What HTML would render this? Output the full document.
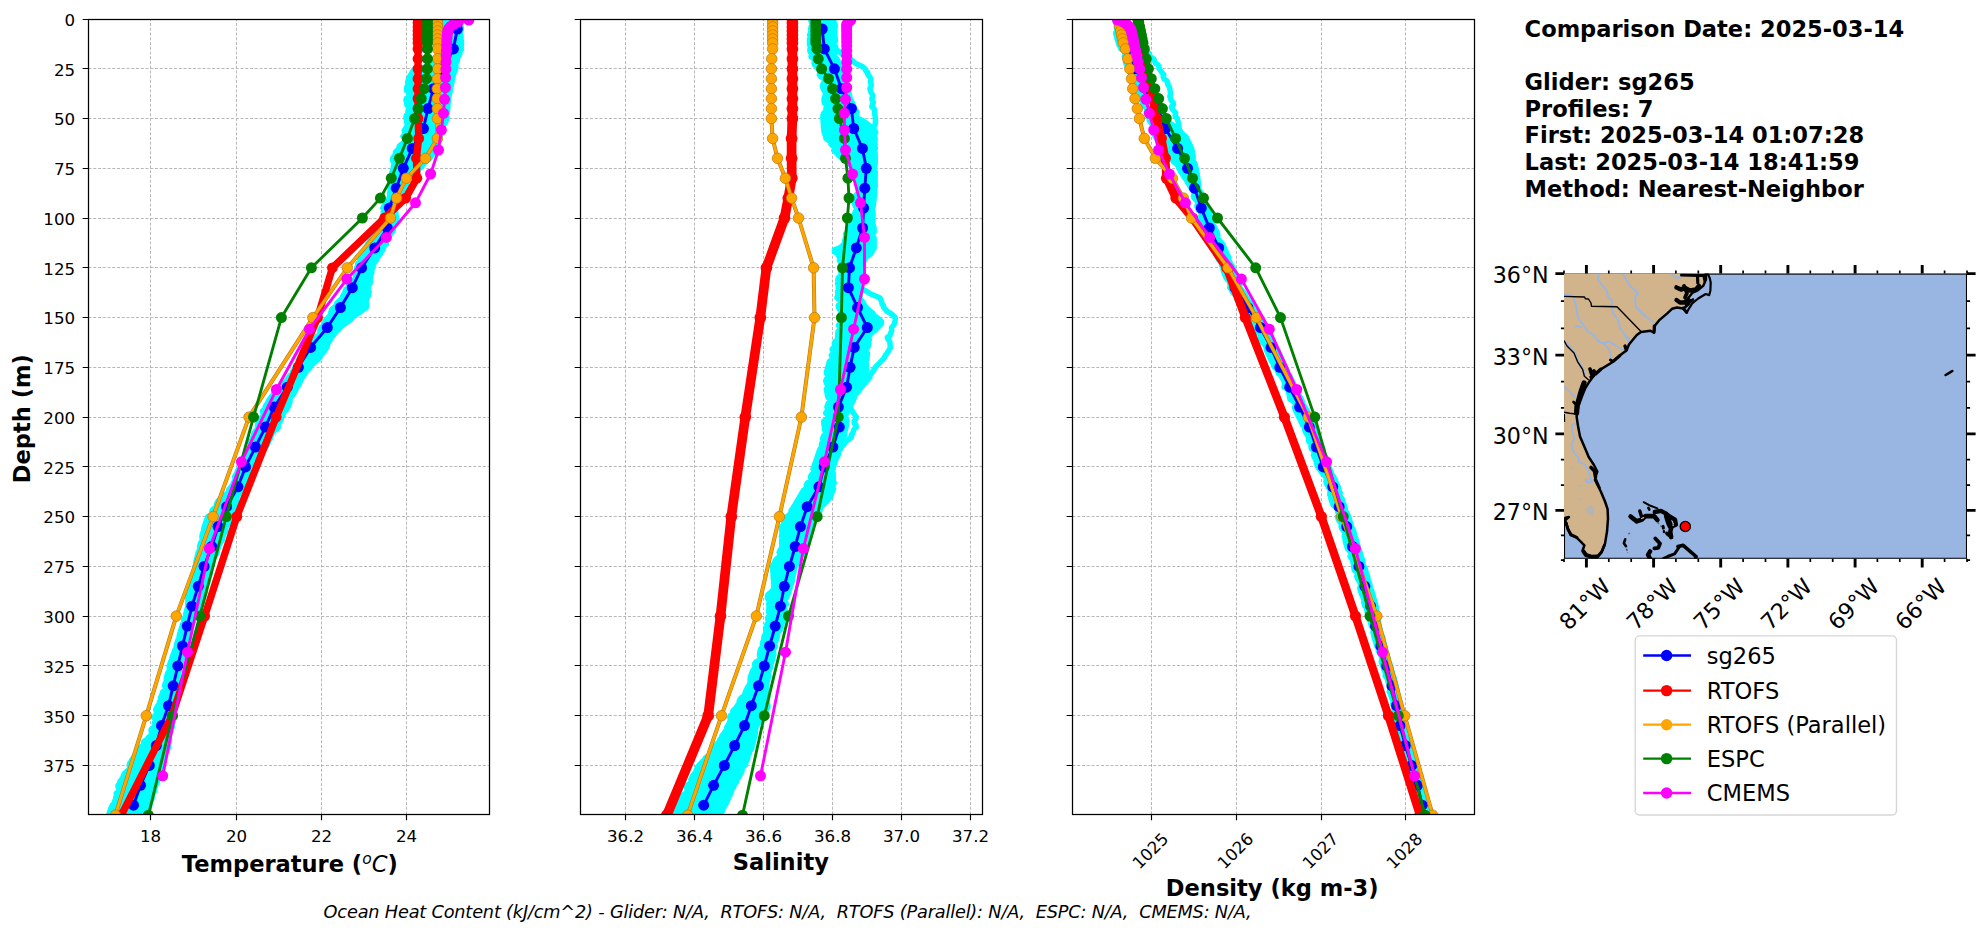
<!DOCTYPE html>
<html lang="en"><head><meta charset="utf-8"><title>Glider / model profile comparison sg265 2025-03-14</title>
<style>html,body{margin:0;padding:0;background:#fff}body{width:1978px;height:934px;overflow:hidden}svg{display:block}text{font-family:"DejaVu Sans","Liberation Sans",sans-serif;fill:#000}</style></head><body>
<svg width="1978" height="934" viewBox="0 0 1978 934">
<rect width="1978" height="934" fill="#fff"/>
<defs>
<clipPath id="c0"><rect x="88.8" y="19.8" width="400.4" height="794.4"/></clipPath>
<clipPath id="c1"><rect x="580.8" y="19.8" width="401.4" height="794.4"/></clipPath>
<clipPath id="c2"><rect x="1072.8" y="19.8" width="401.4" height="794.4"/></clipPath>
</defs>
<path d="M88.5 68.5H489.5M88.5 118.5H489.5M88.5 168.5H489.5M88.5 218.5H489.5M88.5 267.5H489.5M88.5 317.5H489.5M88.5 367.5H489.5M88.5 417.5H489.5M88.5 466.5H489.5M88.5 516.5H489.5M88.5 566.5H489.5M88.5 616.5H489.5M88.5 665.5H489.5M88.5 715.5H489.5M88.5 765.5H489.5M150.5 814.5V19.5M236.5 814.5V19.5M321.5 814.5V19.5M406.5 814.5V19.5" stroke="#b0b0b0" stroke-width="0.9" stroke-dasharray="3.0 1.75" fill="none"/>
<g clip-path="url(#c0)">
<g fill="none" stroke="#00ffff" stroke-width="5.5" stroke-linejoin="round" stroke-linecap="round">
<polygon points="443.8,19 445,21 444.9,23 445,25 444.8,27 444.2,29 443.7,30.9 442.7,32.9 444,34.9 444.5,36.9 442.1,38.9 441.9,40.9 442.4,42.9 444.3,44.9 443,46.9 442.5,48.9 441.1,50.8 440.3,52.8 439.5,54.8 438.7,56.8 437.9,58.8 435.9,60.8 433.9,62.8 432.5,64.8 429.9,66.8 414.4,68.8 413.2,70.8 412,72.7 410.8,74.7 409.6,76.7 408.8,78.7 408,80.7 407.7,82.7 408.4,84.7 406.9,86.7 406.5,88.7 406.6,90.7 409,92.6 408.9,94.6 408.6,96.6 406.3,98.6 406,100.6 406.7,102.6 406.8,104.6 408.2,106.6 408.7,108.6 408,110.6 408.2,112.6 407,114.5 406,116.5 406,118.5 406.8,120.5 407.5,122.5 407.5,124.5 408.1,126.5 405.9,128.5 404.3,130.5 405.5,132.5 404.5,134.4 402.9,136.4 404.4,138.4 404.5,140.4 403.9,142.4 401.4,144.4 399.2,146.4 398.9,148.4 397.1,150.4 395.4,152.4 396.2,154.4 394.3,156.3 392.6,158.3 392.5,160.3 393.5,162.3 394,164.3 393.3,166.3 393.6,168.3 392.5,170.3 391.8,172.3 392.1,174.3 391.5,176.2 391.4,178.2 391.2,180.2 390.9,182.2 390.7,184.2 390.5,186.2 390.2,188.2 390.3,190.2 389.8,192.2 389.6,194.2 389.8,196.2 389.1,198.1 387.9,200.1 386.6,202.1 385.4,204.1 384.1,206.1 382.9,208.1 384.7,210.1 383.3,212.1 383.5,214.1 386.5,216.1 385.1,218 384.4,220 383.5,222 382.6,224 382.2,226 382,228 379.3,230 376.9,232 374.6,234 374.8,236 372,238 369.8,239.9 369.1,241.9 367.8,243.9 367.1,245.9 367.2,247.9 365,249.9 363.6,251.9 362.9,253.9 360.8,255.9 359.4,257.9 362.6,259.9 359.6,261.8 357.7,263.8 358.5,265.8 356.5,267.8 357,269.8 357.1,271.8 355.2,273.8 355.5,275.8 355.6,277.8 354.7,279.8 352.1,281.7 348.9,283.7 348.8,285.7 347.9,287.7 345.7,289.7 345,291.7 344.3,293.7 342.8,295.7 342.5,297.7 340.5,299.7 338.3,301.7 336.6,303.6 336.2,305.6 333.6,307.6 331.7,309.6 331.1,311.6 330.6,313.6 330.1,315.6 328,317.6 326,319.6 325.1,321.6 324.1,323.5 323.3,325.5 321.3,327.5 320.1,329.5 319.8,331.5 320.4,333.5 318.4,335.5 315.7,337.5 315.9,339.5 311.7,341.5 309.8,343.5 308,345.4 306.1,347.4 307.5,349.4 307,351.4 305.3,353.4 304.2,355.4 300.3,357.4 298.9,359.4 299,361.4 299.4,363.4 295.8,365.3 295.1,367.3 294.1,369.3 292.6,371.3 293.9,373.3 290.7,375.3 288.6,377.3 287.6,379.3 285.7,381.3 283.6,383.3 281,385.3 278.2,387.2 278.3,389.2 275.9,391.2 273.7,393.2 272.9,395.2 271.1,397.2 269.6,399.2 268.2,401.2 267.8,403.2 265.9,405.2 265.1,407.1 265.3,409.1 262.4,411.1 263,413.1 264.6,415.1 262.7,417.1 259.6,419.1 259,421.1 258.3,423.1 257.6,425.1 258.3,427.1 258.1,429 255.5,431 254.6,433 253.7,435 252.9,437 252.6,439 251,441 250,443 251.8,445 251.6,447 248.8,448.9 248.9,450.9 248.3,452.9 244.9,454.9 244.8,456.9 244.3,458.9 242.1,460.9 241.9,462.9 241.2,464.9 239.7,466.9 238.8,468.9 237.4,470.8 237,472.8 235.9,474.8 234.6,476.8 235.7,478.8 235.6,480.8 234.6,482.8 235.3,484.8 233.2,486.8 229.6,488.8 228.5,490.7 228.5,492.7 226.6,494.7 224.2,496.7 222.6,498.7 222,500.7 218.5,502.7 217,504.7 217.3,506.7 213.9,508.7 212,510.7 212.3,512.6 211.7,514.6 207.8,516.6 207.1,518.6 206.4,520.6 205.7,522.6 205,524.6 204.3,526.6 203.8,528.6 203.7,530.6 202.9,532.5 202.4,534.5 201.9,536.5 202.1,538.5 202.4,540.5 200.8,542.5 200.1,544.5 199.6,546.5 199.7,548.5 199.4,550.5 198.2,552.5 197.7,554.4 197.2,556.4 196.9,558.4 196.3,560.4 195.8,562.4 196.4,564.4 194.9,566.4 196.2,568.4 197.2,570.4 195.9,572.4 195.3,574.3 193.5,576.3 194.4,578.3 195.7,580.3 194.1,582.3 192.4,584.3 191.5,586.3 189.8,588.3 190.1,590.3 190,592.3 189.2,594.3 187.9,596.2 187.9,598.2 187.9,600.2 187.9,602.2 187.9,604.2 187.9,606.2 187.3,608.2 186.7,610.2 186.2,612.2 185.6,614.2 185.6,616.1 184.4,618.1 183.8,620.1 185,622.1 182.7,624.1 182.1,626.1 181.5,628.1 180.9,630.1 180.3,632.1 179.7,634.1 179.1,636.1 179.1,638 178,640 177.4,642 176.8,644 176.2,646 178.4,648 177.5,650 175,652 174.2,654 172.7,656 172,658 171.8,659.9 170.6,661.9 169.9,663.9 169.2,665.9 169.3,667.9 169.7,669.9 168.4,671.9 167.4,673.9 166.9,675.9 166.4,677.9 166.3,679.8 166.1,681.8 165.1,683.8 164.6,685.8 166.5,687.8 167.1,689.8 164.4,691.8 164.1,693.8 164.4,695.8 163.3,697.8 161.3,699.8 159.4,701.7 159.3,703.7 158.1,705.7 156.7,707.7 155.7,709.7 156.5,711.7 156.5,713.7 154.9,715.7 153.8,717.7 155.6,719.7 155.5,721.6 154.2,723.6 155.2,725.6 153.3,727.6 151.1,729.6 151.2,731.6 151.6,733.6 150.7,735.6 148.2,737.6 146.8,739.6 143.8,741.6 143.6,743.5 143.5,745.5 139.9,747.5 138.6,749.5 137.4,751.5 136.1,753.5 134.8,755.5 133.5,757.5 132.2,759.5 131,761.5 129.7,763.4 129.3,765.4 129.9,767.4 129.3,769.4 126.9,771.4 124.7,773.4 123.5,775.4 122.9,777.4 121.8,779.4 120,781.4 119.5,783.4 118.1,785.3 118.1,787.3 119.1,789.3 118.6,791.3 116.2,793.3 116.6,795.3 115.7,797.3 115.6,799.3 114.5,801.3 114.5,803.3 112.2,805.2 111.4,807.2 110.7,809.2 110,811.2 109.3,813.2 108.6,815.2 145.6,815.2 146.5,813.2 148.2,811.2 148.9,809.2 147.5,807.2 148.7,805.2 149.2,803.3 150.2,801.3 150.4,799.3 151.2,797.3 151.3,795.3 153.1,793.3 154.4,791.3 153.1,789.3 152.9,787.3 155.5,785.3 156.8,783.4 157.5,781.4 158.2,779.4 158.5,777.4 157.8,775.4 158.8,773.4 161,771.4 160.1,769.4 159.5,767.4 161.6,765.4 161.3,763.4 161,761.5 163.9,759.5 164.1,757.5 164.1,755.5 164.1,753.5 165.3,751.5 167.7,749.5 168.3,747.5 168.5,745.5 169.1,743.5 169,741.6 169.5,739.6 169.1,737.6 169,735.6 170,733.6 168.3,731.6 168.6,729.6 172.1,727.6 172.4,725.6 170,723.6 171,721.6 171.9,719.7 172.5,717.7 171.9,715.7 170.3,713.7 171.2,711.7 171.6,709.7 170.7,707.7 170.6,705.7 171.4,703.7 171,701.7 171.4,699.8 171.4,697.8 170.5,695.8 169.6,693.8 169.5,691.8 171.8,689.8 174.2,687.8 174.9,685.8 176.4,683.8 176.7,681.8 177.3,679.8 177.8,677.9 178.3,675.9 177.5,673.9 177.8,671.9 177.3,669.9 177.3,667.9 179.1,665.9 178.3,663.9 178.5,661.9 179.5,659.9 181.7,658 181.9,656 181.8,654 183.2,652 183,650 184.1,648 185.3,646 185.9,644 186.5,642 187,640 186.2,638 188.2,636.1 188.8,634.1 188.7,632.1 189.9,630.1 189.1,628.1 190.5,626.1 191.9,624.1 192.8,622.1 192.3,620.1 192.4,618.1 193.9,616.1 193.7,614.2 195.5,612.2 197.8,610.2 198.7,608.2 196.9,606.2 199.6,604.2 201.3,602.2 202.3,600.2 203,598.2 202,596.2 203.5,594.3 204.9,592.3 203.6,590.3 202.9,588.3 203.5,586.3 206.5,584.3 207.5,582.3 206,580.3 207,578.3 207.7,576.3 209.8,574.3 209.4,572.4 208.7,570.4 209.9,568.4 210.3,566.4 210.8,564.4 209.6,562.4 210.6,560.4 212.3,558.4 213.1,556.4 213.9,554.4 217.1,552.5 217.1,550.5 218,548.5 218.4,546.5 217.7,544.5 219.7,542.5 221.8,540.5 220.2,538.5 220.7,536.5 223.1,534.5 223.5,532.5 223.5,530.6 224.8,528.6 224.1,526.6 224.6,524.6 227.5,522.6 228.1,520.6 228.9,518.6 230.5,516.6 231.9,514.6 232.5,512.6 231.8,510.7 232.8,508.7 236.4,506.7 238.2,504.7 237.8,502.7 236.1,500.7 235.9,498.7 235.8,496.7 237.7,494.7 238.6,492.7 238.5,490.7 238.9,488.8 240.1,486.8 242.8,484.8 244.1,482.8 243.7,480.8 245.3,478.8 246.6,476.8 247.4,474.8 248.2,472.8 249,470.8 248.9,468.9 248.8,466.9 250.3,464.9 252.8,462.9 254.9,460.9 254.7,458.9 255.1,456.9 257.9,454.9 261.2,452.9 262.8,450.9 264.3,448.9 265.8,447 267,445 268.1,443 268.1,441 267.6,439 268.8,437 270.9,435 271.5,433 273.4,431 276.7,429 276.6,427.1 275.7,425.1 277.2,423.1 280.2,421.1 281.4,419.1 281.5,417.1 283.1,415.1 283.2,413.1 284.8,411.1 286.8,409.1 288,407.1 288.8,405.2 289.3,403.2 289.7,401.2 288.7,399.2 288.5,397.2 292.5,395.2 294.1,393.2 294.9,391.2 294,389.2 295.1,387.2 298.1,385.3 299.5,383.3 300.4,381.3 301.4,379.3 302.2,377.3 303.9,375.3 303.1,373.3 304.9,371.3 308.1,369.3 310,367.3 310.7,365.3 311.9,363.4 314.4,361.4 317.9,359.4 319.8,357.4 319,355.4 320.9,353.4 324,351.4 325.4,349.4 326.8,347.4 325.8,345.4 326,343.5 326.9,341.5 328.5,339.5 329.8,337.5 333,335.5 332.5,333.5 333.3,331.5 338,329.5 339.7,327.5 340.9,325.5 345.2,323.5 347.3,321.6 350.2,319.6 352.1,317.6 353.4,315.6 355.4,313.6 357.8,311.6 361,309.6 365.7,307.6 366.6,305.6 366.5,303.6 365.4,301.7 365.2,299.7 367.2,297.7 365.9,295.7 366.3,293.7 369.2,291.7 367.9,289.7 365.9,287.7 368.1,285.7 369.9,283.7 370.3,281.7 369.5,279.8 370.7,277.8 370.5,275.8 368.1,273.8 368.9,271.8 370.9,269.8 372.1,267.8 372.5,265.8 373.6,263.8 373.1,261.8 374,259.9 374.3,257.9 375.9,255.9 378.8,253.9 380.4,251.9 382.5,249.9 382.8,247.9 383.5,245.9 384.7,243.9 384.3,241.9 386,239.9 389,238 389.6,236 389.5,234 392.3,232 393.2,230 393.3,228 392.2,226 394.5,224 395.5,222 396,220 396.5,218 396.2,216.1 395.9,214.1 395.7,212.1 395.4,210.1 394,208.1 393.7,206.1 398.2,204.1 399.7,202.1 400.8,200.1 402.7,198.1 403.4,196.2 404,194.2 404,192.2 404.1,190.2 404.3,188.2 405.1,186.2 405.3,184.2 405.1,182.2 406.1,180.2 407.4,178.2 410.4,176.2 412.4,174.3 415.3,172.3 417.5,170.3 419.7,168.3 421.9,166.3 422.9,164.3 423.4,162.3 426.5,160.3 428.5,158.3 429.6,156.3 432.7,154.4 433.6,152.4 434.5,150.4 434.6,148.4 436.1,146.4 436.7,144.4 438.2,142.4 439.2,140.4 438.6,138.4 438.5,136.4 438.7,134.4 438.9,132.5 441,130.5 441.7,128.5 441.5,126.5 441.8,124.5 444.6,122.5 445,120.5 444.8,118.5 445.3,116.5 446.5,114.5 447.4,112.6 447.5,110.6 447.6,108.6 447.8,106.6 448,104.6 448.1,102.6 448.3,100.6 448.5,98.6 448.9,96.6 449.3,94.6 449.7,92.6 450.1,90.7 450.5,88.7 450.9,86.7 451.3,84.7 451.7,82.7 452.1,80.7 452.5,78.7 453.1,76.7 453.4,74.7 454,72.7 454.8,70.8 455.4,68.8 456.1,66.8 455.3,64.8 456.1,62.8 456.8,60.8 457.4,58.8 458.2,56.8 458,54.8 457.9,52.8 460.5,50.8 461.4,48.9 460.5,46.9 461.4,44.9 461.4,42.9 461.4,40.9 460.8,38.9 459.4,36.9 459.9,34.9 458.8,32.9 459.9,30.9 461.3,29 460.6,27 460,25 460,23 461.2,21 461.1,19" fill="#00ffff" stroke="none"/>
<polyline points="443.8,19 445,21 444.9,23 445,25 444.8,27 444.2,29 443.7,30.9 442.7,32.9 444,34.9 444.5,36.9 442.1,38.9 441.9,40.9 442.4,42.9 444.3,44.9 443,46.9 442.5,48.9 441.1,50.8 440.3,52.8 439.5,54.8 438.7,56.8 437.9,58.8 435.9,60.8 433.9,62.8 432.5,64.8 429.9,66.8 414.4,68.8 413.2,70.8 412,72.7 410.8,74.7 409.6,76.7 408.8,78.7 408,80.7 407.7,82.7 408.4,84.7 406.9,86.7 406.5,88.7 406.6,90.7 409,92.6 408.9,94.6 408.6,96.6 406.3,98.6 406,100.6 406.7,102.6 406.8,104.6 408.2,106.6 408.7,108.6 408,110.6 408.2,112.6 407,114.5 406,116.5 406,118.5 406.8,120.5 407.5,122.5 407.5,124.5 408.1,126.5 405.9,128.5 404.3,130.5 405.5,132.5 404.5,134.4 402.9,136.4 404.4,138.4 404.5,140.4 403.9,142.4 401.4,144.4 399.2,146.4 398.9,148.4 397.1,150.4 395.4,152.4 396.2,154.4 394.3,156.3 392.6,158.3 392.5,160.3 393.5,162.3 394,164.3 393.3,166.3 393.6,168.3 392.5,170.3 391.8,172.3 392.1,174.3 391.5,176.2 391.4,178.2 391.2,180.2 390.9,182.2 390.7,184.2 390.5,186.2 390.2,188.2 390.3,190.2 389.8,192.2 389.6,194.2 389.8,196.2 389.1,198.1 387.9,200.1 386.6,202.1 385.4,204.1 384.1,206.1 382.9,208.1 384.7,210.1 383.3,212.1 383.5,214.1 386.5,216.1 385.1,218 384.4,220 383.5,222 382.6,224 382.2,226 382,228 379.3,230 376.9,232 374.6,234 374.8,236 372,238 369.8,239.9 369.1,241.9 367.8,243.9 367.1,245.9 367.2,247.9 365,249.9 363.6,251.9 362.9,253.9 360.8,255.9 359.4,257.9 362.6,259.9 359.6,261.8 357.7,263.8 358.5,265.8 356.5,267.8 357,269.8 357.1,271.8 355.2,273.8 355.5,275.8 355.6,277.8 354.7,279.8 352.1,281.7 348.9,283.7 348.8,285.7 347.9,287.7 345.7,289.7 345,291.7 344.3,293.7 342.8,295.7 342.5,297.7 340.5,299.7 338.3,301.7 336.6,303.6 336.2,305.6 333.6,307.6 331.7,309.6 331.1,311.6 330.6,313.6 330.1,315.6 328,317.6 326,319.6 325.1,321.6 324.1,323.5 323.3,325.5 321.3,327.5 320.1,329.5 319.8,331.5 320.4,333.5 318.4,335.5 315.7,337.5 315.9,339.5 311.7,341.5 309.8,343.5 308,345.4 306.1,347.4 307.5,349.4 307,351.4 305.3,353.4 304.2,355.4 300.3,357.4 298.9,359.4 299,361.4 299.4,363.4 295.8,365.3 295.1,367.3 294.1,369.3 292.6,371.3 293.9,373.3 290.7,375.3 288.6,377.3 287.6,379.3 285.7,381.3 283.6,383.3 281,385.3 278.2,387.2 278.3,389.2 275.9,391.2 273.7,393.2 272.9,395.2 271.1,397.2 269.6,399.2 268.2,401.2 267.8,403.2 265.9,405.2 265.1,407.1 265.3,409.1 262.4,411.1 263,413.1 264.6,415.1 262.7,417.1 259.6,419.1 259,421.1 258.3,423.1 257.6,425.1 258.3,427.1 258.1,429 255.5,431 254.6,433 253.7,435 252.9,437 252.6,439 251,441 250,443 251.8,445 251.6,447 248.8,448.9 248.9,450.9 248.3,452.9 244.9,454.9 244.8,456.9 244.3,458.9 242.1,460.9 241.9,462.9 241.2,464.9 239.7,466.9 238.8,468.9 237.4,470.8 237,472.8 235.9,474.8 234.6,476.8 235.7,478.8 235.6,480.8 234.6,482.8 235.3,484.8 233.2,486.8 229.6,488.8 228.5,490.7 228.5,492.7 226.6,494.7 224.2,496.7 222.6,498.7 222,500.7 218.5,502.7 217,504.7 217.3,506.7 213.9,508.7 212,510.7 212.3,512.6 211.7,514.6 207.8,516.6 207.1,518.6 206.4,520.6 205.7,522.6 205,524.6 204.3,526.6 203.8,528.6 203.7,530.6 202.9,532.5 202.4,534.5 201.9,536.5 202.1,538.5 202.4,540.5 200.8,542.5 200.1,544.5 199.6,546.5 199.7,548.5 199.4,550.5 198.2,552.5 197.7,554.4 197.2,556.4 196.9,558.4 196.3,560.4 195.8,562.4 196.4,564.4 194.9,566.4 196.2,568.4 197.2,570.4 195.9,572.4 195.3,574.3 193.5,576.3 194.4,578.3 195.7,580.3 194.1,582.3 192.4,584.3 191.5,586.3 189.8,588.3 190.1,590.3 190,592.3 189.2,594.3 187.9,596.2 187.9,598.2 187.9,600.2 187.9,602.2 187.9,604.2 187.9,606.2 187.3,608.2 186.7,610.2 186.2,612.2 185.6,614.2 185.6,616.1 184.4,618.1 183.8,620.1 185,622.1 182.7,624.1 182.1,626.1 181.5,628.1 180.9,630.1 180.3,632.1 179.7,634.1 179.1,636.1 179.1,638 178,640 177.4,642 176.8,644 176.2,646 178.4,648 177.5,650 175,652 174.2,654 172.7,656 172,658 171.8,659.9 170.6,661.9 169.9,663.9 169.2,665.9 169.3,667.9 169.7,669.9 168.4,671.9 167.4,673.9 166.9,675.9 166.4,677.9 166.3,679.8 166.1,681.8 165.1,683.8 164.6,685.8 166.5,687.8 167.1,689.8 164.4,691.8 164.1,693.8 164.4,695.8 163.3,697.8 161.3,699.8 159.4,701.7 159.3,703.7 158.1,705.7 156.7,707.7 155.7,709.7 156.5,711.7 156.5,713.7 154.9,715.7 153.8,717.7 155.6,719.7 155.5,721.6 154.2,723.6 155.2,725.6 153.3,727.6 151.1,729.6 151.2,731.6 151.6,733.6 150.7,735.6 148.2,737.6 146.8,739.6 143.8,741.6 143.6,743.5 143.5,745.5 139.9,747.5 138.6,749.5 137.4,751.5 136.1,753.5 134.8,755.5 133.5,757.5 132.2,759.5 131,761.5 129.7,763.4 129.3,765.4 129.9,767.4 129.3,769.4 126.9,771.4 124.7,773.4 123.5,775.4 122.9,777.4 121.8,779.4 120,781.4 119.5,783.4 118.1,785.3 118.1,787.3 119.1,789.3 118.6,791.3 116.2,793.3 116.6,795.3 115.7,797.3 115.6,799.3 114.5,801.3 114.5,803.3 112.2,805.2 111.4,807.2 110.7,809.2 110,811.2 109.3,813.2 108.6,815.2"/>
<polyline points="444.3,19 445.5,21 446.6,23 444.2,25 443.5,27 445,29 445.1,30.9 444.3,32.9 446.9,34.9 448.5,36.9 448.1,38.9 446,40.9 445.4,42.9 446.8,44.9 447.6,46.9 446,48.9 445.4,50.8 444.7,52.8 441.4,54.8 438.9,56.8 438.2,58.8 437.5,60.8 436.8,62.8 437,64.8 437.5,66.8 424.1,68.8 421.4,70.8 423.3,72.7 423.7,74.7 421.1,76.7 418.1,78.7 416.9,80.7 416.4,82.7 417,84.7 418.1,86.7 416.5,88.7 416.5,90.7 417.4,92.6 415,94.6 412.3,96.6 413.6,98.6 411.9,100.6 411.6,102.6 412.3,104.6 412.9,106.6 413.9,108.6 412,110.6 411.9,112.6 413.8,114.5 411,116.5 407.2,118.5 407.7,120.5 406.8,122.5 407.5,124.5 406.8,126.5 405.7,128.5 405.6,130.5 407.8,132.5 407,134.4 408.2,136.4 410.2,138.4 411.2,140.4 411.2,142.4 412.6,144.4 411.7,146.4 410.9,148.4 410.2,150.4 405.8,152.4 405.9,154.4 406.4,156.3 404,158.3 402.8,160.3 401,162.3 402.2,164.3 401,166.3 401.3,168.3 401.8,170.3 400.7,172.3 397.8,174.3 397.6,176.2 397.3,178.2 396,180.2 395.1,182.2 395.2,184.2 394.9,186.2 394.7,188.2 394.1,190.2 393.2,192.2 391.4,194.2 393.7,196.2 395.2,198.1 393.6,200.1 393.8,202.1 394.6,204.1 391.7,206.1 390.2,208.1 391.7,210.1 392.4,212.1 389,214.1 388.7,216.1 391.1,218 392.1,220 388.7,222 386,224 386.9,226 385.5,228 383.2,230 381,232 380.7,234 378.1,236 376,238 375.7,239.9 374,241.9 373.9,243.9 372.6,245.9 371.8,247.9 372.7,249.9 370.5,251.9 366.7,253.9 366,255.9 367.6,257.9 366.7,259.9 364.4,261.8 363.7,263.8 361.3,265.8 358.9,267.8 357.1,269.8 355.8,271.8 358.7,273.8 357.6,275.8 355.6,277.8 354.7,279.8 354.7,281.7 355.8,283.7 356.3,285.7 356.4,287.7 351.7,289.7 346.7,291.7 346.8,293.7 348.1,295.7 347,297.7 344.2,299.7 344.1,301.7 343.4,303.6 342,305.6 340.3,307.6 340.9,309.6 338.9,311.6 337.4,313.6 336.4,315.6 334.1,317.6 330.4,319.6 330.2,321.6 331.7,323.5 330.1,325.5 328.3,327.5 326,329.5 324.2,331.5 323,333.5 321.3,335.5 320.4,337.5 318.6,339.5 317.8,341.5 317.7,343.5 314,345.4 313,347.4 311.1,349.4 310.4,351.4 312.8,353.4 311.1,355.4 307.7,357.4 305.3,359.4 303.7,361.4 301.7,363.4 299.5,365.3 298,367.3 295.3,369.3 294.3,371.3 293.4,373.3 290.4,375.3 291.8,377.3 291.5,379.3 286.1,381.3 284.9,383.3 285.2,385.3 282.6,387.2 283.2,389.2 280.7,391.2 276.8,393.2 275.6,395.2 276.8,397.2 275.5,399.2 274.1,401.2 270.7,403.2 270,405.2 268.7,407.1 266.5,409.1 265.9,411.1 263.8,413.1 263.4,415.1 262.2,417.1 259.7,419.1 259.1,421.1 258.3,423.1 257.6,425.1 257.6,427.1 257.5,429 256.5,431 254.2,433 253.9,435 253.4,437 253.2,439 254.3,441 254.5,443 252.5,445 249.7,447 251,448.9 249.4,450.9 246.6,452.9 244.9,454.9 244.1,456.9 245.9,458.9 244.6,460.9 244.2,462.9 243.8,464.9 242.1,466.9 242.8,468.9 240.8,470.8 239.1,472.8 237.7,474.8 235.3,476.8 235.9,478.8 234.6,480.8 233.4,482.8 232.6,484.8 231.3,486.8 229.7,488.8 228.6,490.7 228.4,492.7 225.4,494.7 224.3,496.7 220.4,498.7 218.3,500.7 217.1,502.7 216.4,504.7 218.1,506.7 217.8,508.7 216.8,510.7 214.8,512.6 215.5,514.6 216.7,516.6 213.7,518.6 211.5,520.6 212.2,522.6 211.5,524.6 209.9,526.6 210.2,528.6 209.9,530.6 208.6,532.5 207.8,534.5 208.1,536.5 205.2,538.5 205.4,540.5 207.5,542.5 207.1,544.5 206.2,546.5 206.2,548.5 205.8,550.5 203.5,552.5 204.7,554.4 204.6,556.4 203.2,558.4 202.6,560.4 202.6,562.4 203.1,564.4 201.3,566.4 197.9,568.4 199.1,570.4 200,572.4 198,574.3 194.3,576.3 194.9,578.3 194.2,580.3 192.7,582.3 193.8,584.3 192.9,586.3 192.3,588.3 192.9,590.3 192.7,592.3 192.4,594.3 191.6,596.2 191.5,598.2 191,600.2 189.7,602.2 191.1,604.2 192.6,606.2 191,608.2 189.3,610.2 187.9,612.2 188.7,614.2 186.7,616.1 185.7,618.1 185.6,620.1 184.8,622.1 183.1,624.1 183.9,626.1 185.1,628.1 184,630.1 181.6,632.1 179.9,634.1 181.7,636.1 181,638 179.1,640 178.6,642 177.2,644 177.8,646 176.5,648 175,650 175.2,652 173.4,654 173.3,656 174.6,658 174.4,659.9 171.7,661.9 171.4,663.9 171.9,665.9 171.4,667.9 171.3,669.9 172.1,671.9 171.3,673.9 171.2,675.9 169,677.9 167,679.8 167.2,681.8 167.5,683.8 167.9,685.8 167,687.8 165.2,689.8 162.7,691.8 162.3,693.8 161.4,695.8 160.5,697.8 162.6,699.8 162.4,701.7 160.9,703.7 161.4,705.7 160.4,707.7 159.8,709.7 157.6,711.7 157.5,713.7 158,715.7 156.8,717.7 157.3,719.7 155.1,721.6 156.3,723.6 157.8,725.6 155.5,727.6 152.4,729.6 152.4,731.6 153.7,733.6 152.2,735.6 150.6,737.6 151.4,739.6 150.8,741.6 149.2,743.5 149.4,745.5 149.7,747.5 147.4,749.5 147.3,751.5 146.8,753.5 144,755.5 141.7,757.5 142.5,759.5 141,761.5 139.9,763.4 136.9,765.4 133.3,767.4 133.3,769.4 132.8,771.4 132.1,773.4 129.6,775.4 125.3,777.4 124.1,779.4 123.2,781.4 121.7,783.4 123.1,785.3 120.4,787.3 119.8,789.3 123.6,791.3 122.4,793.3 119.5,795.3 118,797.3 116.4,799.3 119.1,801.3 119.5,803.3 116.5,805.2 113,807.2 110.7,809.2 110.9,811.2 111.3,813.2 110.6,815.2"/>
<polyline points="452.6,19 450.2,21 450.6,23 449.9,25 450.1,27 449.5,29 451.4,30.9 451.4,32.9 451.4,34.9 451.2,36.9 450.6,38.9 451.2,40.9 449.1,42.9 447.5,44.9 449.3,46.9 449.9,48.9 447.8,50.8 446.6,52.8 447,54.8 447.2,56.8 449.6,58.8 448.7,60.8 447.3,62.8 446.9,64.8 444.2,66.8 438.5,68.8 439.9,70.8 438.1,72.7 438.4,74.7 436.9,76.7 435.2,78.7 433.3,80.7 431.2,82.7 432.2,84.7 433,86.7 432.5,88.7 432.4,90.7 434.1,92.6 435.7,94.6 434.4,96.6 432.6,98.6 432.6,100.6 432.5,102.6 432.3,104.6 430.7,106.6 430.6,108.6 430.2,110.6 427.4,112.6 427.5,114.5 429.2,116.5 428.1,118.5 427.4,120.5 425.4,122.5 426,124.5 423.7,126.5 423,128.5 424.1,130.5 422.9,132.5 421.9,134.4 421.2,136.4 420.5,138.4 418.8,140.4 420.3,142.4 420.5,144.4 417.4,146.4 417.3,148.4 416.6,150.4 412.9,152.4 411.4,154.4 411.1,156.3 410.5,158.3 407.8,160.3 405.9,162.3 406.2,164.3 406.7,166.3 404.4,168.3 402.7,170.3 402.3,172.3 401.4,174.3 401.4,176.2 400.2,178.2 400.6,180.2 401,182.2 399.9,184.2 398.7,186.2 398.7,188.2 398.9,190.2 398.6,192.2 398.3,194.2 398.6,196.2 398.1,198.1 396.3,200.1 393.9,202.1 392.8,204.1 390.3,206.1 387,208.1 389.3,210.1 390.8,212.1 393,214.1 393.1,216.1 393,218 391.5,220 390.2,222 390.7,224 390.5,226 388.6,228 387,230 383.9,232 381.5,234 379.2,236 378.6,238 379.2,239.9 377,241.9 377.1,243.9 376.5,245.9 375.1,247.9 376.2,249.9 373.5,251.9 370.1,253.9 366.8,255.9 367.2,257.9 367.6,259.9 363.2,261.8 362.2,263.8 360.5,265.8 358,267.8 359.5,269.8 359,271.8 357.2,273.8 359,275.8 358.6,277.8 355.9,279.8 356.1,281.7 353.8,283.7 351.4,285.7 351.7,287.7 351.8,289.7 350.7,291.7 350.4,293.7 349.7,295.7 349.4,297.7 346.1,299.7 344.7,301.7 345.4,303.6 343.4,305.6 339.4,307.6 337.2,309.6 337.2,311.6 338.6,313.6 336,315.6 332.1,317.6 331.9,319.6 331.8,321.6 329.9,323.5 327.7,325.5 325.5,327.5 325.5,329.5 324.9,331.5 324.2,333.5 323.4,335.5 321.2,337.5 319.3,339.5 318.4,341.5 316.4,343.5 316.1,345.4 315.9,347.4 314.1,349.4 312.2,351.4 310.6,353.4 311.2,355.4 308.4,357.4 305.7,359.4 304.2,361.4 304.5,363.4 305.1,365.3 302.5,367.3 300.9,369.3 298.7,371.3 295.1,373.3 293.5,375.3 292.9,377.3 292.4,379.3 290.5,381.3 289.7,383.3 289.4,385.3 286,387.2 282.9,389.2 281.3,391.2 281.1,393.2 279.7,395.2 277.4,397.2 278.9,399.2 280.6,401.2 277.1,403.2 278.3,405.2 278.3,407.1 276.7,409.1 275,411.1 274.2,413.1 274,415.1 272.1,417.1 270.4,419.1 269.1,421.1 265.6,423.1 264.9,425.1 265.9,427.1 263.9,429 262.5,431 261.7,433 260.3,435 258.2,437 258,439 257.8,441 255.9,443 255.3,445 254.1,447 253.5,448.9 254.1,450.9 252,452.9 250.8,454.9 251.2,456.9 250.7,458.9 248.5,460.9 244.7,462.9 244.2,464.9 245.6,466.9 245,468.9 246.2,470.8 244.3,472.8 242.2,474.8 240.1,476.8 239.2,478.8 239.3,480.8 239.4,482.8 238.5,484.8 236.3,486.8 234.3,488.8 235.3,490.7 233.5,492.7 231.5,494.7 232,496.7 231.3,498.7 229.4,500.7 229.9,502.7 229.9,504.7 228.8,506.7 226.3,508.7 225.4,510.7 225.2,512.6 224.6,514.6 221.9,516.6 219.5,518.6 218.2,520.6 216.9,522.6 216,524.6 216.7,526.6 217.1,528.6 214.1,530.6 210.9,532.5 209.6,534.5 211.6,536.5 212.5,538.5 210.8,540.5 209.9,542.5 208.9,544.5 207.2,546.5 204.9,548.5 204.4,550.5 205.5,552.5 206.9,554.4 207,556.4 206.4,558.4 204.3,560.4 204.3,562.4 203.8,564.4 203.1,566.4 202.6,568.4 201.6,570.4 200.7,572.4 200.5,574.3 199.7,576.3 200.1,578.3 200.7,580.3 200.6,582.3 197.9,584.3 197.8,586.3 199.2,588.3 198.1,590.3 196.1,592.3 195.2,594.3 193.3,596.2 193.5,598.2 194.3,600.2 193.7,602.2 193.8,604.2 191.4,606.2 189.2,608.2 189,610.2 188.6,612.2 188.5,614.2 187.8,616.1 187.3,618.1 186.8,620.1 187.2,622.1 185.9,624.1 184.6,626.1 186.2,628.1 184.5,630.1 183.5,632.1 183.8,634.1 183.5,636.1 181,638 179.7,640 179.5,642 178.9,644 180,646 179.2,648 175.3,650 174.1,652 174.1,654 175.5,656 175.3,658 172.8,659.9 174.2,661.9 175.3,663.9 174.4,665.9 173.9,667.9 174.2,669.9 174.1,671.9 171,673.9 170.4,675.9 171.5,677.9 171.5,679.8 172.6,681.8 171.3,683.8 169.5,685.8 171.5,687.8 171.8,689.8 169.3,691.8 168.4,693.8 167.2,695.8 167.2,697.8 168.5,699.8 166.6,701.7 166.3,703.7 165.9,705.7 164.3,707.7 163.5,709.7 162.2,711.7 161.9,713.7 162.2,715.7 162.6,717.7 162.5,719.7 160.9,721.6 159.3,723.6 159.1,725.6 159.3,727.6 159.7,729.6 157.7,731.6 156.9,733.6 157.3,735.6 155.2,737.6 154.8,739.6 153.4,741.6 151.5,743.5 151,745.5 150.4,747.5 148.7,749.5 147.3,751.5 146.7,753.5 144.9,755.5 141.9,757.5 143.3,759.5 144.5,761.5 143.5,763.4 142.9,765.4 138.1,767.4 136.1,769.4 137.2,771.4 135.9,773.4 134.4,775.4 132.3,777.4 130.1,779.4 131.2,781.4 132.5,783.4 130.1,785.3 129.2,787.3 130.1,789.3 129.6,791.3 127.5,793.3 124.6,795.3 123.3,797.3 123.1,799.3 121.2,801.3 121.6,803.3 122.8,805.2 121.6,807.2 121.3,809.2 122.6,811.2 124.6,813.2 125.2,815.2"/>
<polyline points="451.5,19 451.9,21 451.8,23 453.1,25 453.1,27 453.5,29 454.7,30.9 453.3,32.9 451.5,34.9 451.8,36.9 451.6,38.9 451,40.9 453.1,42.9 453.2,44.9 450.5,46.9 449,48.9 450.8,50.8 451.6,52.8 451.3,54.8 449.9,56.8 448.6,58.8 445.9,60.8 443.8,62.8 444,64.8 443.3,66.8 435.8,68.8 435.7,70.8 432.7,72.7 429.9,74.7 430.2,76.7 426.8,78.7 428.1,80.7 428.3,82.7 427.6,84.7 425.4,86.7 426.3,88.7 425.4,90.7 425.4,92.6 427.1,94.6 426.3,96.6 426.5,98.6 426.8,100.6 427,102.6 427.9,104.6 425.1,106.6 424.1,108.6 426.1,110.6 424.6,112.6 424.6,114.5 423.3,116.5 423.1,118.5 424.2,120.5 422.5,122.5 423.6,124.5 424.3,126.5 421.6,128.5 421.5,130.5 422.5,132.5 421.6,134.4 422.3,136.4 421.5,138.4 420.2,140.4 419.4,142.4 419.7,144.4 419.1,146.4 416.4,148.4 417.7,150.4 415,152.4 413.5,154.4 413.4,156.3 409,158.3 405.6,160.3 404,162.3 402.5,164.3 402.2,166.3 404.2,168.3 404.3,170.3 403.2,172.3 401.5,174.3 400.1,176.2 398.5,178.2 397.3,180.2 399.1,182.2 399.4,184.2 395.9,186.2 396.1,188.2 397.8,190.2 396.5,192.2 395,194.2 394.9,196.2 393.7,198.1 395.4,200.1 398.6,202.1 395.7,204.1 389.3,206.1 389.8,208.1 392.1,210.1 391.7,212.1 391.3,214.1 390.7,216.1 389.3,218 389.6,220 388.5,222 388.7,224 388.8,226 387.7,228 386.8,230 383.3,232 382.3,234 381.1,236 377.8,238 376,239.9 377.2,241.9 376.1,243.9 374,245.9 375,247.9 375,249.9 371.5,251.9 367.2,253.9 366.2,255.9 367.8,257.9 365.7,259.9 366.7,261.8 366.2,263.8 364.8,265.8 364.5,267.8 365.5,269.8 363.7,271.8 363.7,273.8 365.2,275.8 364.8,277.8 362.9,279.8 360.8,281.7 360.6,283.7 359.8,285.7 359.2,287.7 357.9,289.7 356.5,291.7 354.5,293.7 352.3,295.7 352.4,297.7 352.4,299.7 349.8,301.7 350.9,303.6 351.6,305.6 350.7,307.6 345.3,309.6 341.8,311.6 342.2,313.6 341.1,315.6 338.1,317.6 337.5,319.6 335.6,321.6 333,323.5 331.8,325.5 330.8,327.5 328.5,329.5 328.6,331.5 328.4,333.5 326,335.5 322.8,337.5 320.5,339.5 319,341.5 318.6,343.5 319.2,345.4 317.1,347.4 316,349.4 315.5,351.4 314.4,353.4 313.2,355.4 312.8,357.4 312.4,359.4 309.9,361.4 307.3,363.4 304.5,365.3 303.4,367.3 304.3,369.3 302.6,371.3 301,373.3 299.5,375.3 297.4,377.3 295.9,379.3 295.9,381.3 294.6,383.3 293.5,385.3 289.8,387.2 288.7,389.2 289.2,391.2 289,393.2 289.5,395.2 288.3,397.2 286.8,399.2 287.2,401.2 285.8,403.2 281.2,405.2 280.9,407.1 278.9,409.1 277.9,411.1 278.4,413.1 276.8,415.1 275.6,417.1 274,419.1 270.4,421.1 269.4,423.1 271.6,425.1 273.1,427.1 271.3,429 270.4,431 268.5,433 267.4,435 268.3,437 266.8,439 264.4,441 261.3,443 262.6,445 261.8,447 257.4,448.9 256.6,450.9 255.8,452.9 254,454.9 252.5,456.9 251.8,458.9 249.6,460.9 248.5,462.9 247,464.9 245.8,466.9 246.8,468.9 246.2,470.8 243.7,472.8 242,474.8 241.7,476.8 241.5,478.8 237.9,480.8 234.5,482.8 236.3,484.8 236.8,486.8 235.7,488.8 235.5,490.7 234.4,492.7 232.2,494.7 230.9,496.7 231.4,498.7 231.3,500.7 230,502.7 228.2,504.7 227.2,506.7 224.1,508.7 222.1,510.7 220.8,512.6 219.6,514.6 219.5,516.6 219.9,518.6 220.2,520.6 217.7,522.6 217.2,524.6 216.6,526.6 216.5,528.6 217,530.6 214.1,532.5 211.6,534.5 212.5,536.5 211.1,538.5 210.1,540.5 211.1,542.5 211.8,544.5 210.7,546.5 210.3,548.5 211.1,550.5 210.7,552.5 211.4,554.4 210.2,556.4 208.9,558.4 208.5,560.4 206.8,562.4 205.2,564.4 205.1,566.4 202.7,568.4 201.2,570.4 200.1,572.4 202.9,574.3 204.1,576.3 203.6,578.3 203,580.3 202.4,582.3 200.6,584.3 198.2,586.3 198.3,588.3 199.2,590.3 198.2,592.3 197,594.3 194.7,596.2 194.5,598.2 195.4,600.2 196.3,602.2 196.5,604.2 196,606.2 194.7,608.2 193.7,610.2 193.5,612.2 192.8,614.2 191.5,616.1 191.6,618.1 189.2,620.1 187.3,622.1 186.2,624.1 186.5,626.1 185.5,628.1 185.2,630.1 187,632.1 186.7,634.1 183.8,636.1 180.7,638 182,640 184.5,642 182.6,644 181.7,646 181.7,648 180.1,650 180.7,652 179.7,654 179.3,656 180.1,658 178.9,659.9 179,661.9 177.8,663.9 176.3,665.9 176.8,667.9 177.9,669.9 177.8,671.9 174.4,673.9 175.3,675.9 174.5,677.9 172.9,679.8 172.7,681.8 173.3,683.8 172.3,685.8 171.5,687.8 170.9,689.8 169.2,691.8 166.7,693.8 168,695.8 169.3,697.8 166.8,699.8 165.1,701.7 167.2,703.7 165,705.7 166,707.7 167.3,709.7 165.4,711.7 167.3,713.7 167.8,715.7 164.9,717.7 166.2,719.7 166.1,721.6 165.1,723.6 162.7,725.6 159.5,727.6 159.7,729.6 159.5,731.6 155.3,733.6 153.5,735.6 155.4,737.6 154.4,739.6 152.7,741.6 151.9,743.5 149.3,745.5 146.8,747.5 145.4,749.5 144.2,751.5 145.7,753.5 143.4,755.5 143.4,757.5 142.4,759.5 141.4,761.5 141.5,763.4 140.7,765.4 141.9,767.4 140.7,769.4 140.8,771.4 139.9,773.4 139,775.4 138.3,777.4 138.5,779.4 138.4,781.4 136.9,783.4 134,785.3 131.7,787.3 131.3,789.3 131.5,791.3 129.8,793.3 130.6,795.3 132.2,797.3 131.6,799.3 132.4,801.3 129.9,803.3 130.3,805.2 129.3,807.2 129.5,809.2 130.2,811.2 128.7,813.2 126.9,815.2"/>
<polyline points="457.7,19 457.6,21 458.4,23 456.5,25 455.3,27 457.1,29 458.4,30.9 458.5,32.9 457.3,34.9 458.3,36.9 459,38.9 459.9,40.9 461.4,42.9 460.3,44.9 460.5,46.9 461.4,48.9 459.1,50.8 459.6,52.8 459.6,54.8 456.4,56.8 456.6,58.8 456.5,60.8 454,62.8 453.6,64.8 451.5,66.8 449.3,68.8 447.2,70.8 447.2,72.7 446.7,74.7 444.1,76.7 443.3,78.7 445.1,80.7 445.1,82.7 442.6,84.7 442.7,86.7 443.1,88.7 443.4,90.7 443.8,92.6 442.5,94.6 439.3,96.6 438.6,98.6 440,100.6 439.9,102.6 439.9,104.6 438.2,106.6 438.2,108.6 438.7,110.6 438.1,112.6 437.2,114.5 438.3,116.5 438.5,118.5 437.7,120.5 438.5,122.5 439.3,124.5 439.4,126.5 438.1,128.5 436.1,130.5 432.2,132.5 432.1,134.4 431.4,136.4 432.3,138.4 429,140.4 425.1,142.4 423.9,144.4 423.1,146.4 423.1,148.4 422.3,150.4 421.5,152.4 421.8,154.4 422.6,156.3 420,158.3 415.4,160.3 415.1,162.3 413.2,164.3 411.6,166.3 408.7,168.3 409.9,170.3 410.4,172.3 405.5,174.3 401.8,176.2 399.8,178.2 401.2,180.2 400.7,182.2 399.6,184.2 398.7,186.2 400,188.2 400.7,190.2 401,192.2 400.4,194.2 399.3,196.2 398.5,198.1 396.9,200.1 394.9,202.1 393.2,204.1 391.5,206.1 390.7,208.1 391.5,210.1 392.5,212.1 392,214.1 393.6,216.1 395.9,218 394.2,220 391.8,222 393.1,224 391.6,226 391.2,228 388,230 385.2,232 385.4,234 385.9,236 383.8,238 379.2,239.9 376.3,241.9 376.7,243.9 378.3,245.9 379.6,247.9 378.4,249.9 376.6,251.9 373.2,253.9 373.2,255.9 371.9,257.9 372.6,259.9 370.8,261.8 369.1,263.8 368.2,265.8 369.3,267.8 367.5,269.8 366.2,271.8 365.6,273.8 366.3,275.8 366.8,277.8 365.9,279.8 365.7,281.7 365.7,283.7 364.6,285.7 364.7,287.7 366.6,289.7 366.3,291.7 364.4,293.7 365.7,295.7 363.8,297.7 358.7,299.7 359.9,301.7 360.1,303.6 357.6,305.6 359.5,307.6 358.8,309.6 356.8,311.6 355,313.6 353.2,315.6 351.7,317.6 350.2,319.6 347.6,321.6 343.8,323.5 341.8,325.5 339.6,327.5 338.4,329.5 335.5,331.5 334.9,333.5 332.3,335.5 328.1,337.5 327.2,339.5 324.6,341.5 323.4,343.5 321.4,345.4 320.6,347.4 319.3,349.4 317.2,351.4 317.3,353.4 315.2,355.4 311.9,357.4 312.1,359.4 313.2,361.4 311.8,363.4 307.6,365.3 304.6,367.3 303.3,369.3 303.3,371.3 303.6,373.3 302.3,375.3 301.7,377.3 299.4,379.3 296.7,381.3 293.6,383.3 290.9,385.3 289.7,387.2 288.3,389.2 286.9,391.2 284.6,393.2 283.7,395.2 285.4,397.2 284.7,399.2 280.3,401.2 279,403.2 278.8,405.2 280.6,407.1 279.5,409.1 277.3,411.1 275.5,413.1 273.8,415.1 274.5,417.1 273.4,419.1 273,421.1 273.9,423.1 272.5,425.1 270,427.1 268.7,429 266.2,431 263.6,433 265.4,435 265.7,437 262.8,439 259.2,441 259.8,443 261.6,445 261.6,447 259.8,448.9 258.1,450.9 257.4,452.9 254.7,454.9 251.8,456.9 252.7,458.9 251.8,460.9 249.9,462.9 248.5,464.9 246.4,466.9 247.8,468.9 247.6,470.8 245.4,472.8 244.7,474.8 244.9,476.8 244.2,478.8 244.1,480.8 243,482.8 242.2,484.8 242.5,486.8 241.6,488.8 240.6,490.7 239.3,492.7 235,494.7 236,496.7 236.2,498.7 234.3,500.7 234.7,502.7 235,504.7 235.3,506.7 233.6,508.7 232,510.7 233.6,512.6 233.5,514.6 232.1,516.6 230,518.6 227.9,520.6 226,522.6 226.7,524.6 224.6,526.6 224.5,528.6 225.7,530.6 224.3,532.5 220.7,534.5 218.7,536.5 220.8,538.5 220.4,540.5 218,542.5 216.3,544.5 217.5,546.5 217,548.5 216.2,550.5 214.4,552.5 213.6,554.4 209.8,556.4 206.6,558.4 209.2,560.4 210.9,562.4 210.1,564.4 209.2,566.4 206.3,568.4 205.9,570.4 205.9,572.4 205.1,574.3 204.8,576.3 206.7,578.3 203.9,580.3 203.1,582.3 202,584.3 200.6,586.3 200,588.3 202.7,590.3 201.7,592.3 198.3,594.3 199.4,596.2 200,598.2 196.7,600.2 194.9,602.2 195.6,604.2 194.7,606.2 192.9,608.2 192.8,610.2 193.1,612.2 193.7,614.2 192,616.1 191,618.1 191.8,620.1 190.2,622.1 189.9,624.1 190.6,626.1 188.5,628.1 187.2,630.1 187.9,632.1 186.2,634.1 187.6,636.1 186.9,638 186,640 186.5,642 185.5,644 185.2,646 184.8,648 183.5,650 181.1,652 179.4,654 178.6,656 180.3,658 180.4,659.9 179.2,661.9 176.5,663.9 175.3,665.9 174.9,667.9 175.7,669.9 176.6,671.9 175.5,673.9 173.6,675.9 172.1,677.9 172.8,679.8 173.4,681.8 171.6,683.8 172.4,685.8 174.4,687.8 173.2,689.8 171.9,691.8 171.8,693.8 170.8,695.8 170,697.8 171.2,699.8 170.4,701.7 168.3,703.7 166,705.7 166.9,707.7 168.7,709.7 167.7,711.7 167.8,713.7 168.6,715.7 167.9,717.7 168.5,719.7 170.4,721.6 170,723.6 169.6,725.6 170.9,727.6 170.9,729.6 170.9,731.6 168.3,733.6 168.6,735.6 167.7,737.6 166.4,739.6 164.7,741.6 164.1,743.5 165.7,745.5 162.8,747.5 161,749.5 161.8,751.5 163.8,753.5 164.9,755.5 162.7,757.5 161.1,759.5 160.4,761.5 159.5,763.4 158.9,765.4 157.7,767.4 158.3,769.4 156.2,771.4 154.3,773.4 152.9,775.4 153.1,777.4 153.9,779.4 154.4,781.4 151.8,783.4 148.8,785.3 150,787.3 150.3,789.3 150.4,791.3 150.3,793.3 149.4,795.3 148.7,797.3 151.6,799.3 150.4,801.3 148.8,803.3 146.4,805.2 146.8,807.2 144.2,809.2 142,811.2 139,813.2 139.7,815.2"/>
<polyline points="461.1,19 461.2,21 460,23 460,25 460.6,27 461.3,29 459.9,30.9 458.8,32.9 459.9,34.9 459.4,36.9 460.8,38.9 461.4,40.9 461.4,42.9 461.4,44.9 460.5,46.9 461.4,48.9 460.5,50.8 457.9,52.8 458,54.8 458.2,56.8 457.4,58.8 456.8,60.8 456.1,62.8 455.3,64.8 456.1,66.8 455.4,68.8 454.8,70.8 454,72.7 453.4,74.7 453.1,76.7 452.5,78.7 452.1,80.7 451.7,82.7 451.3,84.7 450.9,86.7 450.5,88.7 450.1,90.7 449.7,92.6 449.3,94.6 448.9,96.6 448.5,98.6 448.3,100.6 448.1,102.6 448,104.6 447.8,106.6 447.6,108.6 447.5,110.6 447.4,112.6 446.5,114.5 445.3,116.5 444.8,118.5 445,120.5 444.6,122.5 441.8,124.5 441.5,126.5 441.7,128.5 441,130.5 438.9,132.5 438.7,134.4 438.5,136.4 438.6,138.4 439.2,140.4 438.2,142.4 436.7,144.4 436.1,146.4 434.6,148.4 434.5,150.4 433.6,152.4 432.7,154.4 429.6,156.3 428.5,158.3 426.5,160.3 423.4,162.3 422.9,164.3 421.9,166.3 419.7,168.3 417.5,170.3 415.3,172.3 412.4,174.3 410.4,176.2 407.4,178.2 406.1,180.2 405.1,182.2 405.3,184.2 405.1,186.2 404.3,188.2 404.1,190.2 404,192.2 404,194.2 403.4,196.2 402.7,198.1 400.8,200.1 399.7,202.1 398.2,204.1 393.7,206.1 394,208.1 395.4,210.1 395.7,212.1 395.9,214.1 396.2,216.1 396.5,218 396,220 395.5,222 394.5,224 392.2,226 393.3,228 393.2,230 392.3,232 389.5,234 389.6,236 389,238 386,239.9 384.3,241.9 384.7,243.9 383.5,245.9 382.8,247.9 382.5,249.9 380.4,251.9 378.8,253.9 375.9,255.9 374.3,257.9 374,259.9 373.1,261.8 373.6,263.8 372.5,265.8 372.1,267.8 370.9,269.8 368.9,271.8 368.1,273.8 370.5,275.8 370.7,277.8 369.5,279.8 370.3,281.7 369.9,283.7 368.1,285.7 365.9,287.7 367.9,289.7 369.2,291.7 366.3,293.7 365.9,295.7 367.2,297.7 365.2,299.7 365.4,301.7 366.5,303.6 366.6,305.6 365.7,307.6 361,309.6 357.8,311.6 355.4,313.6 353.4,315.6 352.1,317.6 350.2,319.6 347.3,321.6 345.2,323.5 340.9,325.5 339.7,327.5 338,329.5 333.3,331.5 332.5,333.5 333,335.5 329.8,337.5 328.5,339.5 326.9,341.5 326,343.5 325.8,345.4 326.8,347.4 325.4,349.4 324,351.4 320.9,353.4 319,355.4 319.8,357.4 317.9,359.4 314.4,361.4 311.9,363.4 310.7,365.3 310,367.3 308.1,369.3 304.9,371.3 303.1,373.3 303.9,375.3 302.2,377.3 301.4,379.3 300.4,381.3 299.5,383.3 298.1,385.3 295.1,387.2 294,389.2 294.9,391.2 294.1,393.2 292.5,395.2 288.5,397.2 288.7,399.2 289.7,401.2 289.3,403.2 288.8,405.2 288,407.1 286.8,409.1 284.8,411.1 283.2,413.1 283.1,415.1 281.5,417.1 281.4,419.1 280.2,421.1 277.2,423.1 275.7,425.1 276.6,427.1 276.7,429 273.4,431 271.5,433 270.9,435 268.8,437 267.6,439 268.1,441 268.1,443 267,445 265.8,447 264.3,448.9 262.8,450.9 261.2,452.9 257.9,454.9 255.1,456.9 254.7,458.9 254.9,460.9 252.8,462.9 250.3,464.9 248.8,466.9 248.9,468.9 249,470.8 248.2,472.8 247.4,474.8 246.6,476.8 245.3,478.8 243.7,480.8 244.1,482.8 242.8,484.8 240.1,486.8 238.9,488.8 238.5,490.7 238.6,492.7 237.7,494.7 235.8,496.7 235.9,498.7 236.1,500.7 237.8,502.7 238.2,504.7 236.4,506.7 232.8,508.7 231.8,510.7 232.5,512.6 231.9,514.6 230.5,516.6 228.9,518.6 228.1,520.6 227.5,522.6 224.6,524.6 224.1,526.6 224.8,528.6 223.5,530.6 223.5,532.5 223.1,534.5 220.7,536.5 220.2,538.5 221.8,540.5 219.7,542.5 217.7,544.5 218.4,546.5 218,548.5 217.1,550.5 217.1,552.5 213.9,554.4 213.1,556.4 212.3,558.4 210.6,560.4 209.6,562.4 210.8,564.4 210.3,566.4 209.9,568.4 208.7,570.4 209.4,572.4 209.8,574.3 207.7,576.3 207,578.3 206,580.3 207.5,582.3 206.5,584.3 203.5,586.3 202.9,588.3 203.6,590.3 204.9,592.3 203.5,594.3 202,596.2 203,598.2 202.3,600.2 201.3,602.2 199.6,604.2 196.9,606.2 198.7,608.2 197.8,610.2 195.5,612.2 193.7,614.2 193.9,616.1 192.4,618.1 192.3,620.1 192.8,622.1 191.9,624.1 190.5,626.1 189.1,628.1 189.9,630.1 188.7,632.1 188.8,634.1 188.2,636.1 186.2,638 187,640 186.5,642 185.9,644 185.3,646 184.1,648 183,650 183.2,652 181.8,654 181.9,656 181.7,658 179.5,659.9 178.5,661.9 178.3,663.9 179.1,665.9 177.3,667.9 177.3,669.9 177.8,671.9 177.5,673.9 178.3,675.9 177.8,677.9 177.3,679.8 176.7,681.8 176.4,683.8 174.9,685.8 174.2,687.8 171.8,689.8 169.5,691.8 169.6,693.8 170.5,695.8 171.4,697.8 171.4,699.8 171,701.7 171.4,703.7 170.6,705.7 170.7,707.7 171.6,709.7 171.2,711.7 170.3,713.7 171.9,715.7 172.5,717.7 171.9,719.7 171,721.6 170,723.6 172.4,725.6 172.1,727.6 168.6,729.6 168.3,731.6 170,733.6 169,735.6 169.1,737.6 169.5,739.6 169,741.6 169.1,743.5 168.5,745.5 168.3,747.5 167.7,749.5 165.3,751.5 164.1,753.5 164.1,755.5 164.1,757.5 163.9,759.5 161,761.5 161.3,763.4 161.6,765.4 159.5,767.4 160.1,769.4 161,771.4 158.8,773.4 157.8,775.4 158.5,777.4 158.2,779.4 157.5,781.4 156.8,783.4 155.5,785.3 152.9,787.3 153.1,789.3 154.4,791.3 153.1,793.3 151.3,795.3 151.2,797.3 150.4,799.3 150.2,801.3 149.2,803.3 148.7,805.2 147.5,807.2 148.9,809.2 148.2,811.2 146.5,813.2 145.6,815.2"/>
<polyline points="460.8,19 460.9,21 460.1,23 460.1,25 461,27 461.1,29 460.7,30.9 459.9,32.9 460.4,34.9 461.1,36.9 460.3,38.9 460.2,40.9 460.3,42.9 461.1,44.9 461.1,46.9 461.1,48.9 459.9,50.8 457.8,52.8 456.2,54.8 456.2,56.8 457.3,58.8 457.3,60.8 455.6,62.8 455.3,64.8 455.4,66.8 455,68.8 454.5,70.8 453.3,72.7 452.4,74.7 451.3,76.7 451.3,78.7 451.8,80.7 451.4,82.7 450.5,84.7 448.7,86.7 449.1,88.7 449.8,90.7 449.4,92.6 447.9,94.6 447.5,96.6 447.7,98.6 448,100.6 447.4,102.6 446.8,104.6 447.5,106.6 447.3,108.6 446.6,110.6 445,112.6 445.5,114.5 446.9,116.5 446.8,118.5 446.1,120.5 445.4,122.5 444,124.5 443,126.5 442.7,128.5 442.4,130.5 440.8,132.5 439.9,134.4 440.2,136.4 439.8,138.4 438.9,140.4 437.9,142.4 437,144.4 435.5,146.4 434.9,148.4 434,150.4 431.5,152.4 431.7,154.4 431.1,156.3 429.7,158.3 427.5,160.3 425.2,162.3 422.1,164.3 420.6,166.3 419.4,168.3 417.2,170.3 415,172.3 412.7,174.3 410.5,176.2 408.3,178.2 407.5,180.2 406.5,182.2 406.6,184.2 406,186.2 405.4,188.2 404.8,190.2 404.2,192.2 403.7,194.2 403,196.2 402.5,198.1 401,200.1 399.4,202.1 397.5,204.1 394.3,206.1 394.2,208.1 395.1,210.1 394.9,212.1 394.5,214.1 394,216.1 394.6,218 393.9,220 393.7,222 394.7,224 393.6,226 393.7,228 392.9,230 392,232 390.3,234 388.7,236 387.6,238 385.8,239.9 385.5,241.9 386.4,243.9 384.4,245.9 383.2,247.9 382.7,249.9 381.2,251.9 380.3,253.9 378.9,255.9 377.2,257.9 376.2,259.9 375.4,261.8 372.1,263.8 372.9,265.8 372.8,267.8 371.7,269.8 371.9,271.8 371.4,273.8 370.4,275.8 369.8,277.8 370.2,279.8 369.6,281.7 367.4,283.7 367.4,285.7 368.2,287.7 367.2,289.7 367.6,291.7 368.6,293.7 368.4,295.7 367.1,297.7 366.5,299.7 364.7,301.7 365.1,303.6 366.5,305.6 366.2,307.6 363.3,309.6 360.6,311.6 357.8,313.6 354.4,315.6 350.6,317.6 348.4,319.6 347.1,321.6 344.7,323.5 341.9,325.5 339.4,327.5 337.1,329.5 334.8,331.5 333,333.5 333.1,335.5 331.2,337.5 330.3,339.5 329.3,341.5 327.9,343.5 327.4,345.4 326.3,347.4 325.1,349.4 323.7,351.4 322.3,353.4 320.4,355.4 319.5,357.4 317.6,359.4 315.8,361.4 313.4,363.4 310.5,365.3 309.7,367.3 307.4,369.3 306.1,371.3 305.3,373.3 303.4,375.3 301.7,377.3 300.1,379.3 299.7,381.3 299.2,383.3 297.8,385.3 296.6,387.2 296.1,389.2 295,391.2 293.3,393.2 291.6,395.2 290.5,397.2 289.4,399.2 290,401.2 289.2,403.2 288.2,405.2 286.4,407.1 285.9,409.1 284.1,411.1 282.7,413.1 281.4,415.1 280.9,417.1 280.3,419.1 280.2,421.1 278.8,423.1 277.5,425.1 278.3,427.1 276.4,429 273.3,431 272.5,433 271.4,435 270.7,437 270.1,439 268.5,441 267.4,443 266.7,445 265.5,447 263.9,448.9 262.5,450.9 260.3,452.9 259.3,454.9 257.9,456.9 256.4,458.9 254.9,460.9 253.3,462.9 251,464.9 248.4,466.9 247.7,468.9 247.1,470.8 247.5,472.8 246.5,474.8 244.7,476.8 243.4,478.8 242.5,480.8 241.6,482.8 241.9,484.8 242.2,486.8 241.3,488.8 240.3,490.7 239.4,492.7 238.4,494.7 237.3,496.7 237,498.7 235.6,500.7 236.3,502.7 237.6,504.7 237,506.7 235.7,508.7 235,510.7 234.6,512.6 232.5,514.6 229.6,516.6 230.2,518.6 230,520.6 229,522.6 228,524.6 225.5,526.6 225.8,528.6 225.6,530.6 224.7,532.5 223.3,534.5 223.1,536.5 222.3,538.5 221.5,540.5 220.6,542.5 219.5,544.5 218,546.5 217.4,548.5 216.6,550.5 216.4,552.5 216.2,554.4 214.9,556.4 213.4,558.4 213,560.4 212.7,562.4 212.2,564.4 211.1,566.4 210.7,568.4 210.8,570.4 210.3,572.4 209.7,574.3 209.1,576.3 208.5,578.3 207.9,580.3 207.4,582.3 206.8,584.3 205.7,586.3 204,588.3 205.1,590.3 204.8,592.3 204.3,594.3 203.8,596.2 202.9,598.2 202,600.2 199.7,602.2 198.5,604.2 198.3,606.2 197.3,608.2 196.5,610.2 196.1,612.2 195.1,614.2 194.4,616.1 193.5,618.1 193.3,620.1 192.5,622.1 191.6,624.1 189.9,626.1 188.8,628.1 188.9,630.1 186.9,632.1 188.1,634.1 187.9,636.1 186.6,638 186.7,640 186.2,642 185.6,644 182.4,646 182.7,648 184,650 183.6,652 183.1,654 182.7,656 182.2,658 181.4,659.9 181.2,661.9 180.8,663.9 177.9,665.9 178,667.9 179.4,669.9 178.9,671.9 178.1,673.9 177.2,675.9 176.5,677.9 175.7,679.8 176.3,681.8 175.8,683.8 175.4,685.8 175.1,687.8 174.2,689.8 173.7,691.8 173.8,693.8 173.3,695.8 172,697.8 171.5,699.8 171.9,701.7 171.5,703.7 170,705.7 170,707.7 170.7,709.7 172.9,711.7 173.8,713.7 174.5,715.7 174,717.7 173.5,719.7 173.1,721.6 172.6,723.6 171.8,725.6 170.1,727.6 169.5,729.6 170.3,731.6 169.4,733.6 169.5,735.6 168.8,737.6 168.1,739.6 166.8,741.6 166.5,743.5 167.5,745.5 168,747.5 167.4,749.5 166.9,751.5 164.1,753.5 162.8,755.5 163.5,757.5 164.1,759.5 164,761.5 163.4,763.4 162.5,765.4 161.8,767.4 160.9,769.4 160.6,771.4 160,773.4 159.1,775.4 157.4,777.4 157.9,779.4 157.2,781.4 155.2,783.4 155.8,785.3 155.2,787.3 154.1,789.3 152.5,791.3 151.3,793.3 152.7,795.3 152.3,797.3 151.7,799.3 150.7,801.3 149.9,803.3 150,805.2 148.7,807.2 146.6,809.2 147.2,811.2 147.2,813.2 146.2,815.2"/>
</g>
<polyline points="457.3,29 453.4,48.9 443.4,68.8 433.4,88.7 428,108.6 423.4,128.5 412.3,148.4 403.3,168.3 396.3,188.2 389.3,208.1 387.3,228 374.7,247.9 361.6,267.8 352.3,287.7 340.4,307.6 327.3,327.5 310.6,347.4 298.4,367.3 287.3,387.2 274.1,407.1 265.4,427.1 255.4,447 245.5,466.9 237.9,486.8 226.6,506.7 218.1,526.6 211.7,546.5 204.1,566.4 198.3,586.3 191.9,606.2 187.2,626.1 182.5,646 177.8,665.9 173.2,685.8 168.5,705.7 161.5,725.6 156.3,745.5 149.3,765.4 140.5,785.3 133.5,805.2" fill="none" stroke="#0000ff" stroke-width="2.9" stroke-linejoin="round" stroke-linecap="butt"/>
<g fill="#0000ff"><circle cx="457.3" cy="29" r="5.5"/><circle cx="453.4" cy="48.9" r="5.5"/><circle cx="443.4" cy="68.8" r="5.5"/><circle cx="433.4" cy="88.7" r="5.5"/><circle cx="428" cy="108.6" r="5.5"/><circle cx="423.4" cy="128.5" r="5.5"/><circle cx="412.3" cy="148.4" r="5.5"/><circle cx="403.3" cy="168.3" r="5.5"/><circle cx="396.3" cy="188.2" r="5.5"/><circle cx="389.3" cy="208.1" r="5.5"/><circle cx="387.3" cy="228" r="5.5"/><circle cx="374.7" cy="247.9" r="5.5"/><circle cx="361.6" cy="267.8" r="5.5"/><circle cx="352.3" cy="287.7" r="5.5"/><circle cx="340.4" cy="307.6" r="5.5"/><circle cx="327.3" cy="327.5" r="5.5"/><circle cx="310.6" cy="347.4" r="5.5"/><circle cx="298.4" cy="367.3" r="5.5"/><circle cx="287.3" cy="387.2" r="5.5"/><circle cx="274.1" cy="407.1" r="5.5"/><circle cx="265.4" cy="427.1" r="5.5"/><circle cx="255.4" cy="447" r="5.5"/><circle cx="245.5" cy="466.9" r="5.5"/><circle cx="237.9" cy="486.8" r="5.5"/><circle cx="226.6" cy="506.7" r="5.5"/><circle cx="218.1" cy="526.6" r="5.5"/><circle cx="211.7" cy="546.5" r="5.5"/><circle cx="204.1" cy="566.4" r="5.5"/><circle cx="198.3" cy="586.3" r="5.5"/><circle cx="191.9" cy="606.2" r="5.5"/><circle cx="187.2" cy="626.1" r="5.5"/><circle cx="182.5" cy="646" r="5.5"/><circle cx="177.8" cy="665.9" r="5.5"/><circle cx="173.2" cy="685.8" r="5.5"/><circle cx="168.5" cy="705.7" r="5.5"/><circle cx="161.5" cy="725.6" r="5.5"/><circle cx="156.3" cy="745.5" r="5.5"/><circle cx="149.3" cy="765.4" r="5.5"/><circle cx="140.5" cy="785.3" r="5.5"/><circle cx="133.5" cy="805.2" r="5.5"/></g>
<polyline points="418,19 418,23 418,27 418,30.9 418,34.9 418,38.9 418,42.9 418,48.9 418,58.8 418,68.8 418,78.7 418,88.7 418,98.6 418,108.6 418.1,118.5 418.7,138.4 416.4,158.3 416.9,178.2 405.7,198.1 384.6,218 332.4,267.8 317.6,317.6 276.2,417.1 236.8,516.6 204.7,616.1 172,715.7 121.3,815.2" fill="none" stroke="#ff0000" stroke-width="7.3" stroke-linejoin="round" stroke-linecap="butt"/>
<g fill="#ff0000"><circle cx="418" cy="19" r="5.4"/><circle cx="418" cy="23" r="5.4"/><circle cx="418" cy="27" r="5.4"/><circle cx="418" cy="30.9" r="5.4"/><circle cx="418" cy="34.9" r="5.4"/><circle cx="418" cy="38.9" r="5.4"/><circle cx="418" cy="42.9" r="5.4"/><circle cx="418" cy="48.9" r="5.4"/><circle cx="418" cy="58.8" r="5.4"/><circle cx="418" cy="68.8" r="5.4"/><circle cx="418" cy="78.7" r="5.4"/><circle cx="418" cy="88.7" r="5.4"/><circle cx="418" cy="98.6" r="5.4"/><circle cx="418" cy="108.6" r="5.4"/><circle cx="418.1" cy="118.5" r="5.4"/><circle cx="418.7" cy="138.4" r="5.4"/><circle cx="416.4" cy="158.3" r="5.4"/><circle cx="416.9" cy="178.2" r="5.4"/><circle cx="405.7" cy="198.1" r="5.4"/><circle cx="384.6" cy="218" r="5.4"/><circle cx="332.4" cy="267.8" r="5.4"/><circle cx="317.6" cy="317.6" r="5.4"/><circle cx="276.2" cy="417.1" r="5.4"/><circle cx="236.8" cy="516.6" r="5.4"/><circle cx="204.7" cy="616.1" r="5.4"/><circle cx="172" cy="715.7" r="5.4"/><circle cx="121.3" cy="815.2" r="5.4"/></g>
<polyline points="437.6,19 437.6,23 437.6,27 437.6,30.9 437.6,34.9 437.6,38.9 437.6,42.9 437.6,48.9 437.6,58.8 437.6,68.8 437.3,78.7 437.2,88.7 437.2,98.6 437.3,108.6 437.4,118.5 437.4,138.4 425.5,158.3 406.4,178.2 396.5,198.1 390.4,218 347.3,267.8 312.9,317.6 249,417.1 213.1,516.6 176.3,616.1 146.3,715.7 115.4,815.2" fill="none" stroke="#b07818" stroke-width="4.0" stroke-linejoin="round" stroke-linecap="butt"/>
<polyline points="437.6,19 437.6,23 437.6,27 437.6,30.9 437.6,34.9 437.6,38.9 437.6,42.9 437.6,48.9 437.6,58.8 437.6,68.8 437.3,78.7 437.2,88.7 437.2,98.6 437.3,108.6 437.4,118.5 437.4,138.4 425.5,158.3 406.4,178.2 396.5,198.1 390.4,218 347.3,267.8 312.9,317.6 249,417.1 213.1,516.6 176.3,616.1 146.3,715.7 115.4,815.2" fill="none" stroke="#ffa500" stroke-width="2.9" stroke-linejoin="round" stroke-linecap="butt"/>
<g fill="#ffa500" stroke="#b07818" stroke-width="0.7"><circle cx="437.6" cy="19" r="5.3"/><circle cx="437.6" cy="23" r="5.3"/><circle cx="437.6" cy="27" r="5.3"/><circle cx="437.6" cy="30.9" r="5.3"/><circle cx="437.6" cy="34.9" r="5.3"/><circle cx="437.6" cy="38.9" r="5.3"/><circle cx="437.6" cy="42.9" r="5.3"/><circle cx="437.6" cy="48.9" r="5.3"/><circle cx="437.6" cy="58.8" r="5.3"/><circle cx="437.6" cy="68.8" r="5.3"/><circle cx="437.3" cy="78.7" r="5.3"/><circle cx="437.2" cy="88.7" r="5.3"/><circle cx="437.2" cy="98.6" r="5.3"/><circle cx="437.3" cy="108.6" r="5.3"/><circle cx="437.4" cy="118.5" r="5.3"/><circle cx="437.4" cy="138.4" r="5.3"/><circle cx="425.5" cy="158.3" r="5.3"/><circle cx="406.4" cy="178.2" r="5.3"/><circle cx="396.5" cy="198.1" r="5.3"/><circle cx="390.4" cy="218" r="5.3"/><circle cx="347.3" cy="267.8" r="5.3"/><circle cx="312.9" cy="317.6" r="5.3"/><circle cx="249" cy="417.1" r="5.3"/><circle cx="213.1" cy="516.6" r="5.3"/><circle cx="176.3" cy="616.1" r="5.3"/><circle cx="146.3" cy="715.7" r="5.3"/><circle cx="115.4" cy="815.2" r="5.3"/></g>
<polyline points="427.5,19 427.5,23 427.5,27 427.5,30.9 427.5,34.9 427.5,38.9 427.5,42.9 427.5,48.9 427.5,58.8 427.3,68.8 426.5,78.7 424.3,88.7 421.3,98.6 418.3,108.6 414.6,118.5 407.4,138.4 399.4,158.3 391.3,178.2 380.4,198.1 362.4,218 311.4,267.8 281.4,317.6 253.5,417.1 226.3,516.6 199.8,616.1 172.6,715.7 148.4,815.2" fill="none" stroke="#008000" stroke-width="2.9" stroke-linejoin="round" stroke-linecap="butt"/>
<g fill="#008000"><circle cx="427.5" cy="19" r="5.5"/><circle cx="427.5" cy="23" r="5.5"/><circle cx="427.5" cy="27" r="5.5"/><circle cx="427.5" cy="30.9" r="5.5"/><circle cx="427.5" cy="34.9" r="5.5"/><circle cx="427.5" cy="38.9" r="5.5"/><circle cx="427.5" cy="42.9" r="5.5"/><circle cx="427.5" cy="48.9" r="5.5"/><circle cx="427.5" cy="58.8" r="5.5"/><circle cx="427.3" cy="68.8" r="5.5"/><circle cx="426.5" cy="78.7" r="5.5"/><circle cx="424.3" cy="88.7" r="5.5"/><circle cx="421.3" cy="98.6" r="5.5"/><circle cx="418.3" cy="108.6" r="5.5"/><circle cx="414.6" cy="118.5" r="5.5"/><circle cx="407.4" cy="138.4" r="5.5"/><circle cx="399.4" cy="158.3" r="5.5"/><circle cx="391.3" cy="178.2" r="5.5"/><circle cx="380.4" cy="198.1" r="5.5"/><circle cx="362.4" cy="218" r="5.5"/><circle cx="311.4" cy="267.8" r="5.5"/><circle cx="281.4" cy="317.6" r="5.5"/><circle cx="253.5" cy="417.1" r="5.5"/><circle cx="226.3" cy="516.6" r="5.5"/><circle cx="199.8" cy="616.1" r="5.5"/><circle cx="172.6" cy="715.7" r="5.5"/><circle cx="148.4" cy="815.2" r="5.5"/></g>
<polyline points="468.8,20 458.3,22.1 453.4,24.3 450.4,26.6 448.5,29.1 447.6,31.8 447.2,34.8 447,38 446.8,41.7 446.6,45.8 446.4,50.5 446.2,55.8 446,62 445.9,69.2 445.6,77.6 445.4,87.5 444.6,99.3 443.5,113.3 441.4,130 438.5,150 430.6,174 415.5,202.8 386.3,237.4 346.8,279.1 309.4,329.2 276.4,389.5 241.4,461.8 209.4,548.6 187.5,652.2 162.7,775.8" fill="none" stroke="#ff00ff" stroke-width="2.9" stroke-linejoin="round" stroke-linecap="butt"/>
<g fill="#ff00ff"><circle cx="468.8" cy="20" r="5.5"/><circle cx="458.3" cy="22.1" r="5.5"/><circle cx="453.4" cy="24.3" r="5.5"/><circle cx="450.4" cy="26.6" r="5.5"/><circle cx="448.5" cy="29.1" r="5.5"/><circle cx="447.6" cy="31.8" r="5.5"/><circle cx="447.2" cy="34.8" r="5.5"/><circle cx="447" cy="38" r="5.5"/><circle cx="446.8" cy="41.7" r="5.5"/><circle cx="446.6" cy="45.8" r="5.5"/><circle cx="446.4" cy="50.5" r="5.5"/><circle cx="446.2" cy="55.8" r="5.5"/><circle cx="446" cy="62" r="5.5"/><circle cx="445.9" cy="69.2" r="5.5"/><circle cx="445.6" cy="77.6" r="5.5"/><circle cx="445.4" cy="87.5" r="5.5"/><circle cx="444.6" cy="99.3" r="5.5"/><circle cx="443.5" cy="113.3" r="5.5"/><circle cx="441.4" cy="130" r="5.5"/><circle cx="438.5" cy="150" r="5.5"/><circle cx="430.6" cy="174" r="5.5"/><circle cx="415.5" cy="202.8" r="5.5"/><circle cx="386.3" cy="237.4" r="5.5"/><circle cx="346.8" cy="279.1" r="5.5"/><circle cx="309.4" cy="329.2" r="5.5"/><circle cx="276.4" cy="389.5" r="5.5"/><circle cx="241.4" cy="461.8" r="5.5"/><circle cx="209.4" cy="548.6" r="5.5"/><circle cx="187.5" cy="652.2" r="5.5"/><circle cx="162.7" cy="775.8" r="5.5"/></g>
</g>
<rect x="88.5" y="19.5" width="401" height="795" fill="none" stroke="#000" stroke-width="1.25"/>
<path d="M88.5 19.5h-5.8M88.5 68.5h-5.8M88.5 118.5h-5.8M88.5 168.5h-5.8M88.5 218.5h-5.8M88.5 267.5h-5.8M88.5 317.5h-5.8M88.5 367.5h-5.8M88.5 417.5h-5.8M88.5 466.5h-5.8M88.5 516.5h-5.8M88.5 566.5h-5.8M88.5 616.5h-5.8M88.5 665.5h-5.8M88.5 715.5h-5.8M88.5 765.5h-5.8M150.5 814.5v5.8M236.5 814.5v5.8M321.5 814.5v5.8M406.5 814.5v5.8" stroke="#000" stroke-width="1.15" fill="none"/>
<g font-size="16.67" text-anchor="end">
<text x="75.1" y="25.8">0</text>
<text x="75.1" y="75.6">25</text>
<text x="75.1" y="125.3">50</text>
<text x="75.1" y="175.1">75</text>
<text x="75.1" y="224.8">100</text>
<text x="75.1" y="274.6">125</text>
<text x="75.1" y="324.4">150</text>
<text x="75.1" y="374.1">175</text>
<text x="75.1" y="423.9">200</text>
<text x="75.1" y="473.7">225</text>
<text x="75.1" y="523.4">250</text>
<text x="75.1" y="573.2">275</text>
<text x="75.1" y="622.9">300</text>
<text x="75.1" y="672.7">325</text>
<text x="75.1" y="722.5">350</text>
<text x="75.1" y="772.2">375</text>
</g>
<g font-size="16.67" text-anchor="middle">
<text x="150.5" y="842.2">18</text>
<text x="236.5" y="842.2">20</text>
<text x="321.5" y="842.2">22</text>
<text x="406.5" y="842.2">24</text>
</g>
<path d="M580.5 68.5H982.5M580.5 118.5H982.5M580.5 168.5H982.5M580.5 218.5H982.5M580.5 267.5H982.5M580.5 317.5H982.5M580.5 367.5H982.5M580.5 417.5H982.5M580.5 466.5H982.5M580.5 516.5H982.5M580.5 566.5H982.5M580.5 616.5H982.5M580.5 665.5H982.5M580.5 715.5H982.5M580.5 765.5H982.5M625.5 814.5V19.5M694.5 814.5V19.5M763.5 814.5V19.5M832.5 814.5V19.5M901.5 814.5V19.5M970.5 814.5V19.5" stroke="#b0b0b0" stroke-width="0.9" stroke-dasharray="3.0 1.75" fill="none"/>
<g clip-path="url(#c1)">
<g fill="none" stroke="#00ffff" stroke-width="5.5" stroke-linejoin="round" stroke-linecap="round">
<polygon points="812.6,19 811,21 812.5,23 812,25 811.1,27 810.7,29 810.6,30.9 810.4,32.9 809.6,34.9 810.8,36.9 809.5,38.9 809.5,40.9 809.5,42.9 809.6,44.9 810.5,46.9 810.1,48.9 809.8,50.8 810.9,52.8 811.9,54.8 811.1,56.8 813.9,58.8 815.7,60.8 814,62.8 814.6,64.8 816.7,66.8 817.9,68.8 819.5,70.8 820.1,72.7 819.3,74.7 820.7,76.7 823.9,78.7 824.6,80.7 823.7,82.7 822.7,84.7 822.6,86.7 823.2,88.7 824.1,90.7 825.8,92.6 826.1,94.6 824.9,96.6 824.1,98.6 824.1,100.6 824.2,102.6 826.4,104.6 826.5,106.6 825.9,108.6 826.1,110.6 824.3,112.6 823,114.5 822.9,116.5 822.9,118.5 823.1,120.5 823.2,122.5 823.4,124.5 823.6,126.5 823.7,128.5 823.9,130.5 824.4,132.5 824.9,134.4 825.8,136.4 825.9,138.4 828.5,140.4 831.7,142.4 831,144.4 833.5,146.4 836.2,148.4 833.9,150.4 835.9,152.4 837.9,154.4 839.9,156.3 841.9,158.3 844.5,160.3 847.1,162.3 849.7,164.3 852.3,166.3 857.3,168.3 857.7,170.3 857.5,172.3 858.9,174.3 858.7,176.2 858.1,178.2 858.8,180.2 858,182.2 859.8,184.2 859.7,186.2 858.7,188.2 859.2,190.2 859.6,192.2 856.7,194.2 855.7,196.2 855.4,198.1 856.2,200.1 855,202.1 854.5,204.1 855.3,206.1 856.8,208.1 856.3,210.1 855.2,212.1 854.5,214.1 853.2,216.1 852.9,218 852.7,220 852.2,222 852,224 850.5,226 849.9,228 848.5,230 847.7,232 845.6,234 846.4,236 845.5,238 844.9,239.9 844.6,241.9 844.4,243.9 842.2,245.9 839.9,247.9 834.4,249.9 834.6,251.9 838.1,253.9 838.7,255.9 840.2,257.9 839.4,259.9 840.1,261.8 841.5,263.8 841.3,265.8 841.6,267.8 840.5,269.8 840.8,271.8 842,273.8 840.7,275.8 838.2,277.8 837.9,279.8 837.8,281.7 837.6,283.7 838.3,285.7 838.2,287.7 838.3,289.7 837.5,291.7 838.3,293.7 837.5,295.7 836.9,297.7 839.5,299.7 840.6,301.7 840.1,303.6 838.3,305.6 838.6,307.6 839.6,309.6 840.8,311.6 842.1,313.6 841.5,315.6 840.2,317.6 839.5,319.6 840.9,321.6 840,323.5 838.5,325.5 840.6,327.5 839.7,329.5 838,331.5 837.8,333.5 837.6,335.5 837.6,337.5 837.2,339.5 835.2,341.5 834.3,343.5 835.2,345.4 833.8,347.4 832.1,349.4 833.7,351.4 833.1,353.4 831.3,355.4 832.8,357.4 832.3,359.4 829.4,361.4 828.9,363.4 828.4,365.3 827.9,367.3 827.3,369.3 826.7,371.3 826.4,373.3 828.3,375.3 827.7,377.3 826.2,379.3 825.8,381.3 826.6,383.3 827.4,385.3 828.1,387.2 826.3,389.2 826.7,391.2 827.1,393.2 827.5,395.2 827.9,397.2 830,399.2 830.2,401.2 828.3,403.2 827.5,405.2 826.9,407.1 828,409.1 827.1,411.1 825.8,413.1 827.6,415.1 829.7,417.1 827.1,419.1 823.8,421.1 823.8,423.1 824,425.1 824.7,427.1 824.4,429 825.1,431 825.9,433 824.3,435 823.1,437 822.6,439 824.5,441 821.8,443 821.4,445 823.1,447 822.1,448.9 819.4,450.9 818.7,452.9 818,454.9 817.3,456.9 816.6,458.9 815.9,460.9 815.2,462.9 814.5,464.9 813.8,466.9 813,468.9 813.9,470.8 813.6,472.8 811.5,474.8 810.4,476.8 811,478.8 810.8,480.8 807.5,482.8 806.4,484.8 808.4,486.8 805.5,488.8 803.3,490.7 802.1,492.7 801,494.7 799.8,496.7 798.6,498.7 797.4,500.7 796.3,502.7 795.1,504.7 793.9,506.7 792.5,508.7 791.1,510.7 790.9,512.6 789.6,514.6 786.9,516.6 785.7,518.6 784.5,520.6 784,522.6 783.3,524.6 781.7,526.6 781.7,528.6 781.6,530.6 782.3,532.5 781.8,534.5 781.4,536.5 782.6,538.5 781.6,540.5 781.7,542.5 781.8,544.5 781.9,546.5 781.3,548.5 780,550.5 779.1,552.5 780.6,554.4 779.7,556.4 777.1,558.4 775.4,560.4 774.5,562.4 773.5,564.4 772.6,566.4 772.7,568.4 772.8,570.4 773,572.4 773.1,574.3 773.2,576.3 773.3,578.3 773.6,580.3 773.6,582.3 773.7,584.3 773.8,586.3 774.2,588.3 772.6,590.3 770.7,592.3 768.2,594.3 767.4,596.2 767.5,598.2 768.7,600.2 769.5,602.2 768.6,604.2 769.1,606.2 769,608.2 768.6,610.2 768.6,612.2 770,614.2 768.9,616.1 767.6,618.1 767.9,620.1 769.3,622.1 766.9,624.1 766.6,626.1 766.1,628.1 765.7,630.1 766.6,632.1 765.2,634.1 764.3,636.1 763.8,638 763.7,640 762.8,642 762.4,644 762.7,646 761.3,648 760.3,650 759.9,652 759.5,654 759.7,656 760.9,658 759.8,659.9 756,661.9 754.6,663.9 754.9,665.9 755.1,667.9 753.1,669.9 752.2,671.9 751.4,673.9 750.9,675.9 750.3,677.9 750.1,679.8 750.3,681.8 749.7,683.8 748.7,685.8 747.3,687.8 746.5,689.8 745.4,691.8 744.9,693.8 744.2,695.8 741.2,697.8 739.8,699.8 739.1,701.7 739.1,703.7 737.3,705.7 736.1,707.7 733.9,709.7 732.8,711.7 732.7,713.7 730.4,715.7 729.9,717.7 730.3,719.7 729.9,721.6 729,723.6 727.8,725.6 726.6,727.6 726.9,729.6 725.2,731.6 723.8,733.6 722,735.6 721.5,737.6 719.8,739.6 719.3,741.6 717.3,743.5 716.1,745.5 714.4,747.5 712.8,749.5 712.9,751.5 713.4,753.5 708.9,755.5 705.8,757.5 704.5,759.5 702.6,761.5 700.8,763.4 698.9,765.4 697.4,767.4 696.4,769.4 696,771.4 694.6,773.4 692.8,775.4 692.3,777.4 690.9,779.4 691.2,781.4 690,783.4 686.9,785.3 686.3,787.3 687.8,789.3 687.2,791.3 685.6,793.3 682.8,795.3 681.3,797.3 681,799.3 679.5,801.3 678.9,803.3 678.2,805.2 678,807.2 676.4,809.2 675.5,811.2 674.8,813.2 676.5,815.2 720.1,815.2 721.4,813.2 722.3,811.2 722.6,809.2 723.9,807.2 725.1,805.2 726,803.3 727,801.3 727.9,799.3 728.5,797.3 729.8,795.3 730.7,793.3 731.1,791.3 731.7,789.3 733.3,787.3 732.6,785.3 735.5,783.4 736.6,781.4 736.4,779.4 737.5,777.4 739.6,775.4 740.8,773.4 741.8,771.4 742.1,769.4 741.7,767.4 743.4,765.4 743.3,763.4 745.2,761.5 747.1,759.5 745.3,757.5 747.5,755.5 749.4,753.5 746.6,751.5 746.2,749.5 749.5,747.5 751.6,745.5 752.8,743.5 752.7,741.6 751.3,739.6 751.7,737.6 754.7,735.6 755.2,733.6 755.5,731.6 753.5,729.6 753.4,727.6 756.2,725.6 758.1,723.6 759.6,721.6 761,719.7 762.5,717.7 764,715.7 764.9,713.7 765.8,711.7 766.4,709.7 767.7,707.7 767.9,705.7 766.4,703.7 766.2,701.7 767.1,699.8 767.7,697.8 767.4,695.8 767.2,693.8 767,691.8 766.6,689.8 766.5,687.8 766.3,685.8 766.8,683.8 767.2,681.8 767.7,679.8 768.2,677.9 768.6,675.9 768.3,673.9 767.1,671.9 769.3,669.9 770.5,667.9 770.2,665.9 769.7,663.9 771.4,661.9 772.4,659.9 772.8,658 773.3,656 773.8,654 773.5,652 773.4,650 774.5,648 775.4,646 774.4,644 775.4,642 776.3,640 776.2,638 776.4,636.1 776.2,634.1 777.8,632.1 779.5,630.1 780.9,628.1 780.9,626.1 782,624.1 782.5,622.1 783,620.1 783.5,618.1 784,616.1 781.8,614.2 782.5,612.2 783.9,610.2 784.2,608.2 784.3,606.2 784.8,604.2 784.3,602.2 783,600.2 783.9,598.2 786.6,596.2 786.6,594.3 786.5,592.3 789,590.3 790,588.3 789.5,586.3 789.9,584.3 791.9,582.3 792.4,580.3 791.4,578.3 792.1,576.3 793.3,574.3 792.9,572.4 792.1,570.4 791.7,568.4 794.4,566.4 796.6,564.4 796.6,562.4 797.4,560.4 799.8,558.4 800.4,556.4 801.9,554.4 802.9,552.5 804,550.5 805,548.5 806.1,546.5 806.4,544.5 807,542.5 807.5,540.5 808,538.5 808.4,536.5 807.5,534.5 809.4,532.5 809.9,530.6 810.3,528.6 810.8,526.6 811.1,524.6 812.1,522.6 815,520.6 814.8,518.6 815.8,516.6 816.6,514.6 817.4,512.6 819,510.7 818.6,508.7 819.3,506.7 821.9,504.7 824.5,502.7 827.2,500.7 827.8,498.7 830.2,496.7 829.9,494.7 829.7,492.7 829.4,490.7 830.1,488.8 830.6,486.8 833,484.8 834.3,482.8 832.8,480.8 833.3,478.8 833.3,476.8 833.1,474.8 833.1,472.8 831.3,470.8 832.5,468.9 832.8,466.9 834.1,464.9 834.9,462.9 835.4,460.9 835.4,458.9 837,456.9 838,454.9 836.6,452.9 837.5,450.9 840.7,448.9 841.5,447 840.9,445 839.5,443 840.3,441 843.5,439 843.8,437 844.5,435 844.4,433 844.8,431 845.7,429 846.1,427.1 846.3,425.1 846.5,423.1 847,421.1 846.4,419.1 845.7,417.1 845.8,415.1 846.7,413.1 847.2,411.1 849.5,409.1 850,407.1 850.9,405.2 851.8,403.2 852.8,401.2 853.7,399.2 853.7,397.2 854.2,395.2 855.8,393.2 856.3,391.2 858.8,389.2 860.2,387.2 862.7,385.3 864.9,383.3 865.6,381.3 867.8,379.3 869.8,377.3 867.9,375.3 865.7,373.3 865.9,371.3 866.8,369.3 866.1,367.3 866.3,365.3 866.3,363.4 865.3,361.4 866.6,359.4 867.1,357.4 867.2,355.4 867.5,353.4 866.1,351.4 865.5,349.4 867.7,347.4 868.5,345.4 868.9,343.5 868.2,341.5 869.4,339.5 868.2,337.5 869.8,335.5 870.9,333.5 873.4,331.5 876,329.5 877.7,327.5 879.8,325.5 881.5,323.5 881.4,321.6 879.3,319.6 877.1,317.6 873.8,315.6 873.2,313.6 870.9,311.6 868.5,309.6 866.1,307.6 864.9,305.6 863.7,303.6 862.5,301.7 860.7,299.7 859.1,297.7 860.1,295.7 860.1,293.7 860.1,291.7 860,289.7 859.1,287.7 860.1,285.7 860.1,283.7 860.1,281.7 860.1,279.8 860.1,277.8 860.1,275.8 860.1,273.8 860.1,271.8 860.1,269.8 860.1,267.8 860.4,265.8 859.9,263.8 863.4,261.8 863.9,259.9 864.7,257.9 867.1,255.9 869.1,253.9 871.2,251.9 873,249.9 874.1,247.9 874.1,245.9 874.1,243.9 874.1,241.9 874.1,239.9 874.1,238 873,236 872.2,234 874.1,232 874.1,230 874.1,228 873,226 870.8,224 872.6,222 873.1,220 872.8,218 872.9,216.1 872.9,214.1 873,212.1 872,210.1 872.3,208.1 873.3,206.1 873.5,204.1 873.6,202.1 873.9,200.1 874.1,198.1 874.3,196.2 874.5,194.2 874.7,192.2 873.8,190.2 873.9,188.2 875.1,186.2 875.1,184.2 875.1,182.2 875.1,180.2 875.1,178.2 875.1,176.2 875.1,174.3 875.1,172.3 874.5,170.3 873.3,168.3 875,166.3 875.1,164.3 875.1,162.3 875.1,160.3 875.1,158.3 875.2,156.3 873,154.4 872,152.4 873.3,150.4 874.4,148.4 874,146.4 875.1,144.4 873.8,142.4 871,140.4 871.2,138.4 873.4,136.4 874.2,134.4 875.7,132.5 874.9,130.5 872.9,128.5 870.5,126.5 867.9,124.5 865.3,122.5 862.7,120.5 857.8,118.5 855.5,116.5 856.1,114.5 857.1,112.6 856.1,110.6 854.7,108.6 854,106.6 853.1,104.6 852.1,102.6 851.1,100.6 850.1,98.6 849.7,96.6 849.3,94.6 848.9,92.6 848,90.7 847.1,88.7 846.8,86.7 846,84.7 845.8,82.7 845.2,80.7 845.5,78.7 844.5,76.7 842.2,74.7 840.8,72.7 841.1,70.8 842.7,68.8 842.1,66.8 840,64.8 836.9,62.8 838.1,60.8 836.9,58.8 833.8,56.8 833.8,54.8 835.3,52.8 835.9,50.8 836.1,48.9 834.6,46.9 832.2,44.9 831.2,42.9 832.1,40.9 835,38.9 835,36.9 831.6,34.9 831.3,32.9 832.9,30.9 834.3,29 835.1,27 835.1,25 833.1,23 832.9,21 833.6,19" fill="#00ffff" stroke="none"/>
<polyline points="812.6,19 811,21 812.5,23 812,25 811.1,27 810.7,29 810.6,30.9 810.4,32.9 809.6,34.9 810.8,36.9 809.5,38.9 809.5,40.9 809.5,42.9 809.6,44.9 810.5,46.9 810.1,48.9 809.8,50.8 810.9,52.8 811.9,54.8 811.1,56.8 813.9,58.8 815.7,60.8 814,62.8 814.6,64.8 816.7,66.8 817.9,68.8 819.5,70.8 820.1,72.7 819.3,74.7 820.7,76.7 823.9,78.7 824.6,80.7 823.7,82.7 822.7,84.7 822.6,86.7 823.2,88.7 824.1,90.7 825.8,92.6 826.1,94.6 824.9,96.6 824.1,98.6 824.1,100.6 824.2,102.6 826.4,104.6 826.5,106.6 825.9,108.6 826.1,110.6 824.3,112.6 823,114.5 822.9,116.5 822.9,118.5 823.1,120.5 823.2,122.5 823.4,124.5 823.6,126.5 823.7,128.5 823.9,130.5 824.4,132.5 824.9,134.4 825.8,136.4 825.9,138.4 828.5,140.4 831.7,142.4 831,144.4 833.5,146.4 836.2,148.4 833.9,150.4 835.9,152.4 837.9,154.4 839.9,156.3 841.9,158.3 844.5,160.3 847.1,162.3 849.7,164.3 852.3,166.3 857.3,168.3 857.7,170.3 857.5,172.3 858.9,174.3 858.7,176.2 858.1,178.2 858.8,180.2 858,182.2 859.8,184.2 859.7,186.2 858.7,188.2 859.2,190.2 859.6,192.2 856.7,194.2 855.7,196.2 855.4,198.1 856.2,200.1 855,202.1 854.5,204.1 855.3,206.1 856.8,208.1 856.3,210.1 855.2,212.1 854.5,214.1 853.2,216.1 852.9,218 852.7,220 852.2,222 852,224 850.5,226 849.9,228 848.5,230 847.7,232 845.6,234 846.4,236 845.5,238 844.9,239.9 844.6,241.9 844.4,243.9 842.2,245.9 839.9,247.9 834.4,249.9 834.6,251.9 838.1,253.9 838.7,255.9 840.2,257.9 839.4,259.9 840.1,261.8 841.5,263.8 841.3,265.8 841.6,267.8 840.5,269.8 840.8,271.8 842,273.8 840.7,275.8 838.2,277.8 837.9,279.8 837.8,281.7 837.6,283.7 838.3,285.7 838.2,287.7 838.3,289.7 837.5,291.7 838.3,293.7 837.5,295.7 836.9,297.7 839.5,299.7 840.6,301.7 840.1,303.6 838.3,305.6 838.6,307.6 839.6,309.6 840.8,311.6 842.1,313.6 841.5,315.6 840.2,317.6 839.5,319.6 840.9,321.6 840,323.5 838.5,325.5 840.6,327.5 839.7,329.5 838,331.5 837.8,333.5 837.6,335.5 837.6,337.5 837.2,339.5 835.2,341.5 834.3,343.5 835.2,345.4 833.8,347.4 832.1,349.4 833.7,351.4 833.1,353.4 831.3,355.4 832.8,357.4 832.3,359.4 829.4,361.4 828.9,363.4 828.4,365.3 827.9,367.3 827.3,369.3 826.7,371.3 826.4,373.3 828.3,375.3 827.7,377.3 826.2,379.3 825.8,381.3 826.6,383.3 827.4,385.3 828.1,387.2 826.3,389.2 826.7,391.2 827.1,393.2 827.5,395.2 827.9,397.2 830,399.2 830.2,401.2 828.3,403.2 827.5,405.2 826.9,407.1 828,409.1 827.1,411.1 825.8,413.1 827.6,415.1 829.7,417.1 827.1,419.1 823.8,421.1 823.8,423.1 824,425.1 824.7,427.1 824.4,429 825.1,431 825.9,433 824.3,435 823.1,437 822.6,439 824.5,441 821.8,443 821.4,445 823.1,447 822.1,448.9 819.4,450.9 818.7,452.9 818,454.9 817.3,456.9 816.6,458.9 815.9,460.9 815.2,462.9 814.5,464.9 813.8,466.9 813,468.9 813.9,470.8 813.6,472.8 811.5,474.8 810.4,476.8 811,478.8 810.8,480.8 807.5,482.8 806.4,484.8 808.4,486.8 805.5,488.8 803.3,490.7 802.1,492.7 801,494.7 799.8,496.7 798.6,498.7 797.4,500.7 796.3,502.7 795.1,504.7 793.9,506.7 792.5,508.7 791.1,510.7 790.9,512.6 789.6,514.6 786.9,516.6 785.7,518.6 784.5,520.6 784,522.6 783.3,524.6 781.7,526.6 781.7,528.6 781.6,530.6 782.3,532.5 781.8,534.5 781.4,536.5 782.6,538.5 781.6,540.5 781.7,542.5 781.8,544.5 781.9,546.5 781.3,548.5 780,550.5 779.1,552.5 780.6,554.4 779.7,556.4 777.1,558.4 775.4,560.4 774.5,562.4 773.5,564.4 772.6,566.4 772.7,568.4 772.8,570.4 773,572.4 773.1,574.3 773.2,576.3 773.3,578.3 773.6,580.3 773.6,582.3 773.7,584.3 773.8,586.3 774.2,588.3 772.6,590.3 770.7,592.3 768.2,594.3 767.4,596.2 767.5,598.2 768.7,600.2 769.5,602.2 768.6,604.2 769.1,606.2 769,608.2 768.6,610.2 768.6,612.2 770,614.2 768.9,616.1 767.6,618.1 767.9,620.1 769.3,622.1 766.9,624.1 766.6,626.1 766.1,628.1 765.7,630.1 766.6,632.1 765.2,634.1 764.3,636.1 763.8,638 763.7,640 762.8,642 762.4,644 762.7,646 761.3,648 760.3,650 759.9,652 759.5,654 759.7,656 760.9,658 759.8,659.9 756,661.9 754.6,663.9 754.9,665.9 755.1,667.9 753.1,669.9 752.2,671.9 751.4,673.9 750.9,675.9 750.3,677.9 750.1,679.8 750.3,681.8 749.7,683.8 748.7,685.8 747.3,687.8 746.5,689.8 745.4,691.8 744.9,693.8 744.2,695.8 741.2,697.8 739.8,699.8 739.1,701.7 739.1,703.7 737.3,705.7 736.1,707.7 733.9,709.7 732.8,711.7 732.7,713.7 730.4,715.7 729.9,717.7 730.3,719.7 729.9,721.6 729,723.6 727.8,725.6 726.6,727.6 726.9,729.6 725.2,731.6 723.8,733.6 722,735.6 721.5,737.6 719.8,739.6 719.3,741.6 717.3,743.5 716.1,745.5 714.4,747.5 712.8,749.5 712.9,751.5 713.4,753.5 708.9,755.5 705.8,757.5 704.5,759.5 702.6,761.5 700.8,763.4 698.9,765.4 697.4,767.4 696.4,769.4 696,771.4 694.6,773.4 692.8,775.4 692.3,777.4 690.9,779.4 691.2,781.4 690,783.4 686.9,785.3 686.3,787.3 687.8,789.3 687.2,791.3 685.6,793.3 682.8,795.3 681.3,797.3 681,799.3 679.5,801.3 678.9,803.3 678.2,805.2 678,807.2 676.4,809.2 675.5,811.2 674.8,813.2 676.5,815.2"/>
<polyline points="811.3,19 812.4,21 812.1,23 813.3,25 814.8,27 815.1,29 816,30.9 814.5,32.9 813.3,34.9 814.1,36.9 813.7,38.9 815.5,40.9 814.5,42.9 813.4,44.9 812.5,46.9 813.9,48.9 815.7,50.8 816.9,52.8 814.5,54.8 813.5,56.8 815.2,58.8 816.3,60.8 816.9,62.8 819.2,64.8 821.1,66.8 821.5,68.8 822.1,70.8 823.2,72.7 826.5,74.7 828.7,76.7 829,78.7 829.2,80.7 828,82.7 827.7,84.7 829.3,86.7 830.4,88.7 829.3,90.7 828.4,92.6 825.4,94.6 825.2,96.6 827.2,98.6 827.2,100.6 826.4,102.6 826.9,104.6 829.7,106.6 829.7,108.6 829.4,110.6 831.2,112.6 832.6,114.5 834.2,116.5 834.1,118.5 834.7,120.5 836.5,122.5 837.7,124.5 837.8,126.5 839.1,128.5 839.3,130.5 841.5,132.5 839.4,134.4 842.1,136.4 844.4,138.4 844.6,140.4 845.8,142.4 847.1,144.4 850.1,146.4 848.9,148.4 848.7,150.4 847.7,152.4 851.2,154.4 852,156.3 851.6,158.3 856.2,160.3 860.5,162.3 861.2,164.3 861.7,166.3 865.2,168.3 866.4,170.3 868.5,172.3 868.6,174.3 868.9,176.2 868.2,178.2 868.9,180.2 870.1,182.2 868.7,184.2 863.6,186.2 862.2,188.2 862,190.2 861.4,192.2 858.5,194.2 858.9,196.2 859.8,198.1 861.3,200.1 862.8,202.1 860.8,204.1 859.5,206.1 860.8,208.1 861.2,210.1 858.9,212.1 859,214.1 859.7,216.1 859.5,218 862.1,220 859.8,222 857.1,224 857,226 855.7,228 855.9,230 852.7,232 849.7,234 849.2,236 849.9,238 849.9,239.9 848.7,241.9 848.7,243.9 846.3,245.9 842.4,247.9 838.1,249.9 838.2,251.9 841.3,253.9 843.6,255.9 844.4,257.9 843.5,259.9 843.2,261.8 845.1,263.8 845.3,265.8 844.4,267.8 842.1,269.8 844.3,271.8 846.3,273.8 843.5,275.8 842.4,277.8 844.4,279.8 845.1,281.7 846.3,283.7 846,285.7 844.7,287.7 843.5,289.7 842.4,291.7 843,293.7 842.1,295.7 842.5,297.7 845.3,299.7 846.8,301.7 846.7,303.6 846.9,305.6 849.8,307.6 850.5,309.6 851.3,311.6 852.2,313.6 852.2,315.6 849.6,317.6 849.8,319.6 850.8,321.6 851.4,323.5 853.7,325.5 852.5,327.5 853.8,329.5 854.4,331.5 852,333.5 850.3,335.5 847.6,337.5 847.2,339.5 846.9,341.5 843.8,343.5 844,345.4 844.9,347.4 841.6,349.4 841.6,351.4 844,353.4 843.5,355.4 841.4,357.4 842.3,359.4 843.2,361.4 841.6,363.4 839.7,365.3 841.2,367.3 841.1,369.3 840.9,371.3 840.3,373.3 841.1,375.3 842.6,377.3 838.4,379.3 839.7,381.3 841.4,383.3 839.5,385.3 840,387.2 840.2,389.2 839.1,391.2 836.3,393.2 836.6,395.2 838.7,397.2 837.2,399.2 836.3,401.2 837.8,403.2 836.5,405.2 836.3,407.1 834.8,409.1 835.8,411.1 832.8,413.1 831.1,415.1 831.5,417.1 829.8,419.1 830.5,421.1 830.5,423.1 829.1,425.1 829.9,427.1 826.9,429 826.7,431 826.3,433 826,435 827.2,437 827.6,439 826,441 825.5,443 823.6,445 822.2,447 820.1,448.9 819.4,450.9 820,452.9 818.2,454.9 819.3,456.9 820.6,458.9 821.2,460.9 819.5,462.9 819,464.9 819.2,466.9 818.6,468.9 816.7,470.8 815.1,472.8 817.1,474.8 816.7,476.8 814.5,478.8 813.2,480.8 811,482.8 813.1,484.8 810.7,486.8 806.4,488.8 806.6,490.7 806.7,492.7 805.4,494.7 803.1,496.7 799.7,498.7 802.3,500.7 801.1,502.7 801.2,504.7 798.9,506.7 794.9,508.7 793.9,510.7 794.6,512.6 795.2,514.6 793.5,516.6 792.4,518.6 791.4,520.6 789.7,522.6 786.5,524.6 784.2,526.6 784.1,528.6 787.2,530.6 787.1,532.5 786.6,534.5 787,536.5 787.1,538.5 785.6,540.5 787.7,542.5 790.1,544.5 787.5,546.5 784.7,548.5 781.6,550.5 781.9,552.5 782.8,554.4 781.6,556.4 778.3,558.4 777.9,560.4 779.5,562.4 777.8,564.4 775.9,566.4 778.8,568.4 779.3,570.4 778.8,572.4 778.7,574.3 779.6,576.3 778.9,578.3 775.2,580.3 773.9,582.3 775.3,584.3 774,586.3 775.2,588.3 774.3,590.3 773.5,592.3 774.2,594.3 772.1,596.2 770,598.2 770.6,600.2 771.8,602.2 772.2,604.2 772.5,606.2 773.5,608.2 772.1,610.2 772.8,612.2 772.6,614.2 772.4,616.1 771.7,618.1 770.4,620.1 770.7,622.1 770.8,624.1 770.4,626.1 770.9,628.1 770.1,630.1 770.5,632.1 767.7,634.1 766.2,636.1 766.2,638 766.3,640 767.4,642 766.1,644 765.3,646 764.2,648 765,650 766.3,652 765.4,654 765.6,656 765.2,658 761.9,659.9 759.1,661.9 761,663.9 763.9,665.9 761.3,667.9 757.8,669.9 759,671.9 759.6,673.9 756,675.9 753.2,677.9 755.3,679.8 754.7,681.8 753.2,683.8 752.9,685.8 751.6,687.8 749.9,689.8 752.5,691.8 751.2,693.8 749.5,695.8 748.2,697.8 748.9,699.8 748.6,701.7 747.3,703.7 747.3,705.7 744.9,707.7 741.7,709.7 738.3,711.7 738.7,713.7 740.2,715.7 740.7,717.7 738.2,719.7 735.5,721.6 738.2,723.6 738.7,725.6 735.8,727.6 735.6,729.6 735.7,731.6 735.6,733.6 734.4,735.6 734.6,737.6 735.1,739.6 733.5,741.6 732.4,743.5 731.9,745.5 729.1,747.5 723.7,749.5 724.3,751.5 725,753.5 723.4,755.5 724,757.5 723.1,759.5 719.8,761.5 718.7,763.4 718.6,765.4 719.3,767.4 717.2,769.4 715.7,771.4 713.2,773.4 713.4,775.4 712.2,777.4 711,779.4 708.1,781.4 706.7,783.4 703.4,785.3 703.8,787.3 702,789.3 702.4,791.3 702.1,793.3 699.8,795.3 700.3,797.3 699,799.3 698.8,801.3 697.4,803.3 694.7,805.2 695.7,807.2 693.2,809.2 694.8,811.2 695.3,813.2 693.1,815.2"/>
<polyline points="821.7,19 821.7,21 819,23 821.3,25 823,27 822.6,29 821.3,30.9 820,32.9 820.8,34.9 820.6,36.9 822.2,38.9 821.2,40.9 821.2,42.9 820.9,44.9 820.2,46.9 819.4,48.9 821.6,50.8 819.1,52.8 820.7,54.8 822.6,56.8 825.9,58.8 827.7,60.8 827.9,62.8 826.2,64.8 830.7,66.8 832.8,68.8 830.3,70.8 829.9,72.7 828.1,74.7 830.4,76.7 833.3,78.7 832.4,80.7 831.4,82.7 830.5,84.7 831.8,86.7 832,88.7 831.2,90.7 832.1,92.6 829.4,94.6 833.5,96.6 835.5,98.6 831.4,100.6 830,102.6 830.5,104.6 831.5,106.6 831.1,108.6 830,110.6 829.2,112.6 831.5,114.5 833.8,116.5 831.1,118.5 832.1,120.5 838,122.5 837.8,124.5 837,126.5 837,128.5 833.3,130.5 832.9,132.5 839.3,134.4 835.6,136.4 830.9,138.4 831.3,140.4 836.1,142.4 838.4,144.4 838.4,146.4 838.6,148.4 839.7,150.4 841.5,152.4 839.8,154.4 843.5,156.3 846.5,158.3 851.8,160.3 852.2,162.3 857.3,164.3 858.5,166.3 859.3,168.3 859.2,170.3 860.5,172.3 862.4,174.3 864.1,176.2 861.3,178.2 861.5,180.2 861.4,182.2 861.9,184.2 860.2,186.2 860.2,188.2 862.9,190.2 861.6,192.2 861.6,194.2 859.5,196.2 858.9,198.1 857.9,200.1 858.2,202.1 859.2,204.1 858.9,206.1 859.3,208.1 858.9,210.1 860.5,212.1 859.4,214.1 857.2,216.1 862.2,218 859.2,220 857.7,222 857.2,224 857.8,226 859.1,228 857,230 855.4,232 854.2,234 854.6,236 852.4,238 853.1,239.9 851.7,241.9 852.2,243.9 848.6,245.9 849.2,247.9 842.4,249.9 843.1,251.9 847.1,253.9 846.6,255.9 845,257.9 844.4,259.9 845.1,261.8 846.3,263.8 847.1,265.8 844.8,267.8 844,269.8 845.4,271.8 846.3,273.8 846.2,275.8 845.6,277.8 844.4,279.8 844.3,281.7 847,283.7 846.3,285.7 846.4,287.7 843.7,289.7 844,291.7 846.6,293.7 847,295.7 846.9,297.7 845.9,299.7 850.4,301.7 851.9,303.6 851.3,305.6 853.6,307.6 856,309.6 855,311.6 856.2,313.6 856.6,315.6 855.8,317.6 858.9,319.6 857.2,321.6 857.2,323.5 855.9,325.5 853.3,327.5 854.3,329.5 854.8,331.5 852.3,333.5 851.2,335.5 852.3,337.5 851.1,339.5 848.9,341.5 847.8,343.5 849.2,345.4 848.6,347.4 848.8,349.4 845.4,351.4 844.3,353.4 844,355.4 844.7,357.4 844.8,359.4 846,361.4 843,363.4 839.4,365.3 841.7,367.3 840.9,369.3 841.3,371.3 842.9,373.3 840.1,375.3 841.2,377.3 842.6,379.3 841,381.3 841.1,383.3 839.9,385.3 837.7,387.2 837.6,389.2 838.1,391.2 838.6,393.2 838.1,395.2 838.7,397.2 839.6,399.2 839.7,401.2 838.8,403.2 836.4,405.2 837.6,407.1 839.4,409.1 839.5,411.1 837.3,413.1 838.4,415.1 837.8,417.1 837.2,419.1 838.1,421.1 835.5,423.1 832.3,425.1 832.2,427.1 834.4,429 832.8,431 831.6,433 831.8,435 832,437 833.3,439 833.1,441 830.3,443 829.7,445 830.8,447 831.2,448.9 829,450.9 827.8,452.9 827.4,454.9 826,456.9 824.8,458.9 825.4,460.9 824.4,462.9 824.7,464.9 826.1,466.9 826.4,468.9 825.3,470.8 822.8,472.8 823.4,474.8 824.1,476.8 824.3,478.8 824.8,480.8 823.9,482.8 823.1,484.8 822,486.8 820.7,488.8 821.2,490.7 817.2,492.7 814,494.7 812.8,496.7 809.6,498.7 810.7,500.7 810.5,502.7 809.2,504.7 807.3,506.7 807.3,508.7 806.1,510.7 802.7,512.6 802.7,514.6 800,516.6 797.6,518.6 794.3,520.6 791.3,522.6 791.5,524.6 792.3,526.6 791,528.6 791.1,530.6 792.7,532.5 791.2,534.5 790.7,536.5 789.7,538.5 788.4,540.5 789,542.5 787.4,544.5 787.7,546.5 787.6,548.5 786.9,550.5 786.4,552.5 784.5,554.4 783.9,556.4 784.8,558.4 782.3,560.4 779.9,562.4 781.7,564.4 782.7,566.4 783.1,568.4 780.9,570.4 776.7,572.4 777.4,574.3 777.7,576.3 775.9,578.3 775.2,580.3 776.9,582.3 777.7,584.3 779.2,586.3 778.6,588.3 776.8,590.3 776.3,592.3 777,594.3 774.6,596.2 774.2,598.2 776.6,600.2 776.8,602.2 774.7,604.2 774.1,606.2 774.1,608.2 774.4,610.2 774,612.2 774.8,614.2 774.3,616.1 775.7,618.1 774.1,620.1 771.9,622.1 773,624.1 772.5,626.1 770,628.1 771,630.1 769.8,632.1 770,634.1 769.4,636.1 769.8,638 768.8,640 769,642 769,644 768.8,646 767.5,648 766.2,650 767.1,652 766.3,654 763.3,656 762.9,658 763.2,659.9 762.2,661.9 761.8,663.9 761.5,665.9 759.9,667.9 756.3,669.9 755.9,671.9 760.1,673.9 758.8,675.9 758,677.9 759.3,679.8 757.3,681.8 756.4,683.8 755.5,685.8 753.5,687.8 752.9,689.8 753.2,691.8 753.9,693.8 751.7,695.8 752.7,697.8 751.5,699.8 751.4,701.7 750.8,703.7 751.4,705.7 751,707.7 750.5,709.7 749.1,711.7 747.7,713.7 746.2,715.7 746,717.7 743.3,719.7 742.3,721.6 741.8,723.6 738.5,725.6 734.4,727.6 735.9,729.6 732.3,731.6 732,733.6 730.3,735.6 729.4,737.6 730.4,739.6 729.9,741.6 729,743.5 730.8,745.5 731.7,747.5 729.5,749.5 727.1,751.5 727.8,753.5 724.2,755.5 723.9,757.5 721.1,759.5 721.5,761.5 721.1,763.4 720.2,765.4 718,767.4 716.8,769.4 714.7,771.4 711,773.4 705.8,775.4 705.5,777.4 704.3,779.4 704.7,781.4 703.9,783.4 706.9,785.3 705,787.3 703.1,789.3 704.4,791.3 702.8,793.3 701.8,795.3 703.1,797.3 705.1,799.3 703.6,801.3 702.6,803.3 699.7,805.2 698.5,807.2 700.6,809.2 699.1,811.2 701,813.2 702.4,815.2"/>
<polyline points="825.8,19 826.7,21 826.9,23 826.2,25 825.7,27 824.6,29 826.8,30.9 826.9,32.9 825.1,34.9 825.4,36.9 824.7,38.9 825.7,40.9 826,42.9 823,44.9 823.2,46.9 824.4,48.9 823,50.8 823.7,52.8 824.4,54.8 821.8,56.8 822.5,58.8 825.3,60.8 825.8,62.8 826.9,64.8 829.9,66.8 830.3,68.8 829.7,70.8 830.3,72.7 833.2,74.7 832.7,76.7 834.8,78.7 834.6,80.7 835.2,82.7 834.8,84.7 835.8,86.7 834.6,88.7 833.4,90.7 833.8,92.6 834.8,94.6 837.7,96.6 841,98.6 838.8,100.6 839,102.6 841.8,104.6 844.2,106.6 843.5,108.6 842.4,110.6 841.5,112.6 841.7,114.5 842.4,116.5 842.6,118.5 842.8,120.5 843.2,122.5 844.9,124.5 847.7,126.5 849.6,128.5 850,130.5 851.4,132.5 850.5,134.4 851.7,136.4 851.8,138.4 852.5,140.4 854.7,142.4 853.8,144.4 853.4,146.4 853.6,148.4 852.4,150.4 854.8,152.4 854.5,154.4 854.2,156.3 854.1,158.3 854.7,160.3 857,162.3 859,164.3 862.2,166.3 864.5,168.3 861.5,170.3 862.4,172.3 863.3,174.3 862.9,176.2 864,178.2 863.2,180.2 862.9,182.2 861.8,184.2 861.2,186.2 862.7,188.2 862.3,190.2 862.4,192.2 862.2,194.2 863.1,196.2 861.4,198.1 861.7,200.1 862.3,202.1 860.5,204.1 859.9,206.1 861.8,208.1 860,210.1 861.7,212.1 864.8,214.1 864,216.1 863.7,218 865.4,220 864.6,222 862.9,224 861.6,226 862.1,228 860.3,230 860.3,232 860.7,234 862,236 861.4,238 862.6,239.9 862.6,241.9 864.9,243.9 863,245.9 858.6,247.9 856,249.9 855.9,251.9 856.5,253.9 855,255.9 851.3,257.9 851.6,259.9 847.9,261.8 845.9,263.8 846.3,265.8 849,267.8 848,269.8 845.9,271.8 845.9,273.8 848.6,275.8 848.4,277.8 846.7,279.8 850.9,281.7 851.7,283.7 848.9,285.7 850.2,287.7 850.6,289.7 847.5,291.7 847.2,293.7 848.5,295.7 851.5,297.7 849.1,299.7 847,301.7 848.2,303.6 848.4,305.6 849.8,307.6 849,309.6 850.7,311.6 851.9,313.6 851.2,315.6 853.3,317.6 857.5,319.6 859.4,321.6 855.5,323.5 856.2,325.5 853.7,327.5 853.7,329.5 855.9,331.5 856.3,333.5 855.4,335.5 855.1,337.5 854,339.5 855.3,341.5 855.6,343.5 851.9,345.4 851.8,347.4 851.9,349.4 852,351.4 852.6,353.4 851.4,355.4 849.8,357.4 849.8,359.4 852.4,361.4 851.5,363.4 849.5,365.3 846.5,367.3 848.8,369.3 849.1,371.3 849.9,373.3 848.5,375.3 849.8,377.3 846.8,379.3 846.7,381.3 846.1,383.3 845.4,385.3 843,387.2 842.6,389.2 843.4,391.2 842.9,393.2 841.1,395.2 838.5,397.2 840.3,399.2 840.4,401.2 837.4,403.2 837.5,405.2 838.3,407.1 836.2,409.1 835,411.1 833.5,413.1 831.8,415.1 833.7,417.1 835.4,419.1 836.5,421.1 835.4,423.1 833.7,425.1 833.1,427.1 835.2,429 836.4,431 835,433 833.3,435 833.1,437 832.9,439 830.6,441 830.6,443 833.5,445 831.8,447 830.4,448.9 830,450.9 828.8,452.9 828.7,454.9 827.8,456.9 826.9,458.9 827.4,460.9 827.2,462.9 826.2,464.9 826.6,466.9 827.4,468.9 828.8,470.8 825.5,472.8 823.6,474.8 824.2,476.8 824.5,478.8 822.9,480.8 820.8,482.8 818.5,484.8 821.2,486.8 822.3,488.8 821.1,490.7 820.5,492.7 823.1,494.7 823.1,496.7 820.5,498.7 817.2,500.7 815.2,502.7 813,504.7 811.3,506.7 812.1,508.7 811.4,510.7 807.1,512.6 805.8,514.6 804.8,516.6 803.3,518.6 801.1,520.6 796,522.6 793.5,524.6 794.6,526.6 796,528.6 795.6,530.6 795.6,532.5 795.5,534.5 799.1,536.5 799.4,538.5 798.9,540.5 798.3,542.5 797,544.5 795.3,546.5 796.6,548.5 795.5,550.5 794.1,552.5 790.9,554.4 788.3,556.4 789.5,558.4 791.2,560.4 787.8,562.4 787.5,564.4 786.7,566.4 786.3,568.4 786.2,570.4 784.3,572.4 781.6,574.3 781,576.3 781.5,578.3 781.3,580.3 781,582.3 781,584.3 781.4,586.3 780.1,588.3 780.1,590.3 779.4,592.3 779.5,594.3 778.5,596.2 778,598.2 777.9,600.2 779.1,602.2 779.9,604.2 780,606.2 779,608.2 778.4,610.2 776.8,612.2 776.3,614.2 779.3,616.1 780.2,618.1 778.2,620.1 776.2,622.1 777.5,624.1 775.2,626.1 772.8,628.1 773.3,630.1 773.9,632.1 772.7,634.1 771.8,636.1 770.8,638 769.8,640 768.9,642 769.4,644 768.3,646 768.1,648 769.9,650 771.2,652 771.2,654 770.7,656 768.6,658 767.3,659.9 768.4,661.9 765.8,663.9 762.9,665.9 762.4,667.9 763.2,669.9 765.6,671.9 761.9,673.9 759.4,675.9 762.6,677.9 762.8,679.8 760.8,681.8 758.8,683.8 754.9,685.8 753.3,687.8 752.7,689.8 753.5,691.8 754.1,693.8 752.6,695.8 750,697.8 749.7,699.8 752.7,701.7 754,703.7 749.2,705.7 744.8,707.7 744.8,709.7 743,711.7 742.1,713.7 741.4,715.7 741.2,717.7 742,719.7 740,721.6 737.9,723.6 738.3,725.6 738.4,727.6 736.9,729.6 735.3,731.6 732.8,733.6 731.2,735.6 732.4,737.6 730.3,739.6 730.6,741.6 730.3,743.5 728.1,745.5 729.5,747.5 728.7,749.5 725.8,751.5 726,753.5 728.9,755.5 726.5,757.5 723.6,759.5 722.8,761.5 723.4,763.4 720.3,765.4 721.8,767.4 719.2,769.4 720.6,771.4 718.6,773.4 718.5,775.4 719.1,777.4 716.6,779.4 716.3,781.4 715.8,783.4 712.4,785.3 713.1,787.3 715,789.3 711.8,791.3 711.8,793.3 710.3,795.3 710.2,797.3 711.6,799.3 709.6,801.3 707,803.3 710.3,805.2 710.9,807.2 712.3,809.2 712.4,811.2 711.2,813.2 708,815.2"/>
<polyline points="824.9,19 824.1,21 826.8,23 826.9,25 826.2,27 824.8,29 823.5,30.9 824.5,32.9 825.1,34.9 825.1,36.9 824.8,38.9 824.2,40.9 825.3,42.9 825.3,44.9 823,46.9 824.9,48.9 825.3,50.8 825.3,52.8 824.3,54.8 824.8,56.8 823.8,58.8 825.1,60.8 828.5,62.8 827.5,64.8 827.8,66.8 829.7,68.8 830.5,70.8 833.1,72.7 833.4,74.7 833.5,76.7 833.3,78.7 832.7,80.7 835.3,82.7 836.2,84.7 837.9,86.7 836.1,88.7 835.7,90.7 836.2,92.6 839.7,94.6 839,96.6 835.8,98.6 835.2,100.6 836.2,102.6 835.9,104.6 837.6,106.6 837.8,108.6 838.8,110.6 840.1,112.6 841.3,114.5 840.8,116.5 844.2,118.5 846.6,120.5 845.7,122.5 847.9,124.5 851,126.5 853,128.5 856.1,130.5 860.2,132.5 860.5,134.4 860.1,136.4 860.9,138.4 861,140.4 861.8,142.4 863,144.4 863.8,146.4 864.7,148.4 862.7,150.4 865.7,152.4 868.2,154.4 869,156.3 868.5,158.3 871.9,160.3 870.6,162.3 867.8,164.3 869.4,166.3 870.7,168.3 868.7,170.3 868.2,172.3 869.5,174.3 872.9,176.2 872.1,178.2 872.7,180.2 872.7,182.2 872.3,184.2 874.6,186.2 872.8,188.2 869.9,190.2 871,192.2 872.3,194.2 872.2,196.2 870.7,198.1 869.7,200.1 868.1,202.1 868.6,204.1 869.9,206.1 870.2,208.1 867.5,210.1 865.6,212.1 866,214.1 866.7,216.1 865.5,218 865.8,220 865.4,222 864.2,224 864.8,226 866.8,228 864.9,230 864,232 863.9,234 862.5,236 860.4,238 861.8,239.9 862.5,241.9 864.3,243.9 862.2,245.9 860.6,247.9 860.6,249.9 860.8,251.9 860,253.9 858.7,255.9 854.8,257.9 854.2,259.9 855.5,261.8 858.6,263.8 855.8,265.8 852.7,267.8 852.9,269.8 852.3,271.8 852.6,273.8 855.9,275.8 856.1,277.8 855.5,279.8 855,281.7 853.2,283.7 853.6,285.7 855.4,287.7 855.4,289.7 853.7,291.7 852.6,293.7 854,295.7 853.5,297.7 853.8,299.7 855.3,301.7 856.2,303.6 856.9,305.6 856.6,307.6 858.7,309.6 862.2,311.6 863.6,313.6 867.9,315.6 872.7,317.6 871.6,319.6 873.4,321.6 873,323.5 871.4,325.5 869.1,327.5 867,329.5 865.9,331.5 866.4,333.5 861.9,335.5 859.4,337.5 862.2,339.5 860.2,341.5 858.1,343.5 857.2,345.4 857.7,347.4 859.3,349.4 859.3,351.4 858.2,353.4 858.3,355.4 857.3,357.4 856,359.4 855.6,361.4 855.5,363.4 856.2,365.3 855.9,367.3 857.4,369.3 857.5,371.3 858.3,373.3 856.2,375.3 857.9,377.3 860.7,379.3 858.8,381.3 855.8,383.3 853.3,385.3 852.7,387.2 852.8,389.2 849.2,391.2 848.8,393.2 848.9,395.2 846,397.2 842.9,399.2 842.2,401.2 844.6,403.2 845.3,405.2 843.8,407.1 841.3,409.1 841.1,411.1 840.2,413.1 842.6,415.1 844.6,417.1 844.2,419.1 844.5,421.1 844.4,423.1 842.7,425.1 841.2,427.1 840.4,429 841.4,431 839.3,433 838.4,435 839.2,437 838.3,439 836.7,441 833.4,443 833.1,445 835.2,447 836.2,448.9 835.3,450.9 832.1,452.9 832.2,454.9 831.5,456.9 829.9,458.9 830.4,460.9 832.8,462.9 832.2,464.9 829.4,466.9 829.9,468.9 831.2,470.8 828.2,472.8 828.4,474.8 828.7,476.8 826.4,478.8 827.5,480.8 830.3,482.8 831.1,484.8 830.4,486.8 829.3,488.8 826.7,490.7 824.6,492.7 824.2,494.7 823.6,496.7 820.5,498.7 818.9,500.7 816.2,502.7 815.9,504.7 815.4,506.7 815.8,508.7 814.3,510.7 812.5,512.6 813.2,514.6 814.9,516.6 814,518.6 810.1,520.6 807.9,522.6 807.8,524.6 809,526.6 807.3,528.6 804.2,530.6 802.7,532.5 802.9,534.5 802.1,536.5 801.3,538.5 801.1,540.5 799,542.5 797.7,544.5 800.6,546.5 800.8,548.5 799.1,550.5 796.2,552.5 794.3,554.4 794,556.4 794.3,558.4 791.9,560.4 792.5,562.4 790.7,564.4 786.6,566.4 786.6,568.4 787.5,570.4 787.7,572.4 788.7,574.3 785.8,576.3 784.8,578.3 784.8,580.3 783.4,582.3 784,584.3 785.3,586.3 784.9,588.3 784.9,590.3 784.4,592.3 781.7,594.3 781.8,596.2 782,598.2 780.9,600.2 778.4,602.2 778.4,604.2 779.1,606.2 776.8,608.2 777.2,610.2 778.6,612.2 777.6,614.2 776.9,616.1 778.5,618.1 777.9,620.1 776.1,622.1 776.6,624.1 775.8,626.1 775,628.1 775.1,630.1 773.6,632.1 773.7,634.1 774.2,636.1 772.8,638 772.3,640 769.8,642 767.2,644 767.6,646 767.2,648 766.8,650 766.2,652 767.2,654 767.3,656 767.2,658 767.5,659.9 766.4,661.9 766.2,663.9 766.7,665.9 765.1,667.9 765.8,669.9 766.6,671.9 765.1,673.9 762.6,675.9 761.7,677.9 763.8,679.8 763,681.8 761.2,683.8 759.8,685.8 761.3,687.8 761.9,689.8 761.9,691.8 762.6,693.8 762.4,695.8 762.1,697.8 760.9,699.8 760.4,701.7 758.2,703.7 757.7,705.7 756.8,707.7 757,709.7 758.3,711.7 756.5,713.7 755.6,715.7 756.1,717.7 756,719.7 752.5,721.6 751.8,723.6 749.8,725.6 749.5,727.6 749.1,729.6 749.4,731.6 746.9,733.6 745.5,735.6 743.2,737.6 743.5,739.6 743.2,741.6 741.2,743.5 739.5,745.5 738.2,747.5 739,749.5 737.5,751.5 735.4,753.5 733.8,755.5 734.7,757.5 734.2,759.5 733.5,761.5 730.1,763.4 728.8,765.4 728.4,767.4 728,769.4 724.5,771.4 719.4,773.4 717.8,775.4 716.4,777.4 717.3,779.4 716.9,781.4 717.5,783.4 716.5,785.3 714.5,787.3 713.1,789.3 710.9,791.3 709.3,793.3 711.1,795.3 710.1,797.3 707.7,799.3 707.6,801.3 706.9,803.3 706.5,805.2 705.8,807.2 704.7,809.2 703.2,811.2 701.6,813.2 700.8,815.2"/>
<polyline points="833.6,19 832.9,21 833.1,23 835.1,25 835.1,27 834.3,29 832.9,30.9 831.3,32.9 831.6,34.9 835,36.9 835,38.9 832.1,40.9 831.2,42.9 832.2,44.9 834.6,46.9 836.1,48.9 835.9,50.8 835.3,52.8 833.8,54.8 833.8,56.8 836.9,58.8 838.1,60.8 836.9,62.8 840,64.8 842.1,66.8 842.7,68.8 841.1,70.8 840.8,72.7 842.2,74.7 844.5,76.7 845.5,78.7 845.2,80.7 845.8,82.7 846,84.7 846.8,86.7 847.1,88.7 848,90.7 848.9,92.6 849.3,94.6 849.7,96.6 850.1,98.6 851.1,100.6 852.1,102.6 853.1,104.6 854,106.6 854.7,108.6 856.1,110.6 857.1,112.6 856.1,114.5 855.5,116.5 857.8,118.5 862.7,120.5 865.3,122.5 867.9,124.5 870.5,126.5 872.9,128.5 874.9,130.5 875.7,132.5 874.2,134.4 873.4,136.4 871.2,138.4 871,140.4 873.8,142.4 875.1,144.4 874,146.4 874.4,148.4 873.3,150.4 872,152.4 873,154.4 875.2,156.3 875.1,158.3 875.1,160.3 875.1,162.3 875.1,164.3 875,166.3 873.3,168.3 874.5,170.3 875.1,172.3 875.1,174.3 875.1,176.2 875.1,178.2 875.1,180.2 875.1,182.2 875.1,184.2 875.1,186.2 873.9,188.2 873.8,190.2 874.7,192.2 874.5,194.2 874.3,196.2 874.1,198.1 873.9,200.1 873.6,202.1 873.5,204.1 873.3,206.1 872.3,208.1 872,210.1 873,212.1 872.9,214.1 872.9,216.1 872.8,218 873.1,220 872.6,222 870.8,224 873,226 874.1,228 874.1,230 874.1,232 872.2,234 873,236 874.1,238 874.1,239.9 874.1,241.9 874.1,243.9 874.1,245.9 874.1,247.9 873,249.9 871.2,251.9 869.1,253.9 867.1,255.9 864.7,257.9 863.9,259.9 863.4,261.8 859.9,263.8 860.4,265.8 860.1,267.8 860.1,269.8 860.1,271.8 860.1,273.8 860.1,275.8 860.1,277.8 860.1,279.8 860.1,281.7 860.1,283.7 860.1,285.7 859.1,287.7 860,289.7 860.1,291.7 860.1,293.7 860.1,295.7 859.1,297.7 860.7,299.7 862.5,301.7 863.7,303.6 864.9,305.6 866.1,307.6 868.5,309.6 870.9,311.6 873.2,313.6 873.8,315.6 877.1,317.6 879.3,319.6 881.4,321.6 881.5,323.5 879.8,325.5 877.7,327.5 876,329.5 873.4,331.5 870.9,333.5 869.8,335.5 868.2,337.5 869.4,339.5 868.2,341.5 868.9,343.5 868.5,345.4 867.7,347.4 865.5,349.4 866.1,351.4 867.5,353.4 867.2,355.4 867.1,357.4 866.6,359.4 865.3,361.4 866.3,363.4 866.3,365.3 866.1,367.3 866.8,369.3 865.9,371.3 865.7,373.3 867.9,375.3 869.8,377.3 867.8,379.3 865.6,381.3 864.9,383.3 862.7,385.3 860.2,387.2 858.8,389.2 856.3,391.2 855.8,393.2 854.2,395.2 853.7,397.2 853.7,399.2 852.8,401.2 851.8,403.2 850.9,405.2 850,407.1 849.5,409.1 847.2,411.1 846.7,413.1 845.8,415.1 845.7,417.1 846.4,419.1 847,421.1 846.5,423.1 846.3,425.1 846.1,427.1 845.7,429 844.8,431 844.4,433 844.5,435 843.8,437 843.5,439 840.3,441 839.5,443 840.9,445 841.5,447 840.7,448.9 837.5,450.9 836.6,452.9 838,454.9 837,456.9 835.4,458.9 835.4,460.9 834.9,462.9 834.1,464.9 832.8,466.9 832.5,468.9 831.3,470.8 833.1,472.8 833.1,474.8 833.3,476.8 833.3,478.8 832.8,480.8 834.3,482.8 833,484.8 830.6,486.8 830.1,488.8 829.4,490.7 829.7,492.7 829.9,494.7 830.2,496.7 827.8,498.7 827.2,500.7 824.5,502.7 821.9,504.7 819.3,506.7 818.6,508.7 819,510.7 817.4,512.6 816.6,514.6 815.8,516.6 814.8,518.6 815,520.6 812.1,522.6 811.1,524.6 810.8,526.6 810.3,528.6 809.9,530.6 809.4,532.5 807.5,534.5 808.4,536.5 808,538.5 807.5,540.5 807,542.5 806.4,544.5 806.1,546.5 805,548.5 804,550.5 802.9,552.5 801.9,554.4 800.4,556.4 799.8,558.4 797.4,560.4 796.6,562.4 796.6,564.4 794.4,566.4 791.7,568.4 792.1,570.4 792.9,572.4 793.3,574.3 792.1,576.3 791.4,578.3 792.4,580.3 791.9,582.3 789.9,584.3 789.5,586.3 790,588.3 789,590.3 786.5,592.3 786.6,594.3 786.6,596.2 783.9,598.2 783,600.2 784.3,602.2 784.8,604.2 784.3,606.2 784.2,608.2 783.9,610.2 782.5,612.2 781.8,614.2 784,616.1 783.5,618.1 783,620.1 782.5,622.1 782,624.1 780.9,626.1 780.9,628.1 779.5,630.1 777.8,632.1 776.2,634.1 776.4,636.1 776.2,638 776.3,640 775.4,642 774.4,644 775.4,646 774.5,648 773.4,650 773.5,652 773.8,654 773.3,656 772.8,658 772.4,659.9 771.4,661.9 769.7,663.9 770.2,665.9 770.5,667.9 769.3,669.9 767.1,671.9 768.3,673.9 768.6,675.9 768.2,677.9 767.7,679.8 767.2,681.8 766.8,683.8 766.3,685.8 766.5,687.8 766.6,689.8 767,691.8 767.2,693.8 767.4,695.8 767.7,697.8 767.1,699.8 766.2,701.7 766.4,703.7 767.9,705.7 767.7,707.7 766.4,709.7 765.8,711.7 764.9,713.7 764,715.7 762.5,717.7 761,719.7 759.6,721.6 758.1,723.6 756.2,725.6 753.4,727.6 753.5,729.6 755.5,731.6 755.2,733.6 754.7,735.6 751.7,737.6 751.3,739.6 752.7,741.6 752.8,743.5 751.6,745.5 749.5,747.5 746.2,749.5 746.6,751.5 749.4,753.5 747.5,755.5 745.3,757.5 747.1,759.5 745.2,761.5 743.3,763.4 743.4,765.4 741.7,767.4 742.1,769.4 741.8,771.4 740.8,773.4 739.6,775.4 737.5,777.4 736.4,779.4 736.6,781.4 735.5,783.4 732.6,785.3 733.3,787.3 731.7,789.3 731.1,791.3 730.7,793.3 729.8,795.3 728.5,797.3 727.9,799.3 727,801.3 726,803.3 725.1,805.2 723.9,807.2 722.6,809.2 722.3,811.2 721.4,813.2 720.1,815.2"/>
<polyline points="834.5,19 833.1,21 834.1,23 834.8,25 834.1,27 834.8,29 834.9,30.9 835,32.9 834.9,34.9 834,36.9 835.3,38.9 835.4,40.9 833.6,42.9 833.7,44.9 835.7,46.9 835.1,48.9 837.8,50.8 840.7,52.8 842.7,54.8 846.4,56.8 850.4,58.8 852.7,60.8 854.8,62.8 858.4,64.8 862.8,66.8 865,68.8 865.9,70.8 867.8,72.7 867.9,74.7 869.6,76.7 870.8,78.7 870.6,80.7 870.6,82.7 871.3,84.7 870.7,86.7 869.9,88.7 870.4,90.7 871.2,92.6 872.4,94.6 872.6,96.6 871.9,98.6 872.3,100.6 873.3,102.6 872.5,104.6 871.8,106.6 874.1,108.6 874.4,110.6 874.6,112.6 874.8,114.5 875.1,116.5 875.4,118.5 875.4,120.5 875.4,122.5 875.2,124.5 873.3,126.5 871.8,128.5 872.3,130.5 873.8,132.5 873.9,134.4 874,136.4 875.1,138.4 874.9,140.4 874.7,142.4 874.2,144.4 874.6,146.4 875.3,148.4 874.1,150.4 875.1,152.4 875,154.4 874.9,156.3 874.8,158.3 874.8,160.3 874.8,162.3 874.5,164.3 874.1,166.3 873.9,168.3 874.1,170.3 874.8,172.3 874.8,174.3 874.1,176.2 874,178.2 873.7,180.2 872.6,182.2 874.2,184.2 874.7,186.2 874.7,188.2 874.3,190.2 873.9,192.2 873.2,194.2 871.9,196.2 872.1,198.1 872.1,200.1 871.3,202.1 871,204.1 871.7,206.1 871.7,208.1 871.6,210.1 872.1,212.1 872.6,214.1 872.3,216.1 872.5,218 872.8,220 872,222 872.5,224 873.5,226 873.4,228 872.7,230 871.8,232 870.1,234 871.1,236 872.5,238 873.1,239.9 872.5,241.9 872.1,243.9 873.7,245.9 873,247.9 872.4,249.9 871.8,251.9 870.7,253.9 867.5,255.9 864.1,257.9 864.6,259.9 863.4,261.8 862.2,263.8 861,265.8 859.4,267.8 859.8,269.8 859.3,271.8 859.7,273.8 858.7,275.8 858.4,277.8 859.8,279.8 859.8,281.7 859.7,283.7 859.8,285.7 859.4,287.7 863.5,289.7 867.3,291.7 870.1,293.7 875,295.7 879.7,297.7 880.8,299.7 881.8,301.7 881.9,303.6 883.3,305.6 883.8,307.6 885.7,309.6 887.4,311.6 891,313.6 893.1,315.6 895.2,317.6 895.2,319.6 894.9,321.6 894.5,323.5 893.4,325.5 891.6,327.5 891.6,329.5 891.5,331.5 890.5,333.5 889.9,335.5 887.3,337.5 888.1,339.5 889.8,341.5 890,343.5 890.1,345.4 890.5,347.4 889.4,349.4 888.2,351.4 887.1,353.4 885.3,355.4 884.4,357.4 882.9,359.4 881,361.4 879.1,363.4 877.2,365.3 875.3,367.3 874.1,369.3 873,371.3 871.4,373.3 869.6,375.3 868.9,377.3 867.9,379.3 866.2,381.3 863.9,383.3 862.9,385.3 861.3,387.2 859.9,389.2 858.5,391.2 856.8,393.2 854.3,395.2 854.3,397.2 853.4,399.2 852.5,401.2 849.8,403.2 849.6,405.2 849.7,407.1 851,409.1 852.3,411.1 853.4,413.1 854.9,415.1 856.3,417.1 855.6,419.1 854.2,421.1 854.2,423.1 855.9,425.1 856.3,427.1 854.1,429 853.4,431 852.8,433 851.3,435 851.5,437 849.5,439 846.2,441 844.7,443 843.5,445 841.2,447 839.3,448.9 838,450.9 838.7,452.9 837.9,454.9 836.8,456.9 836,458.9 834.9,460.9 834.3,462.9 833.4,464.9 833,466.9 833.1,468.9 831.9,470.8 831.1,472.8 831.8,474.8 833.2,476.8 833,478.8 833.3,480.8 833.5,482.8 832.9,484.8 832.8,486.8 833.5,488.8 832.8,490.7 831.8,492.7 831.3,494.7 830.7,496.7 828.8,498.7 826.9,500.7 825.1,502.7 823.2,504.7 820.9,506.7 820.3,508.7 819.9,510.7 819.2,512.6 818.5,514.6 817.8,516.6 816.3,518.6 814.9,520.6 813.4,522.6 811.7,524.6 810.5,526.6 809.6,528.6 808.1,530.6 807,532.5 808.6,534.5 808.1,536.5 806.1,538.5 807,540.5 806.2,542.5 803.9,544.5 804.2,546.5 804.7,548.5 803.7,550.5 802.6,552.5 801.1,554.4 799.4,556.4 797.7,558.4 796.5,560.4 796.4,562.4 796.3,564.4 795.3,566.4 794.8,568.4 794.2,570.4 793.9,572.4 793.5,574.3 793,576.3 792.5,578.3 791.1,580.3 790.5,582.3 791.2,584.3 789.7,586.3 788.3,588.3 788.4,590.3 788.8,592.3 787.7,594.3 787.1,596.2 786.2,598.2 784.5,600.2 785.5,602.2 786.4,604.2 784.3,606.2 784.5,608.2 785.1,610.2 783.5,612.2 782.8,614.2 783.1,616.1 782.7,618.1 781.7,620.1 780.6,622.1 779.8,624.1 780.1,626.1 780.6,628.1 779.7,630.1 778,632.1 777.4,634.1 777.5,636.1 776.8,638 774.6,640 773.7,642 773.7,644 774.2,646 774.1,648 772.5,650 772.7,652 773.4,654 772.8,656 772,658 771.7,659.9 771.5,661.9 771.1,663.9 770.7,665.9 770.2,667.9 769.1,669.9 768.9,671.9 767.7,673.9 767.3,675.9 767.9,677.9 767.3,679.8 765.9,681.8 764.9,683.8 764.7,685.8 764.8,687.8 765.4,689.8 765.2,691.8 765.5,693.8 767.1,695.8 767.1,697.8 766.5,699.8 766.8,701.7 767.3,703.7 767.5,705.7 765.6,707.7 765.4,709.7 765.4,711.7 764.5,713.7 762.9,715.7 761.6,717.7 760.7,719.7 758.5,721.6 756.5,723.6 756.3,725.6 755.9,727.6 755.6,729.6 755,731.6 754.9,733.6 754.5,735.6 754.2,737.6 753.8,739.6 753.5,741.6 752.3,743.5 751.2,745.5 752,747.5 751.2,749.5 748.7,751.5 747.8,753.5 748,755.5 747.9,757.5 747.1,759.5 746.2,761.5 745.5,763.4 744.6,765.4 742.1,767.4 740.9,769.4 740.6,771.4 740,773.4 739.4,775.4 738.4,777.4 737,779.4 735.9,781.4 734.4,783.4 734.2,785.3 733.3,787.3 731.7,789.3 731.4,791.3 730.3,793.3 728.1,795.3 727.9,797.3 727.6,799.3 726.7,801.3 725.7,803.3 723.8,805.2 722.7,807.2 721.1,809.2 719.5,811.2 719.5,813.2 718.7,815.2"/>
</g>
<polyline points="822.2,29 824.3,48.9 834.4,68.8 841.4,88.7 851.4,108.6 853.7,128.5 862.4,148.4 866.3,168.3 864.8,188.2 863.6,208.1 862.6,228 856.3,247.9 849.5,267.8 848.4,287.7 857.5,307.6 867.3,327.5 854.2,347.4 850.1,367.3 846.6,387.2 838.4,407.1 839.3,427.1 832.9,447 824.1,466.9 818.9,486.8 807.2,506.7 800.4,526.6 795.2,546.5 789.4,566.4 784.3,586.3 780.4,606.2 775.2,626.1 769.6,646 764.3,665.9 758.5,685.8 751.3,705.7 744.5,725.6 734.6,745.5 724.3,765.4 713.6,785.3 703.7,805.2" fill="none" stroke="#0000ff" stroke-width="2.9" stroke-linejoin="round" stroke-linecap="butt"/>
<g fill="#0000ff"><circle cx="822.2" cy="29" r="5.5"/><circle cx="824.3" cy="48.9" r="5.5"/><circle cx="834.4" cy="68.8" r="5.5"/><circle cx="841.4" cy="88.7" r="5.5"/><circle cx="851.4" cy="108.6" r="5.5"/><circle cx="853.7" cy="128.5" r="5.5"/><circle cx="862.4" cy="148.4" r="5.5"/><circle cx="866.3" cy="168.3" r="5.5"/><circle cx="864.8" cy="188.2" r="5.5"/><circle cx="863.6" cy="208.1" r="5.5"/><circle cx="862.6" cy="228" r="5.5"/><circle cx="856.3" cy="247.9" r="5.5"/><circle cx="849.5" cy="267.8" r="5.5"/><circle cx="848.4" cy="287.7" r="5.5"/><circle cx="857.5" cy="307.6" r="5.5"/><circle cx="867.3" cy="327.5" r="5.5"/><circle cx="854.2" cy="347.4" r="5.5"/><circle cx="850.1" cy="367.3" r="5.5"/><circle cx="846.6" cy="387.2" r="5.5"/><circle cx="838.4" cy="407.1" r="5.5"/><circle cx="839.3" cy="427.1" r="5.5"/><circle cx="832.9" cy="447" r="5.5"/><circle cx="824.1" cy="466.9" r="5.5"/><circle cx="818.9" cy="486.8" r="5.5"/><circle cx="807.2" cy="506.7" r="5.5"/><circle cx="800.4" cy="526.6" r="5.5"/><circle cx="795.2" cy="546.5" r="5.5"/><circle cx="789.4" cy="566.4" r="5.5"/><circle cx="784.3" cy="586.3" r="5.5"/><circle cx="780.4" cy="606.2" r="5.5"/><circle cx="775.2" cy="626.1" r="5.5"/><circle cx="769.6" cy="646" r="5.5"/><circle cx="764.3" cy="665.9" r="5.5"/><circle cx="758.5" cy="685.8" r="5.5"/><circle cx="751.3" cy="705.7" r="5.5"/><circle cx="744.5" cy="725.6" r="5.5"/><circle cx="734.6" cy="745.5" r="5.5"/><circle cx="724.3" cy="765.4" r="5.5"/><circle cx="713.6" cy="785.3" r="5.5"/><circle cx="703.7" cy="805.2" r="5.5"/></g>
<polyline points="792.4,19 792.4,23 792.4,27 792.4,30.9 792.4,34.9 792.4,38.9 792.4,42.9 792.4,48.9 792.4,58.8 792.4,68.8 792.4,78.7 792.4,88.7 792.4,98.6 792.4,108.6 792.4,118.5 791.6,138.4 791.6,158.3 791.8,178.2 788.3,198.1 784.5,218 766.4,267.8 760.3,317.6 745.3,417.1 731.3,516.6 720.5,616.1 708.2,715.7 666.9,815.2" fill="none" stroke="#ff0000" stroke-width="9.7" stroke-linejoin="round" stroke-linecap="butt"/>
<g fill="#ff0000"><circle cx="792.4" cy="19" r="5.85"/><circle cx="792.4" cy="23" r="5.85"/><circle cx="792.4" cy="27" r="5.85"/><circle cx="792.4" cy="30.9" r="5.85"/><circle cx="792.4" cy="34.9" r="5.85"/><circle cx="792.4" cy="38.9" r="5.85"/><circle cx="792.4" cy="42.9" r="5.85"/><circle cx="792.4" cy="48.9" r="5.85"/><circle cx="792.4" cy="58.8" r="5.85"/><circle cx="792.4" cy="68.8" r="5.85"/><circle cx="792.4" cy="78.7" r="5.85"/><circle cx="792.4" cy="88.7" r="5.85"/><circle cx="792.4" cy="98.6" r="5.85"/><circle cx="792.4" cy="108.6" r="5.85"/><circle cx="792.4" cy="118.5" r="5.85"/><circle cx="791.6" cy="138.4" r="5.85"/><circle cx="791.6" cy="158.3" r="5.85"/><circle cx="791.8" cy="178.2" r="5.85"/><circle cx="788.3" cy="198.1" r="5.85"/><circle cx="784.5" cy="218" r="5.85"/><circle cx="766.4" cy="267.8" r="5.85"/><circle cx="760.3" cy="317.6" r="5.85"/><circle cx="745.3" cy="417.1" r="5.85"/><circle cx="731.3" cy="516.6" r="5.85"/><circle cx="720.5" cy="616.1" r="5.85"/><circle cx="708.2" cy="715.7" r="5.85"/><circle cx="666.9" cy="815.2" r="5.85"/></g>
<polyline points="772.6,19 772.6,23 772.6,27 772.6,30.9 772.6,34.9 772.6,38.9 772.6,42.9 772.6,48.9 771.7,58.8 771.4,68.8 771.4,78.7 771.4,88.7 771.4,98.6 771.4,108.6 771.4,118.5 772.6,138.4 777.5,158.3 785.4,178.2 791.6,198.1 798.5,218 813.6,267.8 814.5,317.6 801.4,417.1 779.4,516.6 756.3,616.1 721.5,715.7 687.6,815.2" fill="none" stroke="#b07818" stroke-width="4.0" stroke-linejoin="round" stroke-linecap="butt"/>
<polyline points="772.6,19 772.6,23 772.6,27 772.6,30.9 772.6,34.9 772.6,38.9 772.6,42.9 772.6,48.9 771.7,58.8 771.4,68.8 771.4,78.7 771.4,88.7 771.4,98.6 771.4,108.6 771.4,118.5 772.6,138.4 777.5,158.3 785.4,178.2 791.6,198.1 798.5,218 813.6,267.8 814.5,317.6 801.4,417.1 779.4,516.6 756.3,616.1 721.5,715.7 687.6,815.2" fill="none" stroke="#ffa500" stroke-width="2.9" stroke-linejoin="round" stroke-linecap="butt"/>
<g fill="#ffa500" stroke="#b07818" stroke-width="0.7"><circle cx="772.6" cy="19" r="5.3"/><circle cx="772.6" cy="23" r="5.3"/><circle cx="772.6" cy="27" r="5.3"/><circle cx="772.6" cy="30.9" r="5.3"/><circle cx="772.6" cy="34.9" r="5.3"/><circle cx="772.6" cy="38.9" r="5.3"/><circle cx="772.6" cy="42.9" r="5.3"/><circle cx="772.6" cy="48.9" r="5.3"/><circle cx="771.7" cy="58.8" r="5.3"/><circle cx="771.4" cy="68.8" r="5.3"/><circle cx="771.4" cy="78.7" r="5.3"/><circle cx="771.4" cy="88.7" r="5.3"/><circle cx="771.4" cy="98.6" r="5.3"/><circle cx="771.4" cy="108.6" r="5.3"/><circle cx="771.4" cy="118.5" r="5.3"/><circle cx="772.6" cy="138.4" r="5.3"/><circle cx="777.5" cy="158.3" r="5.3"/><circle cx="785.4" cy="178.2" r="5.3"/><circle cx="791.6" cy="198.1" r="5.3"/><circle cx="798.5" cy="218" r="5.3"/><circle cx="813.6" cy="267.8" r="5.3"/><circle cx="814.5" cy="317.6" r="5.3"/><circle cx="801.4" cy="417.1" r="5.3"/><circle cx="779.4" cy="516.6" r="5.3"/><circle cx="756.3" cy="616.1" r="5.3"/><circle cx="721.5" cy="715.7" r="5.3"/><circle cx="687.6" cy="815.2" r="5.3"/></g>
<polyline points="815.8,19 815.8,23 815.8,27 815.8,30.9 815.8,34.9 815.8,38.9 815.8,42.9 816.9,48.9 818.3,58.8 821.6,68.8 828.6,78.7 832.5,88.7 835.6,98.6 837.9,108.6 839.4,118.5 844.4,138.4 845.5,158.3 847.9,178.2 849,198.1 847.4,218 842.5,267.8 841.4,317.6 838.3,417.1 817.2,516.6 788.5,616.1 764.3,715.7 742.5,815.2" fill="none" stroke="#008000" stroke-width="2.9" stroke-linejoin="round" stroke-linecap="butt"/>
<g fill="#008000"><circle cx="815.8" cy="19" r="5.5"/><circle cx="815.8" cy="23" r="5.5"/><circle cx="815.8" cy="27" r="5.5"/><circle cx="815.8" cy="30.9" r="5.5"/><circle cx="815.8" cy="34.9" r="5.5"/><circle cx="815.8" cy="38.9" r="5.5"/><circle cx="815.8" cy="42.9" r="5.5"/><circle cx="816.9" cy="48.9" r="5.5"/><circle cx="818.3" cy="58.8" r="5.5"/><circle cx="821.6" cy="68.8" r="5.5"/><circle cx="828.6" cy="78.7" r="5.5"/><circle cx="832.5" cy="88.7" r="5.5"/><circle cx="835.6" cy="98.6" r="5.5"/><circle cx="837.9" cy="108.6" r="5.5"/><circle cx="839.4" cy="118.5" r="5.5"/><circle cx="844.4" cy="138.4" r="5.5"/><circle cx="845.5" cy="158.3" r="5.5"/><circle cx="847.9" cy="178.2" r="5.5"/><circle cx="849" cy="198.1" r="5.5"/><circle cx="847.4" cy="218" r="5.5"/><circle cx="842.5" cy="267.8" r="5.5"/><circle cx="841.4" cy="317.6" r="5.5"/><circle cx="838.3" cy="417.1" r="5.5"/><circle cx="817.2" cy="516.6" r="5.5"/><circle cx="788.5" cy="616.1" r="5.5"/><circle cx="764.3" cy="715.7" r="5.5"/><circle cx="742.5" cy="815.2" r="5.5"/></g>
<polyline points="850.8,20 848.5,22.1 846.7,24.3 846.7,26.6 846.7,29.1 846.7,31.8 846.7,34.8 846.7,38 846.7,41.7 846.7,45.8 846.7,50.5 846.7,55.8 846.7,62 846.7,69.2 846.7,77.6 846.7,87.5 845.5,99.3 844.4,113.3 844.4,130 845.5,150 852.5,174 860.5,202.8 864.5,237.4 864.5,279.1 853.6,329.2 840.5,389.5 824.5,461.8 803.4,548.6 785.5,652.2 760.5,775.8" fill="none" stroke="#ff00ff" stroke-width="2.9" stroke-linejoin="round" stroke-linecap="butt"/>
<g fill="#ff00ff"><circle cx="850.8" cy="20" r="5.5"/><circle cx="848.5" cy="22.1" r="5.5"/><circle cx="846.7" cy="24.3" r="5.5"/><circle cx="846.7" cy="26.6" r="5.5"/><circle cx="846.7" cy="29.1" r="5.5"/><circle cx="846.7" cy="31.8" r="5.5"/><circle cx="846.7" cy="34.8" r="5.5"/><circle cx="846.7" cy="38" r="5.5"/><circle cx="846.7" cy="41.7" r="5.5"/><circle cx="846.7" cy="45.8" r="5.5"/><circle cx="846.7" cy="50.5" r="5.5"/><circle cx="846.7" cy="55.8" r="5.5"/><circle cx="846.7" cy="62" r="5.5"/><circle cx="846.7" cy="69.2" r="5.5"/><circle cx="846.7" cy="77.6" r="5.5"/><circle cx="846.7" cy="87.5" r="5.5"/><circle cx="845.5" cy="99.3" r="5.5"/><circle cx="844.4" cy="113.3" r="5.5"/><circle cx="844.4" cy="130" r="5.5"/><circle cx="845.5" cy="150" r="5.5"/><circle cx="852.5" cy="174" r="5.5"/><circle cx="860.5" cy="202.8" r="5.5"/><circle cx="864.5" cy="237.4" r="5.5"/><circle cx="864.5" cy="279.1" r="5.5"/><circle cx="853.6" cy="329.2" r="5.5"/><circle cx="840.5" cy="389.5" r="5.5"/><circle cx="824.5" cy="461.8" r="5.5"/><circle cx="803.4" cy="548.6" r="5.5"/><circle cx="785.5" cy="652.2" r="5.5"/><circle cx="760.5" cy="775.8" r="5.5"/></g>
</g>
<rect x="580.5" y="19.5" width="402" height="795" fill="none" stroke="#000" stroke-width="1.25"/>
<path d="M580.5 19.5h-5.8M580.5 68.5h-5.8M580.5 118.5h-5.8M580.5 168.5h-5.8M580.5 218.5h-5.8M580.5 267.5h-5.8M580.5 317.5h-5.8M580.5 367.5h-5.8M580.5 417.5h-5.8M580.5 466.5h-5.8M580.5 516.5h-5.8M580.5 566.5h-5.8M580.5 616.5h-5.8M580.5 665.5h-5.8M580.5 715.5h-5.8M580.5 765.5h-5.8M625.5 814.5v5.8M694.5 814.5v5.8M763.5 814.5v5.8M832.5 814.5v5.8M901.5 814.5v5.8M970.5 814.5v5.8" stroke="#000" stroke-width="1.15" fill="none"/>
<g font-size="16.67" text-anchor="middle">
<text x="625.5" y="842.2">36.2</text>
<text x="694.5" y="842.2">36.4</text>
<text x="763.5" y="842.2">36.6</text>
<text x="832.5" y="842.2">36.8</text>
<text x="901.5" y="842.2">37.0</text>
<text x="970.5" y="842.2">37.2</text>
</g>
<path d="M1072.5 68.5H1474.5M1072.5 118.5H1474.5M1072.5 168.5H1474.5M1072.5 218.5H1474.5M1072.5 267.5H1474.5M1072.5 317.5H1474.5M1072.5 367.5H1474.5M1072.5 417.5H1474.5M1072.5 466.5H1474.5M1072.5 516.5H1474.5M1072.5 566.5H1474.5M1072.5 616.5H1474.5M1072.5 665.5H1474.5M1072.5 715.5H1474.5M1072.5 765.5H1474.5M1151.5 814.5V19.5M1236.5 814.5V19.5M1321.5 814.5V19.5M1405.5 814.5V19.5" stroke="#b0b0b0" stroke-width="0.9" stroke-dasharray="3.0 1.75" fill="none"/>
<g clip-path="url(#c2)">
<g fill="none" stroke="#00ffff" stroke-width="5.5" stroke-linejoin="round" stroke-linecap="round">
<polygon points="1115,19 1115.2,21 1116.7,23 1117.4,25 1117.3,27 1117.7,29 1117.6,30.9 1115.9,32.9 1116.3,34.9 1116.8,36.9 1117.3,38.9 1119.4,40.9 1119.1,42.9 1119.2,44.9 1120.1,46.9 1120.8,48.9 1124,50.8 1125.3,52.8 1124.9,54.8 1124.4,56.8 1125.9,58.8 1125.6,60.8 1125.6,62.8 1126.6,64.8 1130,66.8 1129.2,68.8 1129.2,70.8 1131,72.7 1131.1,74.7 1131.5,76.7 1132.3,78.7 1133.2,80.7 1134,82.7 1135.4,84.7 1136.2,86.7 1136.8,88.7 1137.6,90.7 1141,92.6 1141.4,94.6 1139.9,96.6 1140.7,98.6 1142.2,100.6 1142.5,102.6 1143.5,104.6 1144.4,106.6 1147.1,108.6 1146.6,110.6 1146.3,112.6 1147,114.5 1148.7,116.5 1149.4,118.5 1149.3,120.5 1150.9,122.5 1152.2,124.5 1152.9,126.5 1153.4,128.5 1154.8,130.5 1155.4,132.5 1154.4,134.4 1155.1,136.4 1156.5,138.4 1157.9,140.4 1158.6,142.4 1158.9,144.4 1160,146.4 1161.5,148.4 1165.5,150.4 1165.9,152.4 1166.6,154.4 1169.4,156.3 1170.8,158.3 1172.4,160.3 1174,162.3 1177.1,164.3 1178.2,166.3 1178.9,168.3 1180.1,170.3 1181.2,172.3 1182.4,174.3 1183.6,176.2 1184.8,178.2 1186.7,180.2 1187.4,182.2 1189.1,184.2 1189.9,186.2 1191.3,188.2 1192.5,190.2 1193.9,192.2 1194.9,194.2 1193.4,196.2 1194.1,198.1 1196.6,200.1 1197.7,202.1 1198,204.1 1196.9,206.1 1197.6,208.1 1198.3,210.1 1201.5,212.1 1203.3,214.1 1201.6,216.1 1203.8,218 1204.8,220 1204.3,222 1203.8,224 1205.4,226 1207.1,228 1205.3,230 1205.6,232 1206.5,234 1207.5,236 1208.4,238 1209.5,239.9 1210.4,241.9 1211.5,243.9 1212.3,245.9 1213.1,247.9 1215.1,249.9 1215.3,251.9 1215.9,253.9 1216.8,255.9 1217.8,257.9 1218.7,259.9 1220.6,261.8 1222.4,263.8 1223,265.8 1223.9,267.8 1223.1,269.8 1224,271.8 1225.6,273.8 1225.2,275.8 1226,277.8 1229.3,279.8 1230,281.7 1229.9,283.7 1232,285.7 1230,287.7 1231.5,289.7 1233.1,291.7 1234.5,293.7 1236.4,295.7 1236.9,297.7 1240.2,299.7 1242,301.7 1239.7,303.6 1241,305.6 1242.3,307.6 1244.1,309.6 1247.2,311.6 1248.4,313.6 1249.2,315.6 1250.7,317.6 1251,319.6 1251.1,321.6 1252.4,323.5 1254.4,325.5 1255.6,327.5 1256,329.5 1257,331.5 1259,333.5 1260.7,335.5 1260.2,337.5 1261.2,339.5 1262.2,341.5 1263.3,343.5 1265.2,345.4 1266.1,347.4 1266.3,349.4 1267.2,351.4 1268,353.4 1268.9,355.4 1269.8,357.4 1270.7,359.4 1271.6,361.4 1273.3,363.4 1273.3,365.3 1274.6,367.3 1277.2,369.3 1277.8,371.3 1278.3,373.3 1281.6,375.3 1282.9,377.3 1284,379.3 1284.2,381.3 1284.6,383.3 1285.9,385.3 1288.5,387.2 1289.1,389.2 1289.4,391.2 1290.3,393.2 1290.7,395.2 1289.5,397.2 1290.1,399.2 1293.3,401.2 1295.1,403.2 1295.7,405.2 1294.5,407.1 1295,409.1 1295.9,411.1 1296.9,413.1 1297.9,415.1 1298.8,417.1 1299.8,419.1 1300.8,421.1 1301.8,423.1 1302.7,425.1 1304.7,427.1 1304.6,429 1305.1,431 1306.1,433 1307.6,435 1308.1,437 1308.9,439 1308.6,441 1310.3,443 1312.9,445 1311,447 1311.4,448.9 1314.4,450.9 1315.5,452.9 1313.5,454.9 1314.2,456.9 1315.5,458.9 1316.1,460.9 1316.5,462.9 1317,464.9 1317.7,466.9 1319.1,468.9 1320.6,470.8 1322.1,472.8 1323.4,474.8 1325.9,476.8 1326.3,478.8 1327.9,480.8 1326.1,482.8 1327.1,484.8 1331.5,486.8 1331.3,488.8 1330.2,490.7 1330,492.7 1329.7,494.7 1330.6,496.7 1330.9,498.7 1331.6,500.7 1332.2,502.7 1332.9,504.7 1335.1,506.7 1338,508.7 1337.4,510.7 1338,512.6 1338.9,514.6 1337.5,516.6 1338.1,518.6 1339,520.6 1340.4,522.6 1341.8,524.6 1342.5,526.6 1342.2,528.6 1344.3,530.6 1345,532.5 1345.3,534.5 1346.3,536.5 1347.8,538.5 1348.1,540.5 1348.4,542.5 1348.8,544.5 1349.7,546.5 1350,548.5 1351.2,550.5 1351.7,552.5 1352.4,554.4 1352.3,556.4 1353.9,558.4 1353.1,560.4 1352.9,562.4 1353.9,564.4 1353.6,566.4 1353.9,568.4 1354.5,570.4 1358.2,572.4 1357.6,574.3 1356.8,576.3 1357.4,578.3 1358.6,580.3 1359.9,582.3 1360.5,584.3 1360.4,586.3 1359.8,588.3 1360.4,590.3 1361.5,592.3 1363.7,594.3 1364.1,596.2 1363.5,598.2 1365.1,600.2 1366.8,602.2 1366.1,604.2 1366.2,606.2 1367.2,608.2 1366.6,610.2 1367.4,612.2 1368.2,614.2 1369,616.1 1369.4,618.1 1369.9,620.1 1370.4,622.1 1370.9,624.1 1372.2,626.1 1373.7,628.1 1374.2,630.1 1375.4,632.1 1374.1,634.1 1374.1,636.1 1374.6,638 1375.6,640 1376,642 1376.3,644 1376.7,646 1378.6,648 1378.3,650 1378.9,652 1380.3,654 1381.5,656 1382,658 1381.6,659.9 1381.3,661.9 1382.3,663.9 1382.7,665.9 1383.9,667.9 1383.9,669.9 1385.4,671.9 1385.8,673.9 1385.2,675.9 1386.9,677.9 1388.8,679.8 1388,681.8 1389.9,683.8 1391.4,685.8 1391.1,687.8 1390.7,689.8 1390.9,691.8 1392.8,693.8 1392.5,695.8 1392.3,697.8 1392.7,699.8 1395.2,701.7 1395.5,703.7 1395.8,705.7 1396.1,707.7 1395,709.7 1394.4,711.7 1393.8,713.7 1394.2,715.7 1394.5,717.7 1394.9,719.7 1395.7,721.6 1395.6,723.6 1395.9,725.6 1396.4,727.6 1397,729.6 1397.6,731.6 1398.1,733.6 1399.4,735.6 1400.3,737.6 1401.6,739.6 1403.6,741.6 1401.9,743.5 1402.2,745.5 1402.5,747.5 1404.4,749.5 1405.2,751.5 1405.1,753.5 1405.7,755.5 1406.5,757.5 1405.8,759.5 1406.3,761.5 1407.8,763.4 1407.9,765.4 1407.8,767.4 1409.8,769.4 1410.1,771.4 1409.7,773.4 1410.5,775.4 1410,777.4 1409.7,779.4 1410.2,781.4 1410.8,783.4 1411.4,785.3 1412.2,787.3 1412.3,789.3 1412.8,791.3 1413.3,793.3 1414.3,795.3 1414.2,797.3 1414.7,799.3 1416.7,801.3 1417.5,803.3 1417.4,805.2 1417.5,807.2 1418.6,809.2 1418.8,811.2 1420.6,813.2 1421.6,815.2 1429.6,815.2 1429.6,813.2 1429.5,811.2 1427.6,809.2 1428.8,807.2 1428.3,805.2 1426.6,803.3 1425.8,801.3 1425.6,799.3 1425.9,797.3 1425.7,795.3 1423.8,793.3 1421.3,791.3 1420.3,789.3 1421.7,787.3 1421.6,785.3 1420.4,783.4 1420.1,781.4 1420.1,779.4 1420,777.4 1420.7,775.4 1419.7,773.4 1417.9,771.4 1416,769.4 1414.1,767.4 1414.5,765.4 1413,763.4 1412,761.5 1411.8,759.5 1413.2,757.5 1412.6,755.5 1412,753.5 1409.4,751.5 1407.1,749.5 1410,747.5 1408.9,745.5 1406.5,743.5 1406.4,741.6 1406.6,739.6 1405.8,737.6 1404.3,735.6 1404.5,733.6 1405.2,731.6 1404.7,729.6 1404.6,727.6 1403,725.6 1403.5,723.6 1403.4,721.6 1403,719.7 1402.7,717.7 1402.3,715.7 1402,713.7 1401.6,711.7 1400.7,709.7 1400.9,707.7 1400.6,705.7 1400.1,703.7 1399.7,701.7 1399.2,699.8 1398.8,697.8 1398.3,695.8 1397.4,693.8 1397.4,691.8 1396.9,689.8 1396.5,687.8 1395.9,685.8 1395.5,683.8 1394.9,681.8 1394.4,679.8 1393.9,677.9 1393,675.9 1391.7,673.9 1391.9,671.9 1391.3,669.9 1391.2,667.9 1389.6,665.9 1388.7,663.9 1387.4,661.9 1386.1,659.9 1387.4,658 1387.1,656 1386.1,654 1385.7,652 1385.2,650 1385.4,648 1384.2,646 1383.9,644 1383.2,642 1382.3,640 1382.8,638 1382.2,636.1 1379.6,634.1 1379.9,632.1 1379.1,630.1 1379,628.1 1377.9,626.1 1378,624.1 1378.6,622.1 1378.1,620.1 1377.6,618.1 1377.1,616.1 1375.5,614.2 1376.8,612.2 1376.6,610.2 1376.4,608.2 1375.8,606.2 1375.6,604.2 1375,602.2 1374.5,600.2 1373.6,598.2 1373.3,596.2 1372.7,594.3 1372.1,592.3 1371.5,590.3 1369.7,588.3 1369.6,586.3 1369.8,584.3 1369.2,582.3 1367.6,580.3 1368,578.3 1367.4,576.3 1366.8,574.3 1364.7,572.4 1365.5,570.4 1365.1,568.4 1362.4,566.4 1361.3,564.4 1362.9,562.4 1362.6,560.4 1361.9,558.4 1360.8,556.4 1359.9,554.4 1359.9,552.5 1359.4,550.5 1357.9,548.5 1358.1,546.5 1357.5,544.5 1356.9,542.5 1356.4,540.5 1355.8,538.5 1354.5,536.5 1354.3,534.5 1354,532.5 1353.1,530.6 1352,528.6 1350.6,526.6 1348.4,524.6 1350.4,522.6 1347.8,520.6 1346.9,518.6 1348.1,516.6 1347.7,514.6 1346.6,512.6 1344.1,510.7 1342.4,508.7 1344.5,506.7 1343.5,504.7 1341.9,502.7 1342.4,500.7 1342.1,498.7 1340.5,496.7 1339,494.7 1339.1,492.7 1338.5,490.7 1337.9,488.8 1338.1,486.8 1335.3,484.8 1333.5,482.8 1331.1,480.8 1330.8,478.8 1332.5,476.8 1331.4,474.8 1329.3,472.8 1329.7,470.8 1329.8,468.9 1328.9,466.9 1328.2,464.9 1327.5,462.9 1326.7,460.9 1326.1,458.9 1325.4,456.9 1322.7,454.9 1323,452.9 1323.3,450.9 1322.6,448.9 1321.9,447 1320.7,445 1318,443 1316.6,441 1316.4,439 1316.7,437 1316.7,435 1315.3,433 1316.3,431 1314.8,429 1311.7,427.1 1310.9,425.1 1309.8,423.1 1308.5,421.1 1309.7,419.1 1310,417.1 1308,415.1 1306.4,413.1 1307.1,411.1 1305.6,409.1 1302.6,407.1 1301.5,405.2 1301.8,403.2 1302.2,401.2 1301.2,399.2 1300.2,397.2 1298.6,395.2 1298.3,393.2 1297.3,391.2 1296.3,389.2 1295,387.2 1294.3,385.3 1293.3,383.3 1292.3,381.3 1291.3,379.3 1290.3,377.3 1289.4,375.3 1286.5,373.3 1286.5,371.3 1286.4,369.3 1285.4,367.3 1284.5,365.3 1283.2,363.4 1282.7,361.4 1281.6,359.4 1279.8,357.4 1279,355.4 1278.6,353.4 1278.1,351.4 1276.3,349.4 1275.5,347.4 1274.9,345.4 1272.1,343.5 1273,341.5 1272.4,339.5 1270.7,337.5 1269.6,335.5 1268.6,333.5 1266.5,331.5 1263.8,329.5 1264.9,327.5 1264.8,325.5 1263.2,323.5 1259.3,321.6 1261.1,319.6 1259.8,317.6 1256.9,315.6 1256.2,313.6 1255.4,311.6 1252.3,309.6 1252.1,307.6 1252.2,305.6 1250.9,303.6 1248.5,301.7 1248,299.7 1245.2,297.7 1245.8,295.7 1244.5,293.7 1243.2,291.7 1240.8,289.7 1239,287.7 1239.9,285.7 1239.2,283.7 1238.5,281.7 1237.8,279.8 1237.1,277.8 1232.6,275.8 1231.4,273.8 1233.1,271.8 1232.3,269.8 1232.3,267.8 1230.9,265.8 1230.1,263.8 1229.5,261.8 1228.4,259.9 1228.9,257.9 1228,255.9 1224.8,253.9 1226.2,251.9 1225.2,249.9 1224.3,247.9 1223.4,245.9 1222.4,243.9 1220.8,241.9 1218.2,239.9 1216.9,238 1217.8,236 1217.7,234 1216.8,232 1215.8,230 1214.9,228 1213.8,226 1211.5,224 1211.2,222 1210.8,220 1209,218 1207.9,216.1 1208.7,214.1 1209.1,212.1 1207.5,210.1 1203.8,208.1 1205.8,206.1 1205.5,204.1 1204.4,202.1 1204.2,200.1 1202,198.1 1200.2,196.2 1197.4,194.2 1198.4,192.2 1199.7,190.2 1196.8,188.2 1195.4,186.2 1197.6,184.2 1198.3,182.2 1197.8,180.2 1197.8,178.2 1197.5,176.2 1197.1,174.3 1196.8,172.3 1196.4,170.3 1196.1,168.3 1195.6,166.3 1194.9,164.3 1193.8,162.3 1191.8,160.3 1192,158.3 1193,156.3 1192.6,154.4 1192.4,152.4 1192,150.4 1191.5,148.4 1190.6,146.4 1189.6,144.4 1188.7,142.4 1187.7,140.4 1186.8,138.4 1185.4,136.4 1181.6,134.4 1180.5,132.5 1180.1,130.5 1177.4,128.5 1175.2,126.5 1172,124.5 1167.6,122.5 1164.6,120.5 1164.3,118.5 1162.9,116.5 1162.1,114.5 1163.1,112.6 1162.1,110.6 1161.1,108.6 1160.2,106.6 1159.3,104.6 1157.9,102.6 1156.8,100.6 1156.2,98.6 1155.6,96.6 1153.1,94.6 1151.1,92.6 1149.3,90.7 1148.8,88.7 1147.6,86.7 1147.9,84.7 1147.8,82.7 1146.1,80.7 1146.2,78.7 1144.5,76.7 1144,74.7 1143.1,72.7 1143.1,70.8 1143,68.8 1141,66.8 1138.6,64.8 1139.1,62.8 1137.5,60.8 1136.7,58.8 1137.3,56.8 1136.6,54.8 1135.8,52.8 1135.1,50.8 1134.1,48.9 1133.5,46.9 1132.2,44.9 1132.3,42.9 1131.7,40.9 1131.1,38.9 1130.5,36.9 1129.9,34.9 1129.3,32.9 1128.7,30.9 1128.1,29 1127,27 1127.3,25 1126.9,23 1126.5,21 1126.1,19" fill="#00ffff" stroke="none"/>
<polyline points="1115,19 1115.2,21 1116.7,23 1117.4,25 1117.3,27 1117.7,29 1117.6,30.9 1115.9,32.9 1116.3,34.9 1116.8,36.9 1117.3,38.9 1119.4,40.9 1119.1,42.9 1119.2,44.9 1120.1,46.9 1120.8,48.9 1124,50.8 1125.3,52.8 1124.9,54.8 1124.4,56.8 1125.9,58.8 1125.6,60.8 1125.6,62.8 1126.6,64.8 1130,66.8 1129.2,68.8 1129.2,70.8 1131,72.7 1131.1,74.7 1131.5,76.7 1132.3,78.7 1133.2,80.7 1134,82.7 1135.4,84.7 1136.2,86.7 1136.8,88.7 1137.6,90.7 1141,92.6 1141.4,94.6 1139.9,96.6 1140.7,98.6 1142.2,100.6 1142.5,102.6 1143.5,104.6 1144.4,106.6 1147.1,108.6 1146.6,110.6 1146.3,112.6 1147,114.5 1148.7,116.5 1149.4,118.5 1149.3,120.5 1150.9,122.5 1152.2,124.5 1152.9,126.5 1153.4,128.5 1154.8,130.5 1155.4,132.5 1154.4,134.4 1155.1,136.4 1156.5,138.4 1157.9,140.4 1158.6,142.4 1158.9,144.4 1160,146.4 1161.5,148.4 1165.5,150.4 1165.9,152.4 1166.6,154.4 1169.4,156.3 1170.8,158.3 1172.4,160.3 1174,162.3 1177.1,164.3 1178.2,166.3 1178.9,168.3 1180.1,170.3 1181.2,172.3 1182.4,174.3 1183.6,176.2 1184.8,178.2 1186.7,180.2 1187.4,182.2 1189.1,184.2 1189.9,186.2 1191.3,188.2 1192.5,190.2 1193.9,192.2 1194.9,194.2 1193.4,196.2 1194.1,198.1 1196.6,200.1 1197.7,202.1 1198,204.1 1196.9,206.1 1197.6,208.1 1198.3,210.1 1201.5,212.1 1203.3,214.1 1201.6,216.1 1203.8,218 1204.8,220 1204.3,222 1203.8,224 1205.4,226 1207.1,228 1205.3,230 1205.6,232 1206.5,234 1207.5,236 1208.4,238 1209.5,239.9 1210.4,241.9 1211.5,243.9 1212.3,245.9 1213.1,247.9 1215.1,249.9 1215.3,251.9 1215.9,253.9 1216.8,255.9 1217.8,257.9 1218.7,259.9 1220.6,261.8 1222.4,263.8 1223,265.8 1223.9,267.8 1223.1,269.8 1224,271.8 1225.6,273.8 1225.2,275.8 1226,277.8 1229.3,279.8 1230,281.7 1229.9,283.7 1232,285.7 1230,287.7 1231.5,289.7 1233.1,291.7 1234.5,293.7 1236.4,295.7 1236.9,297.7 1240.2,299.7 1242,301.7 1239.7,303.6 1241,305.6 1242.3,307.6 1244.1,309.6 1247.2,311.6 1248.4,313.6 1249.2,315.6 1250.7,317.6 1251,319.6 1251.1,321.6 1252.4,323.5 1254.4,325.5 1255.6,327.5 1256,329.5 1257,331.5 1259,333.5 1260.7,335.5 1260.2,337.5 1261.2,339.5 1262.2,341.5 1263.3,343.5 1265.2,345.4 1266.1,347.4 1266.3,349.4 1267.2,351.4 1268,353.4 1268.9,355.4 1269.8,357.4 1270.7,359.4 1271.6,361.4 1273.3,363.4 1273.3,365.3 1274.6,367.3 1277.2,369.3 1277.8,371.3 1278.3,373.3 1281.6,375.3 1282.9,377.3 1284,379.3 1284.2,381.3 1284.6,383.3 1285.9,385.3 1288.5,387.2 1289.1,389.2 1289.4,391.2 1290.3,393.2 1290.7,395.2 1289.5,397.2 1290.1,399.2 1293.3,401.2 1295.1,403.2 1295.7,405.2 1294.5,407.1 1295,409.1 1295.9,411.1 1296.9,413.1 1297.9,415.1 1298.8,417.1 1299.8,419.1 1300.8,421.1 1301.8,423.1 1302.7,425.1 1304.7,427.1 1304.6,429 1305.1,431 1306.1,433 1307.6,435 1308.1,437 1308.9,439 1308.6,441 1310.3,443 1312.9,445 1311,447 1311.4,448.9 1314.4,450.9 1315.5,452.9 1313.5,454.9 1314.2,456.9 1315.5,458.9 1316.1,460.9 1316.5,462.9 1317,464.9 1317.7,466.9 1319.1,468.9 1320.6,470.8 1322.1,472.8 1323.4,474.8 1325.9,476.8 1326.3,478.8 1327.9,480.8 1326.1,482.8 1327.1,484.8 1331.5,486.8 1331.3,488.8 1330.2,490.7 1330,492.7 1329.7,494.7 1330.6,496.7 1330.9,498.7 1331.6,500.7 1332.2,502.7 1332.9,504.7 1335.1,506.7 1338,508.7 1337.4,510.7 1338,512.6 1338.9,514.6 1337.5,516.6 1338.1,518.6 1339,520.6 1340.4,522.6 1341.8,524.6 1342.5,526.6 1342.2,528.6 1344.3,530.6 1345,532.5 1345.3,534.5 1346.3,536.5 1347.8,538.5 1348.1,540.5 1348.4,542.5 1348.8,544.5 1349.7,546.5 1350,548.5 1351.2,550.5 1351.7,552.5 1352.4,554.4 1352.3,556.4 1353.9,558.4 1353.1,560.4 1352.9,562.4 1353.9,564.4 1353.6,566.4 1353.9,568.4 1354.5,570.4 1358.2,572.4 1357.6,574.3 1356.8,576.3 1357.4,578.3 1358.6,580.3 1359.9,582.3 1360.5,584.3 1360.4,586.3 1359.8,588.3 1360.4,590.3 1361.5,592.3 1363.7,594.3 1364.1,596.2 1363.5,598.2 1365.1,600.2 1366.8,602.2 1366.1,604.2 1366.2,606.2 1367.2,608.2 1366.6,610.2 1367.4,612.2 1368.2,614.2 1369,616.1 1369.4,618.1 1369.9,620.1 1370.4,622.1 1370.9,624.1 1372.2,626.1 1373.7,628.1 1374.2,630.1 1375.4,632.1 1374.1,634.1 1374.1,636.1 1374.6,638 1375.6,640 1376,642 1376.3,644 1376.7,646 1378.6,648 1378.3,650 1378.9,652 1380.3,654 1381.5,656 1382,658 1381.6,659.9 1381.3,661.9 1382.3,663.9 1382.7,665.9 1383.9,667.9 1383.9,669.9 1385.4,671.9 1385.8,673.9 1385.2,675.9 1386.9,677.9 1388.8,679.8 1388,681.8 1389.9,683.8 1391.4,685.8 1391.1,687.8 1390.7,689.8 1390.9,691.8 1392.8,693.8 1392.5,695.8 1392.3,697.8 1392.7,699.8 1395.2,701.7 1395.5,703.7 1395.8,705.7 1396.1,707.7 1395,709.7 1394.4,711.7 1393.8,713.7 1394.2,715.7 1394.5,717.7 1394.9,719.7 1395.7,721.6 1395.6,723.6 1395.9,725.6 1396.4,727.6 1397,729.6 1397.6,731.6 1398.1,733.6 1399.4,735.6 1400.3,737.6 1401.6,739.6 1403.6,741.6 1401.9,743.5 1402.2,745.5 1402.5,747.5 1404.4,749.5 1405.2,751.5 1405.1,753.5 1405.7,755.5 1406.5,757.5 1405.8,759.5 1406.3,761.5 1407.8,763.4 1407.9,765.4 1407.8,767.4 1409.8,769.4 1410.1,771.4 1409.7,773.4 1410.5,775.4 1410,777.4 1409.7,779.4 1410.2,781.4 1410.8,783.4 1411.4,785.3 1412.2,787.3 1412.3,789.3 1412.8,791.3 1413.3,793.3 1414.3,795.3 1414.2,797.3 1414.7,799.3 1416.7,801.3 1417.5,803.3 1417.4,805.2 1417.5,807.2 1418.6,809.2 1418.8,811.2 1420.6,813.2 1421.6,815.2"/>
<polyline points="1118.1,19 1116.9,21 1118.6,23 1117.8,25 1116.3,27 1116.8,29 1118,30.9 1115.7,32.9 1116.3,34.9 1118.2,36.9 1117.3,38.9 1117.8,40.9 1118.6,42.9 1119.2,44.9 1121.4,46.9 1124.8,48.9 1125.8,50.8 1125.1,52.8 1125.9,54.8 1128.4,56.8 1127.9,58.8 1129.4,60.8 1130.3,62.8 1130.8,64.8 1129.8,66.8 1129.1,68.8 1130.8,70.8 1131.6,72.7 1131.4,74.7 1131.9,76.7 1132.7,78.7 1135.1,80.7 1137,82.7 1139.2,84.7 1140.4,86.7 1140.7,88.7 1143.1,90.7 1144.5,92.6 1145.7,94.6 1145.3,96.6 1148.3,98.6 1147.8,100.6 1147.1,102.6 1149.2,104.6 1149.3,106.6 1147.3,108.6 1148.6,110.6 1149.9,112.6 1151.9,114.5 1151.8,116.5 1152.8,118.5 1154.8,120.5 1156.5,122.5 1157.4,124.5 1161.2,126.5 1161,128.5 1160.4,130.5 1162.3,132.5 1163.9,134.4 1163.5,136.4 1165.1,138.4 1166.9,140.4 1166.9,142.4 1166.3,144.4 1166,146.4 1165.8,148.4 1168,150.4 1170.8,152.4 1171.9,154.4 1173,156.3 1174.7,158.3 1175.8,160.3 1176.7,162.3 1180.2,164.3 1182.9,166.3 1182.6,168.3 1182.6,170.3 1183.9,172.3 1183.8,174.3 1184.7,176.2 1188.3,178.2 1188.6,180.2 1190.8,182.2 1193.5,184.2 1193.9,186.2 1196,188.2 1194.4,190.2 1194.3,192.2 1197.2,194.2 1199.6,196.2 1198.8,198.1 1199.9,200.1 1201.2,202.1 1202.9,204.1 1202.9,206.1 1200.8,208.1 1201.8,210.1 1200.7,212.1 1201.5,214.1 1200.9,216.1 1200.9,218 1201.5,220 1202,222 1202.6,224 1203.1,226 1203.7,228 1205.9,230 1207.6,232 1207.8,234 1209.5,236 1211,238 1210.4,239.9 1211.6,241.9 1214.5,243.9 1215.1,245.9 1214.5,247.9 1214.9,249.9 1216.1,251.9 1215.9,253.9 1216.9,255.9 1218.7,257.9 1220.3,259.9 1221.2,261.8 1223.2,263.8 1222.9,265.8 1223.3,267.8 1225.8,269.8 1224.2,271.8 1225.3,273.8 1228.9,275.8 1230.7,277.8 1232.4,279.8 1230,281.7 1230.5,283.7 1231.6,285.7 1232.7,287.7 1233.9,289.7 1234,291.7 1235.6,293.7 1236.1,295.7 1237.6,297.7 1239,299.7 1241.5,301.7 1243.1,303.6 1243.2,305.6 1244.1,307.6 1244.7,309.6 1248.3,311.6 1250.7,313.6 1250.5,315.6 1250.9,317.6 1252.9,319.6 1253.6,321.6 1255.6,323.5 1259.2,325.5 1261.3,327.5 1262.3,329.5 1264.6,331.5 1263.9,333.5 1262.6,335.5 1262.4,337.5 1264.7,339.5 1266.8,341.5 1264.7,343.5 1266.9,345.4 1270.1,347.4 1267.4,349.4 1267.2,351.4 1270.7,353.4 1271.3,355.4 1271.9,357.4 1274,359.4 1274.7,361.4 1274.2,363.4 1275.7,365.3 1278.7,367.3 1278.2,369.3 1281,371.3 1283.3,373.3 1282.7,375.3 1282.6,377.3 1283,379.3 1284.5,381.3 1286.7,383.3 1287.5,385.3 1288.5,387.2 1290.9,389.2 1289.8,391.2 1289.5,393.2 1292.4,395.2 1293,397.2 1291.7,399.2 1293.6,401.2 1296.5,403.2 1299,405.2 1299.7,407.1 1301.9,409.1 1303.5,411.1 1302.2,413.1 1303.4,415.1 1304.2,417.1 1303.7,419.1 1304.9,421.1 1307,423.1 1307.2,425.1 1307.7,427.1 1306.8,429 1307.8,431 1308.7,433 1310.7,435 1311.8,437 1310.3,439 1310.6,441 1312.3,443 1311.2,445 1311.8,447 1314,448.9 1315.8,450.9 1316.6,452.9 1316.8,454.9 1318.5,456.9 1320.4,458.9 1320.2,460.9 1321.3,462.9 1322,464.9 1320.7,466.9 1322.4,468.9 1323.3,470.8 1325.7,472.8 1327.6,474.8 1328.5,476.8 1327.4,478.8 1326.1,480.8 1328.4,482.8 1329.3,484.8 1328.3,486.8 1330.2,488.8 1334.3,490.7 1333.6,492.7 1332.8,494.7 1335.8,496.7 1336.3,498.7 1334.4,500.7 1334,502.7 1334.8,504.7 1337.1,506.7 1339.5,508.7 1338.7,510.7 1339.3,512.6 1339.1,514.6 1339,516.6 1340.4,518.6 1341.6,520.6 1342.4,522.6 1343.3,524.6 1341.1,526.6 1342,528.6 1345.7,530.6 1345.8,532.5 1344.6,534.5 1344.3,536.5 1345.2,538.5 1345.2,540.5 1345.7,542.5 1346.3,544.5 1346.9,546.5 1347.5,548.5 1349.5,550.5 1352.2,552.5 1352.3,554.4 1353.3,556.4 1353.7,558.4 1353.1,560.4 1354,562.4 1354.8,564.4 1356.1,566.4 1355.6,568.4 1355.7,570.4 1357,572.4 1357.9,574.3 1358.5,576.3 1358.5,578.3 1360.6,580.3 1361.1,582.3 1361.1,584.3 1361.7,586.3 1361.7,588.3 1361.4,590.3 1361.2,592.3 1361.6,594.3 1362.7,596.2 1363.5,598.2 1364.5,600.2 1363.8,602.2 1364.4,604.2 1365,606.2 1367.3,608.2 1367.4,610.2 1367.9,612.2 1368.9,614.2 1370.9,616.1 1369.7,618.1 1369.9,620.1 1372.2,622.1 1371.9,624.1 1371.4,626.1 1373.7,628.1 1373.4,630.1 1373,632.1 1373.5,634.1 1374.1,636.1 1374.6,638 1375.1,640 1375.6,642 1377,644 1379.2,646 1379.2,648 1379.7,650 1380,652 1381,654 1381.7,656 1382.8,658 1382.9,659.9 1384.4,661.9 1386.5,663.9 1386.9,665.9 1386.8,667.9 1384.8,669.9 1385.3,671.9 1387.3,673.9 1387.9,675.9 1388.6,677.9 1389.3,679.8 1389.4,681.8 1389.5,683.8 1389.9,685.8 1390.9,687.8 1389.9,689.8 1389.2,691.8 1390.9,693.8 1391.1,695.8 1391.6,697.8 1393.3,699.8 1394.5,701.7 1394.4,703.7 1393.4,705.7 1395.1,707.7 1396.2,709.7 1395.6,711.7 1395.1,713.7 1396.4,715.7 1398.4,717.7 1397,719.7 1397.2,721.6 1399.4,723.6 1398.3,725.6 1397.6,727.6 1398.2,729.6 1397.7,731.6 1398.3,733.6 1400.3,735.6 1400.7,737.6 1402.2,739.6 1401.4,741.6 1402.7,743.5 1404,745.5 1404.7,747.5 1406.2,749.5 1407,751.5 1408.3,753.5 1409.4,755.5 1409.4,757.5 1409.1,759.5 1409,761.5 1408.9,763.4 1410.3,765.4 1411.6,767.4 1412.4,769.4 1412.9,771.4 1413.4,773.4 1414,775.4 1414,777.4 1413.9,779.4 1416.4,781.4 1415.2,783.4 1415.4,785.3 1416.2,787.3 1416.2,789.3 1416.1,791.3 1418.3,793.3 1419.3,795.3 1419.2,797.3 1418.2,799.3 1419.3,801.3 1421,803.3 1423.7,805.2 1424.3,807.2 1422.3,809.2 1421.5,811.2 1420.9,813.2 1422.5,815.2"/>
<polyline points="1118.2,19 1119.7,21 1121.7,23 1121.7,25 1120.8,27 1120.4,29 1120.2,30.9 1122,32.9 1121.2,34.9 1120.1,36.9 1123,38.9 1123.9,40.9 1124,42.9 1124.5,44.9 1124.1,46.9 1126.1,48.9 1128.8,50.8 1128.7,52.8 1130.3,54.8 1129.4,56.8 1129.3,58.8 1131.5,60.8 1133,62.8 1134.8,64.8 1135.8,66.8 1134.7,68.8 1136.4,70.8 1137.9,72.7 1139.7,74.7 1143.4,76.7 1142.4,78.7 1139.2,80.7 1137.9,82.7 1139.6,84.7 1140.4,86.7 1140.3,88.7 1142.9,90.7 1145.7,92.6 1144.8,94.6 1146.2,96.6 1148.5,98.6 1150,100.6 1149.6,102.6 1148.6,104.6 1150.4,106.6 1152.1,108.6 1151.2,110.6 1151.7,112.6 1154.2,114.5 1155.1,116.5 1157.3,118.5 1156.5,120.5 1153.8,122.5 1157.1,124.5 1159.5,126.5 1161.3,128.5 1161.2,130.5 1160.6,132.5 1162.9,134.4 1164.6,136.4 1163.8,138.4 1163.1,140.4 1162.4,142.4 1162.5,144.4 1163.7,146.4 1165.5,148.4 1168.5,150.4 1171,152.4 1174.6,154.4 1175.2,156.3 1174.2,158.3 1178.6,160.3 1182.4,162.3 1183.7,164.3 1184.5,166.3 1185.7,168.3 1188.9,170.3 1186.9,172.3 1187.7,174.3 1190.4,176.2 1189.3,178.2 1190.9,180.2 1193.9,182.2 1195.6,184.2 1195.5,186.2 1194.4,188.2 1195.2,190.2 1198.1,192.2 1198.8,194.2 1197.9,196.2 1197.7,198.1 1198.4,200.1 1197.9,202.1 1198.4,204.1 1200.3,206.1 1200.6,208.1 1201.2,210.1 1202.3,212.1 1202,214.1 1202.6,216.1 1201.6,218 1205,220 1208,222 1208.3,224 1209.8,226 1212.7,228 1212.4,230 1213.2,232 1213.3,234 1212.7,236 1213.2,238 1216.2,239.9 1217.3,241.9 1214.9,243.9 1212.8,245.9 1216.9,247.9 1219.6,249.9 1218.2,251.9 1218.1,253.9 1218.3,255.9 1219.6,257.9 1220.2,259.9 1220.7,261.8 1221.3,263.8 1221.8,265.8 1224,267.8 1225,269.8 1223.8,271.8 1224.7,273.8 1226.9,275.8 1228.3,277.8 1227.5,279.8 1230.2,281.7 1231.5,283.7 1230.1,285.7 1229.9,287.7 1232.8,289.7 1232.4,291.7 1233.7,293.7 1236.2,295.7 1236.7,297.7 1237.1,299.7 1239.1,301.7 1240.5,303.6 1241,305.6 1242.3,307.6 1243.6,309.6 1244.8,311.6 1247.1,313.6 1249.9,315.6 1250.9,317.6 1252.7,319.6 1254.2,321.6 1254.2,323.5 1254.8,325.5 1258.3,327.5 1258.9,329.5 1258.4,331.5 1260.5,333.5 1263.7,335.5 1264.9,337.5 1264.3,339.5 1263,341.5 1264.9,343.5 1267.4,345.4 1269.5,347.4 1270.6,349.4 1271.7,351.4 1272.5,353.4 1273.3,355.4 1275.3,357.4 1273.7,359.4 1274.4,361.4 1276.5,363.4 1278.4,365.3 1280.5,367.3 1280.7,369.3 1280.1,371.3 1281.4,373.3 1282.6,375.3 1281.8,377.3 1284.2,379.3 1285.6,381.3 1286.3,383.3 1284.7,385.3 1284.1,387.2 1288.3,389.2 1289.6,391.2 1288.5,393.2 1291.3,395.2 1294,397.2 1294.9,399.2 1294.6,401.2 1296,403.2 1297.7,405.2 1297.3,407.1 1296.6,409.1 1298.5,411.1 1300.9,413.1 1300.5,415.1 1301.3,417.1 1301.2,419.1 1302,421.1 1302.7,423.1 1304.9,425.1 1308.6,427.1 1306.9,429 1306.2,431 1308.2,433 1310.6,435 1309.8,437 1310.3,439 1313.8,441 1314.5,443 1313.8,445 1314.4,447 1317.8,448.9 1316.9,450.9 1314.3,452.9 1315.4,454.9 1318.7,456.9 1320.6,458.9 1320.5,460.9 1320.5,462.9 1322.7,464.9 1324.6,466.9 1325.1,468.9 1326.5,470.8 1324.4,472.8 1327.1,474.8 1328.7,476.8 1328.8,478.8 1330.6,480.8 1330.5,482.8 1332,484.8 1334.3,486.8 1333.7,488.8 1335.2,490.7 1336,492.7 1335.5,494.7 1335.6,496.7 1335.4,498.7 1337,500.7 1337,502.7 1337.9,504.7 1338.9,506.7 1340.6,508.7 1340.6,510.7 1340,512.6 1342.7,514.6 1344,516.6 1344.1,518.6 1343.5,520.6 1344.4,522.6 1345.4,524.6 1345.8,526.6 1345.2,528.6 1343.4,530.6 1344.9,532.5 1346.1,534.5 1345.8,536.5 1347.7,538.5 1348,540.5 1345.8,542.5 1347,544.5 1347.6,546.5 1347.8,548.5 1349.7,550.5 1350.6,552.5 1351.6,554.4 1350.1,556.4 1351.3,558.4 1355,560.4 1356.4,562.4 1356.2,564.4 1356.5,566.4 1355.3,568.4 1355.1,570.4 1358.7,572.4 1359.1,574.3 1357.4,576.3 1358.7,578.3 1360,580.3 1362,582.3 1363.5,584.3 1362.7,586.3 1362.2,588.3 1364.2,590.3 1365.2,592.3 1362.9,594.3 1365,596.2 1366.8,598.2 1365.1,600.2 1365.1,602.2 1367.4,604.2 1368.8,606.2 1368.6,608.2 1370.3,610.2 1371.4,612.2 1370.8,614.2 1370.8,616.1 1371.3,618.1 1372.8,620.1 1373.5,622.1 1374.9,624.1 1376.3,626.1 1375.9,628.1 1376.8,630.1 1377,632.1 1376.9,634.1 1379.1,636.1 1382.8,638 1382.6,640 1379.6,642 1377.9,644 1378,646 1379.6,648 1381.8,650 1382.2,652 1381.3,654 1383.7,656 1384.9,658 1385,659.9 1384.8,661.9 1386.9,663.9 1387.6,665.9 1387.7,667.9 1386.1,669.9 1386.4,671.9 1387.8,673.9 1390.3,675.9 1389.8,677.9 1387.9,679.8 1389.3,681.8 1390.8,683.8 1389.8,685.8 1390.1,687.8 1390,689.8 1391.4,691.8 1391.8,693.8 1391.3,695.8 1392.7,697.8 1395.9,699.8 1393.8,701.7 1392.6,703.7 1395.7,705.7 1396.1,707.7 1393.9,709.7 1394.5,711.7 1396.3,713.7 1398.4,715.7 1396,717.7 1396.1,719.7 1397.7,721.6 1397.6,723.6 1397.9,725.6 1399.5,727.6 1399.1,729.6 1399.7,731.6 1399.9,733.6 1401.4,735.6 1401.7,737.6 1401.3,739.6 1403.7,741.6 1403.6,743.5 1402.7,745.5 1403.5,747.5 1404.3,749.5 1406.9,751.5 1409.1,753.5 1408.6,755.5 1408.7,757.5 1408.8,759.5 1408.2,761.5 1408.3,763.4 1409.1,765.4 1411.6,767.4 1411.6,769.4 1411,771.4 1410.2,773.4 1411.4,775.4 1413.9,777.4 1412,779.4 1415.1,781.4 1417,783.4 1416.5,785.3 1415.6,787.3 1417.5,789.3 1419.4,791.3 1418.7,793.3 1420.4,795.3 1418.5,797.3 1418.4,799.3 1419.9,801.3 1421.1,803.3 1421.2,805.2 1420.4,807.2 1421.6,809.2 1423.4,811.2 1422.8,813.2 1422.6,815.2"/>
<polyline points="1120.3,19 1121.4,21 1123.9,23 1123.7,25 1123.8,27 1123.5,29 1122.8,30.9 1125.6,32.9 1124.9,34.9 1122.3,36.9 1121.8,38.9 1123.3,40.9 1123.9,42.9 1124.5,44.9 1127.5,46.9 1128.4,48.9 1130.3,50.8 1133.4,52.8 1133.5,54.8 1132.2,56.8 1131.7,58.8 1134.5,60.8 1136.3,62.8 1137.1,64.8 1139.2,66.8 1139,68.8 1139.4,70.8 1140.6,72.7 1142.2,74.7 1144.8,76.7 1144.9,78.7 1143.2,80.7 1145.9,82.7 1148.6,84.7 1148,86.7 1148.9,88.7 1149,90.7 1148.5,92.6 1148.7,94.6 1148.9,96.6 1149.4,98.6 1150.6,100.6 1150.6,102.6 1151.9,104.6 1151.4,106.6 1152.4,108.6 1154,110.6 1156.5,112.6 1157.8,114.5 1156.7,116.5 1155.6,118.5 1155.9,120.5 1157.6,122.5 1161.3,124.5 1164.8,126.5 1166.2,128.5 1170,130.5 1170.2,132.5 1168.9,134.4 1173.9,136.4 1175,138.4 1174,140.4 1178.5,142.4 1179.8,144.4 1179.4,146.4 1179.9,148.4 1181.1,150.4 1181.1,152.4 1185.3,154.4 1185.8,156.3 1184.6,158.3 1188.2,160.3 1188.7,162.3 1185.3,164.3 1187.3,166.3 1189.4,168.3 1189.3,170.3 1189.9,172.3 1190.3,174.3 1191,176.2 1191,178.2 1194.4,180.2 1195.6,182.2 1193.2,184.2 1193.2,186.2 1193.9,188.2 1194,190.2 1196,192.2 1198.3,194.2 1199.7,196.2 1197,198.1 1198.8,200.1 1201.7,202.1 1203.4,204.1 1204.1,206.1 1203.3,208.1 1203.9,210.1 1206.8,212.1 1207.6,214.1 1206.8,216.1 1207.2,218 1205.3,220 1206,222 1207.5,224 1206.9,226 1207.2,228 1209.4,230 1211.2,232 1214,234 1211.7,236 1214.7,238 1214.4,239.9 1213.1,241.9 1216.1,243.9 1218.3,245.9 1219.3,247.9 1220,249.9 1220.3,251.9 1224,253.9 1223.6,255.9 1225.2,257.9 1224.4,259.9 1226.4,261.8 1227.4,263.8 1226.7,265.8 1226.5,267.8 1227.3,269.8 1229.6,271.8 1229.1,273.8 1228.8,275.8 1231.4,277.8 1232.9,279.8 1232.3,281.7 1233.7,283.7 1236,285.7 1238.4,287.7 1239.3,289.7 1237.6,291.7 1237.2,293.7 1238.4,295.7 1239.8,297.7 1240.3,299.7 1242.2,301.7 1245.8,303.6 1247.4,305.6 1247.5,307.6 1249.5,309.6 1252,311.6 1254.3,313.6 1255.6,315.6 1256,317.6 1255.9,319.6 1256.7,321.6 1259.1,323.5 1262.3,325.5 1262.4,327.5 1263.4,329.5 1264.5,331.5 1264.7,333.5 1265.4,335.5 1267,337.5 1268.5,339.5 1269.4,341.5 1269.8,343.5 1273.5,345.4 1275.1,347.4 1276.1,349.4 1278.4,351.4 1279.2,353.4 1280.1,355.4 1281,357.4 1280.8,359.4 1280.8,361.4 1283.4,363.4 1282.9,365.3 1282.1,367.3 1284.5,369.3 1286.9,371.3 1287,373.3 1287.7,375.3 1290.3,377.3 1290.9,379.3 1288.9,381.3 1288.6,383.3 1290.2,385.3 1293.7,387.2 1293.1,389.2 1294,391.2 1296.7,393.2 1295.4,395.2 1294.1,397.2 1296.8,399.2 1299,401.2 1300.9,403.2 1300.8,405.2 1301,407.1 1302.3,409.1 1305,411.1 1306.4,413.1 1307.8,415.1 1307.9,417.1 1308.4,419.1 1309.8,421.1 1309.5,423.1 1311.1,425.1 1314.9,427.1 1315.6,429 1315.2,431 1314,433 1316.1,435 1316.9,437 1317.5,439 1318,441 1313.4,443 1312.8,445 1315.9,447 1315.2,448.9 1316.2,450.9 1317.5,452.9 1318.9,454.9 1320.1,456.9 1323.2,458.9 1323.3,460.9 1323.3,462.9 1323.6,464.9 1324.7,466.9 1324.8,468.9 1328.6,470.8 1327.7,472.8 1326.3,474.8 1329.1,476.8 1330.7,478.8 1331.7,480.8 1332.7,482.8 1333.9,484.8 1336.6,486.8 1334.9,488.8 1334.2,490.7 1334.7,492.7 1335.8,494.7 1336,496.7 1337,498.7 1337.1,500.7 1336.9,502.7 1338.7,504.7 1340,506.7 1341.9,508.7 1341.9,510.7 1341.6,512.6 1344.2,514.6 1345.1,516.6 1345.5,518.6 1346,520.6 1345.6,522.6 1348.4,524.6 1347.8,526.6 1346.8,528.6 1348.2,530.6 1348.9,532.5 1347.9,534.5 1348.5,536.5 1350,538.5 1351.2,540.5 1351.2,542.5 1352.5,544.5 1353.1,546.5 1354.6,548.5 1355.9,550.5 1356.6,552.5 1357.5,554.4 1356.5,556.4 1358.8,558.4 1358.2,560.4 1356.6,562.4 1358.4,564.4 1358.5,566.4 1358.9,568.4 1359.3,570.4 1360.1,572.4 1362.6,574.3 1365.1,576.3 1366.6,578.3 1365.4,580.3 1366.7,582.3 1368.2,584.3 1368.1,586.3 1367.3,588.3 1367.3,590.3 1369.1,592.3 1366.8,594.3 1364.8,596.2 1367.6,598.2 1369.3,600.2 1368.9,602.2 1371.4,604.2 1370.6,606.2 1369.2,608.2 1370.3,610.2 1370.7,612.2 1372.6,614.2 1372.3,616.1 1373,618.1 1375.3,620.1 1374.9,622.1 1376.1,624.1 1377.5,626.1 1377.4,628.1 1377.2,630.1 1378.7,632.1 1379.2,634.1 1378.6,636.1 1379,638 1379.1,640 1379.5,642 1381.3,644 1382,646 1382.6,648 1383.1,650 1385.1,652 1387.2,654 1385.7,656 1384,658 1384.4,659.9 1386.5,661.9 1388.9,663.9 1389,665.9 1389.4,667.9 1391,669.9 1390.8,671.9 1390.5,673.9 1392.3,675.9 1393.7,677.9 1393.1,679.8 1394.9,681.8 1394.9,683.8 1394.2,685.8 1395.7,687.8 1393,689.8 1393.2,691.8 1394.3,693.8 1396.4,695.8 1397.8,697.8 1396.7,699.8 1397.4,701.7 1397.4,703.7 1397.4,705.7 1400.3,707.7 1399.7,709.7 1400.4,711.7 1401,713.7 1400.7,715.7 1398.1,717.7 1397.4,719.7 1398.6,721.6 1400.1,723.6 1400.9,725.6 1399.9,727.6 1399.7,729.6 1403.2,731.6 1404.1,733.6 1405,735.6 1404.7,737.6 1405.3,739.6 1407.9,741.6 1406.9,743.5 1407.8,745.5 1408.2,747.5 1408.3,749.5 1409.4,751.5 1408.6,753.5 1408,755.5 1409,757.5 1409,759.5 1408.1,761.5 1408.1,763.4 1410.4,765.4 1413.2,767.4 1414.3,769.4 1415.9,771.4 1415.6,773.4 1414.5,775.4 1416.6,777.4 1416.8,779.4 1417.6,781.4 1418.9,783.4 1420.9,785.3 1420.8,787.3 1418.4,789.3 1419,791.3 1421.5,793.3 1421.4,795.3 1421.1,797.3 1422.5,799.3 1420.7,801.3 1422.1,803.3 1424.5,805.2 1425.4,807.2 1424.9,809.2 1423.5,811.2 1423.7,813.2 1426.9,815.2"/>
<polyline points="1120.8,19 1120.2,21 1121.1,23 1121.2,25 1123.4,27 1124.9,29 1124.2,30.9 1125.3,32.9 1125.1,34.9 1127.9,36.9 1130.8,38.9 1129,40.9 1128.2,42.9 1128.7,44.9 1128.9,46.9 1128.8,48.9 1128.4,50.8 1130.1,52.8 1131.8,54.8 1134.2,56.8 1135.3,58.8 1133.8,60.8 1134.5,62.8 1137.8,64.8 1140.2,66.8 1143,68.8 1144.1,70.8 1144,72.7 1143.9,74.7 1143.9,76.7 1146.6,78.7 1148.4,80.7 1147.9,82.7 1147.2,84.7 1150.1,86.7 1151.9,88.7 1151.4,90.7 1153.6,92.6 1154.7,94.6 1154.3,96.6 1155.8,98.6 1157.4,100.6 1157.2,102.6 1156.4,104.6 1158.8,106.6 1160.1,108.6 1159.5,110.6 1158.7,112.6 1159.3,114.5 1161,116.5 1161.6,118.5 1163.6,120.5 1164.6,122.5 1167,124.5 1169.3,126.5 1172.4,128.5 1174,130.5 1177.1,132.5 1180.8,134.4 1180.7,136.4 1180.4,138.4 1184.8,140.4 1184.8,142.4 1183.5,144.4 1183.7,146.4 1184.5,148.4 1185.7,150.4 1185.9,152.4 1185.5,154.4 1187.5,156.3 1186.7,158.3 1185.9,160.3 1186.9,162.3 1186.6,164.3 1189.2,166.3 1190,168.3 1190.2,170.3 1191.7,172.3 1191.3,174.3 1191.9,176.2 1194,178.2 1194.6,180.2 1192.3,182.2 1193.4,184.2 1195.4,186.2 1197.1,188.2 1195.9,190.2 1195.8,192.2 1196.2,194.2 1197.1,196.2 1200.2,198.1 1203.5,200.1 1202.5,202.1 1203.4,204.1 1203.2,206.1 1203.4,208.1 1204.1,210.1 1204.7,212.1 1207.6,214.1 1209.2,216.1 1208.4,218 1209.9,220 1209.1,222 1209.6,224 1211.3,226 1211.8,228 1211.8,230 1211.5,232 1212.3,234 1212.4,236 1214.7,238 1218.4,239.9 1219.3,241.9 1219,243.9 1221.1,245.9 1222.2,247.9 1222.7,249.9 1221.9,251.9 1224.6,253.9 1225.7,255.9 1224.5,257.9 1223.6,259.9 1224.1,261.8 1226.2,263.8 1228,265.8 1228.5,267.8 1229.5,269.8 1229.4,271.8 1231.6,273.8 1233.2,275.8 1234,277.8 1234,279.8 1233.2,281.7 1233.5,283.7 1236.2,285.7 1237.9,287.7 1238.3,289.7 1239,291.7 1240,293.7 1244.5,295.7 1244.6,297.7 1243.9,299.7 1245.9,301.7 1247.1,303.6 1249.3,305.6 1250.4,307.6 1251.1,309.6 1252.5,311.6 1252.9,313.6 1255.8,315.6 1258.1,317.6 1256.3,319.6 1255.1,321.6 1255.7,323.5 1258.3,325.5 1261.1,327.5 1264.2,329.5 1264.5,331.5 1262.7,333.5 1265.1,335.5 1267.8,337.5 1269.2,339.5 1270.8,341.5 1272.4,343.5 1273.8,345.4 1273.2,347.4 1273.6,349.4 1275,351.4 1276,353.4 1276.8,355.4 1275.7,357.4 1277.9,359.4 1278.2,361.4 1278.4,363.4 1278.7,365.3 1279.9,367.3 1281,369.3 1283.2,371.3 1285.9,373.3 1285.7,375.3 1286.8,377.3 1286,379.3 1286.7,381.3 1289.1,383.3 1289.4,385.3 1289.7,387.2 1291.4,389.2 1294.1,391.2 1294.5,393.2 1294.1,395.2 1294.1,397.2 1297.4,399.2 1298.7,401.2 1299.8,403.2 1303.5,405.2 1304.7,407.1 1305.6,409.1 1306.6,411.1 1306.3,413.1 1306.6,415.1 1306.9,417.1 1308.9,419.1 1310.3,421.1 1309.4,423.1 1310,425.1 1312.5,427.1 1312,429 1313.4,431 1314,433 1314.8,435 1313.9,437 1316.1,439 1318.6,441 1318,443 1316.9,445 1319.9,447 1321.8,448.9 1321.3,450.9 1320.5,452.9 1324,454.9 1322.8,456.9 1322.5,458.9 1325.4,460.9 1326.8,462.9 1327.6,464.9 1328.9,466.9 1328.7,468.9 1327.9,470.8 1330.4,472.8 1331.9,474.8 1333.6,476.8 1334.5,478.8 1335.5,480.8 1335.8,482.8 1336.7,484.8 1336.5,486.8 1336.9,488.8 1337.3,490.7 1340.2,492.7 1339,494.7 1338,496.7 1338.3,498.7 1338.9,500.7 1340.8,502.7 1344.1,504.7 1343.2,506.7 1342.5,508.7 1343,510.7 1343.8,512.6 1346.1,514.6 1348.5,516.6 1349.3,518.6 1349.7,520.6 1349.9,522.6 1350,524.6 1350.6,526.6 1348.5,528.6 1349.9,530.6 1351.1,532.5 1350.3,534.5 1350.8,536.5 1350.8,538.5 1351.2,540.5 1351.1,542.5 1352.6,544.5 1354.9,546.5 1353.2,548.5 1353.7,550.5 1356.2,552.5 1357.1,554.4 1357.9,556.4 1358.6,558.4 1360.1,560.4 1361,562.4 1361.3,564.4 1361,566.4 1360.8,568.4 1363.5,570.4 1363.2,572.4 1360.4,574.3 1359.8,576.3 1360.4,578.3 1361,580.3 1363,582.3 1364.2,584.3 1363.7,586.3 1366.1,588.3 1367.7,590.3 1367,592.3 1367,594.3 1369.1,596.2 1369.4,598.2 1372,600.2 1372,602.2 1369.5,604.2 1369.2,606.2 1370.9,608.2 1373.1,610.2 1374.9,612.2 1373.6,614.2 1372.9,616.1 1375.3,618.1 1376,620.1 1376.1,622.1 1375.4,624.1 1377,626.1 1377.1,628.1 1376.4,630.1 1378.9,632.1 1379.4,634.1 1380.3,636.1 1381.3,638 1380.5,640 1380.6,642 1381.8,644 1381.1,646 1379.2,648 1382.5,650 1383.8,652 1383.8,654 1382.8,656 1383.1,658 1385.4,659.9 1385.2,661.9 1384.3,663.9 1386.7,665.9 1388.8,667.9 1389.7,669.9 1389.7,671.9 1390.7,673.9 1391.5,675.9 1390.1,677.9 1390.5,679.8 1393,681.8 1391.7,683.8 1393.3,685.8 1393.1,687.8 1391.9,689.8 1391.9,691.8 1390.9,693.8 1392,695.8 1394.4,697.8 1393,699.8 1396.6,701.7 1399.9,703.7 1399.7,705.7 1399.7,707.7 1400.3,709.7 1397.3,711.7 1397.2,713.7 1398.6,715.7 1400.5,717.7 1399.9,719.7 1400.4,721.6 1401.3,723.6 1399.9,725.6 1401.2,727.6 1402.9,729.6 1401.7,731.6 1402.3,733.6 1404.3,735.6 1403.7,737.6 1402.3,739.6 1403.8,741.6 1405.1,743.5 1405.2,745.5 1405.2,747.5 1407.5,749.5 1408.9,751.5 1409,753.5 1408.4,755.5 1409.2,757.5 1411.5,759.5 1412.4,761.5 1411.8,763.4 1414.3,765.4 1414.3,767.4 1413.4,769.4 1413,771.4 1412.9,773.4 1415.7,775.4 1417.3,777.4 1420.7,779.4 1419.9,781.4 1417.4,783.4 1419,785.3 1420.7,787.3 1419.7,789.3 1421.6,791.3 1423.1,793.3 1423.6,795.3 1422.1,797.3 1421.6,799.3 1424.3,801.3 1423.9,803.3 1425.3,805.2 1426.5,807.2 1426.9,809.2 1427.3,811.2 1425.4,813.2 1426.1,815.2"/>
<polyline points="1126.1,19 1126.5,21 1126.9,23 1127.3,25 1127,27 1128.1,29 1128.7,30.9 1129.3,32.9 1129.9,34.9 1130.5,36.9 1131.1,38.9 1131.7,40.9 1132.3,42.9 1132.2,44.9 1133.5,46.9 1134.1,48.9 1135.1,50.8 1135.8,52.8 1136.6,54.8 1137.3,56.8 1136.7,58.8 1137.5,60.8 1139.1,62.8 1138.6,64.8 1141,66.8 1143,68.8 1143.1,70.8 1143.1,72.7 1144,74.7 1144.5,76.7 1146.2,78.7 1146.1,80.7 1147.8,82.7 1147.9,84.7 1147.6,86.7 1148.8,88.7 1149.3,90.7 1151.1,92.6 1153.1,94.6 1155.6,96.6 1156.2,98.6 1156.8,100.6 1157.9,102.6 1159.3,104.6 1160.2,106.6 1161.1,108.6 1162.1,110.6 1163.1,112.6 1162.1,114.5 1162.9,116.5 1164.3,118.5 1164.6,120.5 1167.6,122.5 1172,124.5 1175.2,126.5 1177.4,128.5 1180.1,130.5 1180.5,132.5 1181.6,134.4 1185.4,136.4 1186.8,138.4 1187.7,140.4 1188.7,142.4 1189.6,144.4 1190.6,146.4 1191.5,148.4 1192,150.4 1192.4,152.4 1192.6,154.4 1193,156.3 1192,158.3 1191.8,160.3 1193.8,162.3 1194.9,164.3 1195.6,166.3 1196.1,168.3 1196.4,170.3 1196.8,172.3 1197.1,174.3 1197.5,176.2 1197.8,178.2 1197.8,180.2 1198.3,182.2 1197.6,184.2 1195.4,186.2 1196.8,188.2 1199.7,190.2 1198.4,192.2 1197.4,194.2 1200.2,196.2 1202,198.1 1204.2,200.1 1204.4,202.1 1205.5,204.1 1205.8,206.1 1203.8,208.1 1207.5,210.1 1209.1,212.1 1208.7,214.1 1207.9,216.1 1209,218 1210.8,220 1211.2,222 1211.5,224 1213.8,226 1214.9,228 1215.8,230 1216.8,232 1217.7,234 1217.8,236 1216.9,238 1218.2,239.9 1220.8,241.9 1222.4,243.9 1223.4,245.9 1224.3,247.9 1225.2,249.9 1226.2,251.9 1224.8,253.9 1228,255.9 1228.9,257.9 1228.4,259.9 1229.5,261.8 1230.1,263.8 1230.9,265.8 1232.3,267.8 1232.3,269.8 1233.1,271.8 1231.4,273.8 1232.6,275.8 1237.1,277.8 1237.8,279.8 1238.5,281.7 1239.2,283.7 1239.9,285.7 1239,287.7 1240.8,289.7 1243.2,291.7 1244.5,293.7 1245.8,295.7 1245.2,297.7 1248,299.7 1248.5,301.7 1250.9,303.6 1252.2,305.6 1252.1,307.6 1252.3,309.6 1255.4,311.6 1256.2,313.6 1256.9,315.6 1259.8,317.6 1261.1,319.6 1259.3,321.6 1263.2,323.5 1264.8,325.5 1264.9,327.5 1263.8,329.5 1266.5,331.5 1268.6,333.5 1269.6,335.5 1270.7,337.5 1272.4,339.5 1273,341.5 1272.1,343.5 1274.9,345.4 1275.5,347.4 1276.3,349.4 1278.1,351.4 1278.6,353.4 1279,355.4 1279.8,357.4 1281.6,359.4 1282.7,361.4 1283.2,363.4 1284.5,365.3 1285.4,367.3 1286.4,369.3 1286.5,371.3 1286.5,373.3 1289.4,375.3 1290.3,377.3 1291.3,379.3 1292.3,381.3 1293.3,383.3 1294.3,385.3 1295,387.2 1296.3,389.2 1297.3,391.2 1298.3,393.2 1298.6,395.2 1300.2,397.2 1301.2,399.2 1302.2,401.2 1301.8,403.2 1301.5,405.2 1302.6,407.1 1305.6,409.1 1307.1,411.1 1306.4,413.1 1308,415.1 1310,417.1 1309.7,419.1 1308.5,421.1 1309.8,423.1 1310.9,425.1 1311.7,427.1 1314.8,429 1316.3,431 1315.3,433 1316.7,435 1316.7,437 1316.4,439 1316.6,441 1318,443 1320.7,445 1321.9,447 1322.6,448.9 1323.3,450.9 1323,452.9 1322.7,454.9 1325.4,456.9 1326.1,458.9 1326.7,460.9 1327.5,462.9 1328.2,464.9 1328.9,466.9 1329.8,468.9 1329.7,470.8 1329.3,472.8 1331.4,474.8 1332.5,476.8 1330.8,478.8 1331.1,480.8 1333.5,482.8 1335.3,484.8 1338.1,486.8 1337.9,488.8 1338.5,490.7 1339.1,492.7 1339,494.7 1340.5,496.7 1342.1,498.7 1342.4,500.7 1341.9,502.7 1343.5,504.7 1344.5,506.7 1342.4,508.7 1344.1,510.7 1346.6,512.6 1347.7,514.6 1348.1,516.6 1346.9,518.6 1347.8,520.6 1350.4,522.6 1348.4,524.6 1350.6,526.6 1352,528.6 1353.1,530.6 1354,532.5 1354.3,534.5 1354.5,536.5 1355.8,538.5 1356.4,540.5 1356.9,542.5 1357.5,544.5 1358.1,546.5 1357.9,548.5 1359.4,550.5 1359.9,552.5 1359.9,554.4 1360.8,556.4 1361.9,558.4 1362.6,560.4 1362.9,562.4 1361.3,564.4 1362.4,566.4 1365.1,568.4 1365.5,570.4 1364.7,572.4 1366.8,574.3 1367.4,576.3 1368,578.3 1367.6,580.3 1369.2,582.3 1369.8,584.3 1369.6,586.3 1369.7,588.3 1371.5,590.3 1372.1,592.3 1372.7,594.3 1373.3,596.2 1373.6,598.2 1374.5,600.2 1375,602.2 1375.6,604.2 1375.8,606.2 1376.4,608.2 1376.6,610.2 1376.8,612.2 1375.5,614.2 1377.1,616.1 1377.6,618.1 1378.1,620.1 1378.6,622.1 1378,624.1 1377.9,626.1 1379,628.1 1379.1,630.1 1379.9,632.1 1379.6,634.1 1382.2,636.1 1382.8,638 1382.3,640 1383.2,642 1383.9,644 1384.2,646 1385.4,648 1385.2,650 1385.7,652 1386.1,654 1387.1,656 1387.4,658 1386.1,659.9 1387.4,661.9 1388.7,663.9 1389.6,665.9 1391.2,667.9 1391.3,669.9 1391.9,671.9 1391.7,673.9 1393,675.9 1393.9,677.9 1394.4,679.8 1394.9,681.8 1395.5,683.8 1395.9,685.8 1396.5,687.8 1396.9,689.8 1397.4,691.8 1397.4,693.8 1398.3,695.8 1398.8,697.8 1399.2,699.8 1399.7,701.7 1400.1,703.7 1400.6,705.7 1400.9,707.7 1400.7,709.7 1401.6,711.7 1402,713.7 1402.3,715.7 1402.7,717.7 1403,719.7 1403.4,721.6 1403.5,723.6 1403,725.6 1404.6,727.6 1404.7,729.6 1405.2,731.6 1404.5,733.6 1404.3,735.6 1405.8,737.6 1406.6,739.6 1406.4,741.6 1406.5,743.5 1408.9,745.5 1410,747.5 1407.1,749.5 1409.4,751.5 1412,753.5 1412.6,755.5 1413.2,757.5 1411.8,759.5 1412,761.5 1413,763.4 1414.5,765.4 1414.1,767.4 1416,769.4 1417.9,771.4 1419.7,773.4 1420.7,775.4 1420,777.4 1420.1,779.4 1420.1,781.4 1420.4,783.4 1421.6,785.3 1421.7,787.3 1420.3,789.3 1421.3,791.3 1423.8,793.3 1425.7,795.3 1425.9,797.3 1425.6,799.3 1425.8,801.3 1426.6,803.3 1428.3,805.2 1428.8,807.2 1427.6,809.2 1429.5,811.2 1429.6,813.2 1429.6,815.2"/>
<polyline points="1136.5,19 1135.8,21 1137.2,23 1139,25 1139.4,27 1139.6,29 1140.2,30.9 1140.6,32.9 1140.2,34.9 1139.9,36.9 1139.8,38.9 1140.4,40.9 1142,42.9 1143,44.9 1143.4,46.9 1143.5,48.9 1146.7,50.8 1148.5,52.8 1149.4,54.8 1150.4,56.8 1153.5,58.8 1154.6,60.8 1155.3,62.8 1157.8,64.8 1159.1,66.8 1159.1,68.8 1160.7,70.8 1162,72.7 1163.8,74.7 1163.2,76.7 1163.9,78.7 1166.8,80.7 1167.8,82.7 1167.8,84.7 1169.2,86.7 1169.8,88.7 1170.1,90.7 1170.4,92.6 1170.3,94.6 1169.9,96.6 1170.6,98.6 1171.3,100.6 1173.1,102.6 1173.4,104.6 1171.5,106.6 1172,108.6 1173.6,110.6 1175.6,112.6 1175.4,114.5 1175.2,116.5 1177.3,118.5 1177.8,120.5 1178.3,122.5 1178.7,124.5 1179.1,126.5 1178.2,128.5 1179.2,130.5 1180.8,132.5 1183,134.4 1184.7,136.4 1185.1,138.4 1186.1,140.4 1187.9,142.4 1189.3,144.4 1190.3,146.4 1190.3,148.4 1191.5,150.4 1192,152.4 1191.8,154.4 1192.8,156.3 1193.2,158.3 1192.1,160.3 1194,162.3 1194.8,164.3 1193.8,166.3 1194.6,168.3 1194.9,170.3 1194.8,172.3 1195,174.3 1196.7,176.2 1197.5,178.2 1196.7,180.2 1197.3,182.2 1198,184.2 1198.5,186.2 1197.9,188.2 1198.5,190.2 1200.4,192.2 1200.9,194.2 1202.6,196.2 1203.4,198.1 1203.8,200.1 1203.8,202.1 1204.8,204.1 1206.4,206.1 1205.8,208.1 1206.7,210.1 1208.8,212.1 1209.5,214.1 1210.1,216.1 1210.5,218 1210.6,220 1212.1,222 1211.9,224 1212.1,226 1214.2,228 1215.5,230 1216.4,232 1217.1,234 1216.9,236 1216.7,238 1218.8,239.9 1220.2,241.9 1221.4,243.9 1223.1,245.9 1223.8,247.9 1222.4,249.9 1223.7,251.9 1226.7,253.9 1227.1,255.9 1226.7,257.9 1228.2,259.9 1229.7,261.8 1230,263.8 1232,265.8 1233.3,267.8 1234,269.8 1234.7,271.8 1235.4,273.8 1235.7,275.8 1235.4,277.8 1235.9,279.8 1237.3,281.7 1236.5,283.7 1236.7,285.7 1238.6,287.7 1241.4,289.7 1242.9,291.7 1244.1,293.7 1244.4,295.7 1246.6,297.7 1248,299.7 1249.1,301.7 1250.4,303.6 1251.4,305.6 1251.9,307.6 1253,309.6 1255.1,311.6 1256.5,313.6 1257.8,315.6 1258.5,317.6 1258.5,319.6 1259.9,321.6 1261.8,323.5 1262.6,325.5 1263.8,327.5 1265.6,329.5 1266.8,331.5 1268.3,333.5 1269.3,335.5 1269.9,337.5 1272.1,339.5 1273,341.5 1273.3,343.5 1274.4,345.4 1275.8,347.4 1275.9,349.4 1275.3,351.4 1277.1,353.4 1278.3,355.4 1279.3,357.4 1281.5,359.4 1282.5,361.4 1283.3,363.4 1284.2,365.3 1285.1,367.3 1286.1,369.3 1287.1,371.3 1286.1,373.3 1286.1,375.3 1287.6,377.3 1288.2,379.3 1289,381.3 1290.4,383.3 1291.2,385.3 1293.3,387.2 1296,389.2 1296,391.2 1297.6,393.2 1299,395.2 1299.3,397.2 1299.7,399.2 1301.3,401.2 1302.2,403.2 1303.1,405.2 1304.9,407.1 1305.7,409.1 1306.8,411.1 1307.8,413.1 1308.1,415.1 1308.9,417.1 1307.7,419.1 1309.1,421.1 1311.2,423.1 1313.6,425.1 1314.6,427.1 1314.9,429 1315.3,431 1316.7,433 1317.4,435 1318.1,437 1318.8,439 1319.5,441 1319.2,443 1319.9,445 1321.4,447 1321.8,448.9 1321.6,450.9 1321.2,452.9 1323.4,454.9 1325.1,456.9 1325.3,458.9 1325.4,460.9 1326.7,462.9 1327.7,464.9 1328.1,466.9 1328.4,468.9 1330.5,470.8 1331.4,472.8 1331.4,474.8 1332.3,476.8 1334.2,478.8 1335.2,480.8 1336.1,482.8 1337.1,484.8 1338,486.8 1338.6,488.8 1339.1,490.7 1337.3,492.7 1338.7,494.7 1340.2,496.7 1340.3,498.7 1342,500.7 1342.9,502.7 1342.4,504.7 1344.4,506.7 1345.2,508.7 1345.5,510.7 1346.2,512.6 1347.2,514.6 1347.9,516.6 1348.1,518.6 1348.7,520.6 1349.9,522.6 1351,524.6 1351.3,526.6 1352.5,528.6 1353.2,530.6 1353.7,532.5 1353.6,534.5 1353.6,536.5 1354.7,538.5 1356.1,540.5 1356.6,542.5 1355.5,544.5 1356.3,546.5 1358.2,548.5 1359.1,550.5 1359.7,552.5 1360.4,554.4 1361,556.4 1361.6,558.4 1362.3,560.4 1362.3,562.4 1362.1,564.4 1363.9,566.4 1363.9,568.4 1365.4,570.4 1366,572.4 1365.5,574.3 1366,576.3 1367.2,578.3 1367.8,580.3 1366.8,582.3 1368.7,584.3 1370.1,586.3 1370.1,588.3 1369.4,590.3 1370,592.3 1371.9,594.3 1372.5,596.2 1372.6,598.2 1373.3,600.2 1372.4,602.2 1373.3,604.2 1375.9,606.2 1376.1,608.2 1375.8,610.2 1375,612.2 1376.2,614.2 1375.7,616.1 1375.3,618.1 1377,620.1 1377.8,622.1 1378.8,624.1 1379.3,626.1 1379.8,628.1 1379.9,630.1 1380.8,632.1 1380.3,634.1 1379.8,636.1 1381.2,638 1382.5,640 1383.5,642 1384.1,644 1384.6,646 1385.1,648 1385.4,650 1385.4,652 1384.7,654 1386,656 1388.1,658 1388.5,659.9 1388.7,661.9 1389.8,663.9 1390.4,665.9 1389.6,667.9 1390.9,669.9 1392,671.9 1392.5,673.9 1393,675.9 1393.6,677.9 1394.1,679.8 1394.6,681.8 1395.2,683.8 1394.9,685.8 1395.8,687.8 1396.6,689.8 1397.1,691.8 1397.5,693.8 1397.7,695.8 1397.8,697.8 1397.4,699.8 1398.3,701.7 1399.8,703.7 1399.8,705.7 1399.7,707.7 1401,709.7 1401.3,711.7 1401.7,713.7 1402,715.7 1402.1,717.7 1400.6,719.7 1401.5,721.6 1402.3,723.6 1402.9,725.6 1404.3,727.6 1404.9,729.6 1403.9,731.6 1403.9,733.6 1404.8,735.6 1407,737.6 1407.5,739.6 1406.7,741.6 1408.6,743.5 1409,745.5 1409.7,747.5 1409.9,749.5 1409.9,751.5 1411.1,753.5 1412.2,755.5 1412.9,757.5 1413.6,759.5 1413.7,761.5 1414.9,763.4 1415.5,765.4 1416.5,767.4 1417.5,769.4 1418.4,771.4 1418.7,773.4 1418.7,775.4 1419.2,777.4 1420.3,779.4 1420,781.4 1420,783.4 1421.8,785.3 1422.5,787.3 1421.6,789.3 1422.5,791.3 1423.9,793.3 1425.6,795.3 1426.1,797.3 1426.1,799.3 1425.5,801.3 1426.4,803.3 1426.5,805.2 1428.2,807.2 1428.9,809.2 1429.4,811.2 1429.9,813.2 1429.5,815.2"/>
</g>
<polyline points="1121.5,29 1127,48.9 1136,68.8 1146,88.7 1158,108.6 1165.3,128.5 1177.6,148.4 1187.5,168.3 1194.5,188.2 1201.3,208.1 1209.3,228 1218.7,247.9 1228,267.8 1235,287.7 1247.9,307.6 1260.5,327.5 1271,347.4 1279.8,367.3 1289.7,387.2 1299.6,407.1 1309.3,427.1 1316.3,447 1323.3,466.9 1332.7,486.8 1339.1,506.7 1346.7,526.6 1352.5,546.5 1358.9,566.4 1364.8,586.3 1370.6,606.2 1375.5,626.1 1380.8,646 1386.6,665.9 1391.9,685.8 1396.5,705.7 1400,725.6 1405.3,745.5 1411.7,765.4 1417.5,785.3 1422.2,805.2" fill="none" stroke="#0000ff" stroke-width="2.9" stroke-linejoin="round" stroke-linecap="butt"/>
<g fill="#0000ff"><circle cx="1121.5" cy="29" r="5.5"/><circle cx="1127" cy="48.9" r="5.5"/><circle cx="1136" cy="68.8" r="5.5"/><circle cx="1146" cy="88.7" r="5.5"/><circle cx="1158" cy="108.6" r="5.5"/><circle cx="1165.3" cy="128.5" r="5.5"/><circle cx="1177.6" cy="148.4" r="5.5"/><circle cx="1187.5" cy="168.3" r="5.5"/><circle cx="1194.5" cy="188.2" r="5.5"/><circle cx="1201.3" cy="208.1" r="5.5"/><circle cx="1209.3" cy="228" r="5.5"/><circle cx="1218.7" cy="247.9" r="5.5"/><circle cx="1228" cy="267.8" r="5.5"/><circle cx="1235" cy="287.7" r="5.5"/><circle cx="1247.9" cy="307.6" r="5.5"/><circle cx="1260.5" cy="327.5" r="5.5"/><circle cx="1271" cy="347.4" r="5.5"/><circle cx="1279.8" cy="367.3" r="5.5"/><circle cx="1289.7" cy="387.2" r="5.5"/><circle cx="1299.6" cy="407.1" r="5.5"/><circle cx="1309.3" cy="427.1" r="5.5"/><circle cx="1316.3" cy="447" r="5.5"/><circle cx="1323.3" cy="466.9" r="5.5"/><circle cx="1332.7" cy="486.8" r="5.5"/><circle cx="1339.1" cy="506.7" r="5.5"/><circle cx="1346.7" cy="526.6" r="5.5"/><circle cx="1352.5" cy="546.5" r="5.5"/><circle cx="1358.9" cy="566.4" r="5.5"/><circle cx="1364.8" cy="586.3" r="5.5"/><circle cx="1370.6" cy="606.2" r="5.5"/><circle cx="1375.5" cy="626.1" r="5.5"/><circle cx="1380.8" cy="646" r="5.5"/><circle cx="1386.6" cy="665.9" r="5.5"/><circle cx="1391.9" cy="685.8" r="5.5"/><circle cx="1396.5" cy="705.7" r="5.5"/><circle cx="1400" cy="725.6" r="5.5"/><circle cx="1405.3" cy="745.5" r="5.5"/><circle cx="1411.7" cy="765.4" r="5.5"/><circle cx="1417.5" cy="785.3" r="5.5"/><circle cx="1422.2" cy="805.2" r="5.5"/></g>
<polyline points="1137.9,19 1138.6,23 1139.4,27 1140.1,30.9 1140.9,34.9 1141.6,38.9 1142.4,42.9 1143.5,48.9 1145.4,58.8 1147.2,68.8 1149.1,78.7 1151,88.7 1152.9,98.6 1154.7,108.6 1156.6,118.5 1161.3,138.4 1165.3,158.3 1166.5,178.2 1175.9,198.1 1192.5,218 1226.8,267.8 1245.4,317.6 1284.4,417.1 1321.4,516.6 1355.5,616.1 1388.4,715.7 1419.9,815.2" fill="none" stroke="#ff0000" stroke-width="8.3" stroke-linejoin="round" stroke-linecap="butt"/>
<g fill="#ff0000"><circle cx="1137.9" cy="19" r="5.6"/><circle cx="1138.6" cy="23" r="5.6"/><circle cx="1139.4" cy="27" r="5.6"/><circle cx="1140.1" cy="30.9" r="5.6"/><circle cx="1140.9" cy="34.9" r="5.6"/><circle cx="1141.6" cy="38.9" r="5.6"/><circle cx="1142.4" cy="42.9" r="5.6"/><circle cx="1143.5" cy="48.9" r="5.6"/><circle cx="1145.4" cy="58.8" r="5.6"/><circle cx="1147.2" cy="68.8" r="5.6"/><circle cx="1149.1" cy="78.7" r="5.6"/><circle cx="1151" cy="88.7" r="5.6"/><circle cx="1152.9" cy="98.6" r="5.6"/><circle cx="1154.7" cy="108.6" r="5.6"/><circle cx="1156.6" cy="118.5" r="5.6"/><circle cx="1161.3" cy="138.4" r="5.6"/><circle cx="1165.3" cy="158.3" r="5.6"/><circle cx="1166.5" cy="178.2" r="5.6"/><circle cx="1175.9" cy="198.1" r="5.6"/><circle cx="1192.5" cy="218" r="5.6"/><circle cx="1226.8" cy="267.8" r="5.6"/><circle cx="1245.4" cy="317.6" r="5.6"/><circle cx="1284.4" cy="417.1" r="5.6"/><circle cx="1321.4" cy="516.6" r="5.6"/><circle cx="1355.5" cy="616.1" r="5.6"/><circle cx="1388.4" cy="715.7" r="5.6"/><circle cx="1419.9" cy="815.2" r="5.6"/></g>
<polyline points="1118.1,19 1119,23 1119.8,27 1120.7,30.9 1121.5,34.9 1122.4,38.9 1123.2,42.9 1125.5,48.9 1127.8,58.8 1129.8,68.8 1131.5,78.7 1132.7,88.7 1135,98.6 1137.3,108.6 1139.4,118.5 1144.3,138.4 1155.4,158.3 1172.4,178.2 1183.4,198.1 1191.5,218 1228,267.8 1256.5,317.6 1308.3,417.1 1341.7,516.6 1376.9,616.1 1404.7,715.7 1432.7,815.2" fill="none" stroke="#b07818" stroke-width="4.0" stroke-linejoin="round" stroke-linecap="butt"/>
<polyline points="1118.1,19 1119,23 1119.8,27 1120.7,30.9 1121.5,34.9 1122.4,38.9 1123.2,42.9 1125.5,48.9 1127.8,58.8 1129.8,68.8 1131.5,78.7 1132.7,88.7 1135,98.6 1137.3,108.6 1139.4,118.5 1144.3,138.4 1155.4,158.3 1172.4,178.2 1183.4,198.1 1191.5,218 1228,267.8 1256.5,317.6 1308.3,417.1 1341.7,516.6 1376.9,616.1 1404.7,715.7 1432.7,815.2" fill="none" stroke="#ffa500" stroke-width="2.9" stroke-linejoin="round" stroke-linecap="butt"/>
<g fill="#ffa500" stroke="#b07818" stroke-width="0.7"><circle cx="1118.1" cy="19" r="5.3"/><circle cx="1119" cy="23" r="5.3"/><circle cx="1119.8" cy="27" r="5.3"/><circle cx="1120.7" cy="30.9" r="5.3"/><circle cx="1121.5" cy="34.9" r="5.3"/><circle cx="1122.4" cy="38.9" r="5.3"/><circle cx="1123.2" cy="42.9" r="5.3"/><circle cx="1125.5" cy="48.9" r="5.3"/><circle cx="1127.8" cy="58.8" r="5.3"/><circle cx="1129.8" cy="68.8" r="5.3"/><circle cx="1131.5" cy="78.7" r="5.3"/><circle cx="1132.7" cy="88.7" r="5.3"/><circle cx="1135" cy="98.6" r="5.3"/><circle cx="1137.3" cy="108.6" r="5.3"/><circle cx="1139.4" cy="118.5" r="5.3"/><circle cx="1144.3" cy="138.4" r="5.3"/><circle cx="1155.4" cy="158.3" r="5.3"/><circle cx="1172.4" cy="178.2" r="5.3"/><circle cx="1183.4" cy="198.1" r="5.3"/><circle cx="1191.5" cy="218" r="5.3"/><circle cx="1228" cy="267.8" r="5.3"/><circle cx="1256.5" cy="317.6" r="5.3"/><circle cx="1308.3" cy="417.1" r="5.3"/><circle cx="1341.7" cy="516.6" r="5.3"/><circle cx="1376.9" cy="616.1" r="5.3"/><circle cx="1404.7" cy="715.7" r="5.3"/><circle cx="1432.7" cy="815.2" r="5.3"/></g>
<polyline points="1137.9,19 1138.7,23 1139.6,27 1140.4,30.9 1141.3,34.9 1142.1,38.9 1143,42.9 1144.3,48.9 1146.3,58.8 1148.4,68.8 1151.3,78.7 1154.8,88.7 1158.7,98.6 1162.4,108.6 1166.3,118.5 1175.6,138.4 1184.6,158.3 1192.5,178.2 1203.5,198.1 1217.5,218 1255.7,267.8 1280.5,317.6 1314.8,417.1 1343.2,516.6 1370,616.1 1398.3,715.7 1425.1,815.2" fill="none" stroke="#008000" stroke-width="2.9" stroke-linejoin="round" stroke-linecap="butt"/>
<g fill="#008000"><circle cx="1137.9" cy="19" r="5.5"/><circle cx="1138.7" cy="23" r="5.5"/><circle cx="1139.6" cy="27" r="5.5"/><circle cx="1140.4" cy="30.9" r="5.5"/><circle cx="1141.3" cy="34.9" r="5.5"/><circle cx="1142.1" cy="38.9" r="5.5"/><circle cx="1143" cy="42.9" r="5.5"/><circle cx="1144.3" cy="48.9" r="5.5"/><circle cx="1146.3" cy="58.8" r="5.5"/><circle cx="1148.4" cy="68.8" r="5.5"/><circle cx="1151.3" cy="78.7" r="5.5"/><circle cx="1154.8" cy="88.7" r="5.5"/><circle cx="1158.7" cy="98.6" r="5.5"/><circle cx="1162.4" cy="108.6" r="5.5"/><circle cx="1166.3" cy="118.5" r="5.5"/><circle cx="1175.6" cy="138.4" r="5.5"/><circle cx="1184.6" cy="158.3" r="5.5"/><circle cx="1192.5" cy="178.2" r="5.5"/><circle cx="1203.5" cy="198.1" r="5.5"/><circle cx="1217.5" cy="218" r="5.5"/><circle cx="1255.7" cy="267.8" r="5.5"/><circle cx="1280.5" cy="317.6" r="5.5"/><circle cx="1314.8" cy="417.1" r="5.5"/><circle cx="1343.2" cy="516.6" r="5.5"/><circle cx="1370" cy="616.1" r="5.5"/><circle cx="1398.3" cy="715.7" r="5.5"/><circle cx="1425.1" cy="815.2" r="5.5"/></g>
<polyline points="1117.5,20 1123.3,22.1 1126.8,24.3 1129.2,26.6 1130.8,29.1 1131.6,31.8 1132.3,34.8 1133,38 1133.8,41.7 1134.7,45.8 1135.7,50.5 1136.9,55.8 1138.2,62 1139.8,69.2 1141.5,77.6 1143.5,87.5 1145.9,99.3 1149.4,113.3 1153.7,130 1158.6,150 1169.4,174 1185.4,202.8 1209.7,237.4 1241.4,279.1 1269.3,329.2 1296.7,389.5 1326.6,461.8 1355.4,548.6 1382.5,652.2 1414.6,775.8" fill="none" stroke="#ff00ff" stroke-width="2.9" stroke-linejoin="round" stroke-linecap="butt"/>
<g fill="#ff00ff"><circle cx="1117.5" cy="20" r="5.5"/><circle cx="1123.3" cy="22.1" r="5.5"/><circle cx="1126.8" cy="24.3" r="5.5"/><circle cx="1129.2" cy="26.6" r="5.5"/><circle cx="1130.8" cy="29.1" r="5.5"/><circle cx="1131.6" cy="31.8" r="5.5"/><circle cx="1132.3" cy="34.8" r="5.5"/><circle cx="1133" cy="38" r="5.5"/><circle cx="1133.8" cy="41.7" r="5.5"/><circle cx="1134.7" cy="45.8" r="5.5"/><circle cx="1135.7" cy="50.5" r="5.5"/><circle cx="1136.9" cy="55.8" r="5.5"/><circle cx="1138.2" cy="62" r="5.5"/><circle cx="1139.8" cy="69.2" r="5.5"/><circle cx="1141.5" cy="77.6" r="5.5"/><circle cx="1143.5" cy="87.5" r="5.5"/><circle cx="1145.9" cy="99.3" r="5.5"/><circle cx="1149.4" cy="113.3" r="5.5"/><circle cx="1153.7" cy="130" r="5.5"/><circle cx="1158.6" cy="150" r="5.5"/><circle cx="1169.4" cy="174" r="5.5"/><circle cx="1185.4" cy="202.8" r="5.5"/><circle cx="1209.7" cy="237.4" r="5.5"/><circle cx="1241.4" cy="279.1" r="5.5"/><circle cx="1269.3" cy="329.2" r="5.5"/><circle cx="1296.7" cy="389.5" r="5.5"/><circle cx="1326.6" cy="461.8" r="5.5"/><circle cx="1355.4" cy="548.6" r="5.5"/><circle cx="1382.5" cy="652.2" r="5.5"/><circle cx="1414.6" cy="775.8" r="5.5"/></g>
</g>
<rect x="1072.5" y="19.5" width="402" height="795" fill="none" stroke="#000" stroke-width="1.25"/>
<path d="M1072.5 19.5h-5.8M1072.5 68.5h-5.8M1072.5 118.5h-5.8M1072.5 168.5h-5.8M1072.5 218.5h-5.8M1072.5 267.5h-5.8M1072.5 317.5h-5.8M1072.5 367.5h-5.8M1072.5 417.5h-5.8M1072.5 466.5h-5.8M1072.5 516.5h-5.8M1072.5 566.5h-5.8M1072.5 616.5h-5.8M1072.5 665.5h-5.8M1072.5 715.5h-5.8M1072.5 765.5h-5.8M1151.5 814.5v5.8M1236.5 814.5v5.8M1321.5 814.5v5.8M1405.5 814.5v5.8" stroke="#000" stroke-width="1.15" fill="none"/>
<g font-size="16.67" text-anchor="middle">
<text transform="translate(1150.2 850.7) rotate(-45)" y="6.1">1025</text>
<text transform="translate(1235.2 850.7) rotate(-45)" y="6.1">1026</text>
<text transform="translate(1320.2 850.7) rotate(-45)" y="6.1">1027</text>
<text transform="translate(1404.2 850.7) rotate(-45)" y="6.1">1028</text>
</g>
<text transform="translate(29.5 418.7) rotate(-90)" text-anchor="middle" font-size="22.55" font-weight="bold">Depth (m)</text>
<text x="289.8" y="871.6" text-anchor="middle" font-size="22.55" font-weight="bold">Temperature (<tspan font-weight="normal" font-style="italic" font-size="15.5" dy="-8">o</tspan><tspan font-weight="normal" font-style="italic" dy="8">C</tspan>)</text>
<text x="780.8" y="870" text-anchor="middle" font-size="22.55" font-weight="bold">Salinity</text>
<text x="1272.2" y="896" text-anchor="middle" font-size="22.55" font-weight="bold">Density (kg m-3)</text>
<text x="323.6" y="918.4" font-size="17.7" font-style="italic" xml:space="preserve" textLength="928" lengthAdjust="spacing">Ocean Heat Content (kJ/cm^2) - Glider: N/A,  RTOFS: N/A,  RTOFS (Parallel): N/A,  ESPC: N/A,  CMEMS: N/A,</text>
<g font-size="22.55" font-weight="bold">
<text x="1524.6" y="36.7">Comparison Date: 2025-03-14</text>
<text x="1524.6" y="90">Glider: sg265</text>
<text x="1524.6" y="116.6">Profiles: 7</text>
<text x="1524.6" y="143.3">First: 2025-03-14 01:07:28</text>
<text x="1524.6" y="169.9">Last: 2025-03-14 18:41:59</text>
<text x="1524.6" y="196.6">Method: Nearest-Neighbor</text>
</g>
<clipPath id="cm"><rect x="1564.0" y="273.6" width="403.0" height="285.19999999999993"/></clipPath>
<g clip-path="url(#cm)">
<rect x="1564.0" y="273.6" width="403.0" height="285.19999999999993" fill="#98b6e1" stroke="#000" stroke-width="2.1"/>
<polygon points="1561.0,270.0 1705.5,270.0 1706.0,279.2 1703.4,285.6 1697.8,290.4 1692.7,292.5 1688.8,297.2 1687.1,300.2 1690.1,300.2 1688.8,304.1 1685.4,307.1 1683.2,308.4 1677.0,307.5 1672.0,308.8 1667.0,313.6 1659.0,320.4 1655.0,325.6 1654.0,332.5 1650.5,330.8 1641.0,332.0 1636.8,335.0 1631.0,342.0 1629.0,344.5 1626.5,350.5 1619.6,355.6 1611.9,362.5 1600.7,369.4 1593.8,375.4 1589.5,381.4 1585.2,388.3 1581.8,396.9 1578.3,406.3 1577.0,415.0 1576.6,416.6 1577.9,425.2 1580.0,436.4 1584.4,446.7 1588.7,457.0 1593.8,464.7 1597.3,471.6 1595.5,476.8 1595.0,480.0 1600.7,491.2 1605.0,501.5 1607.6,509.2 1608.0,518.7 1607.0,531.6 1605.0,543.6 1601.6,552.2 1597.3,557.4 1592.0,556.8 1585.2,554.8 1582.6,550.5 1584.4,545.3 1581.0,541.9 1576.6,537.6 1570.6,535.0 1568.0,529.0 1566.3,523.0 1565.0,520.4 1568.9,517.0 1565.5,517.8 1564.0,519.5 1561.0,519.5" fill="#d2b48c"/>
<path d="M1599.0 274.0 L1598.0 280.0 L1603.0 286.0 L1607.0 291.0 L1608.0 297.0 L1612.0 300.0 L1611.5 306.0 L1613.0 313.0 L1618.0 320.0 L1620.0 328.0 L1626.0 336.0 L1629.0 342.0 L1628.5 344.0M1623.0 274.0 L1627.0 281.0 L1630.0 286.0 L1638.0 293.0 L1635.0 298.0 L1636.0 307.0 L1645.0 316.0 L1654.0 323.0M1564.0 294.0 L1573.0 296.0 L1576.0 305.0 L1578.0 318.0 L1583.0 324.5 L1587.0 331.0 L1594.0 335.0 L1599.0 342.0 L1604.0 343.6 L1609.3 349.6 L1611.0 356.5 L1610.5 360.0M1604.0 343.0 L1609.0 341.4 L1616.0 346.0 L1624.0 350.5M1624.0 335.0 L1629.0 338.4 L1628.0 343.6M1671.0 274.0 L1677.0 278.0 L1682.0 276.0M1575.0 326.0 L1582.0 327.0M1564.0 386.6 L1569.8 391.7 L1575.0 397.7M1566.0 342.0 L1574.5 352.0 L1578.2 361.0 L1583.3 369.0 L1585.0 376.0M1577.5 423.0 L1572.3 424.3 L1571.9 431.2 L1574.5 438.0 L1571.5 444.0 L1573.0 451.0 L1578.3 457.8 L1579.2 462.0 L1585.2 464.7 L1588.7 471.6 L1591.2 481.0 L1588.7 482.8 L1584.8 478.9" fill="none" stroke="#98b6e1" stroke-width="1.9" stroke-linejoin="round"/>
<polygon points="1585.2,510 1591.2,504.5 1594.7,509.2 1593,516 1588.7,514.4" fill="#b4b4b4"/>
<circle cx="1572.3" cy="468.2" r="1.2" fill="#b4b4b4"/><circle cx="1580.5" cy="486.2" r="1.4" fill="#b4b4b4"/><circle cx="1580.3" cy="499.3" r="1.2" fill="#b4b4b4"/>
<ellipse cx="1589" cy="481" rx="3.6" ry="2" fill="none" stroke="#98b6e1" stroke-width="1.1"/>
<path d="M1564.0 296.4 L1584.5 297.0 L1585.5 298.8 L1588.5 299.0 L1591.0 303.0 L1591.5 306.3 L1617.0 306.7 L1641.0 331.5M1564.0 340.6 L1567.0 346.0 L1574.0 353.0 L1577.5 361.6 L1582.6 369.4 L1584.4 376.3 L1588.7 380.0M1564.0 412.3 L1569.8 413.2 L1576.2 414.0M1564.3 414.0 L1564.5 422.0" fill="none" stroke="#000" stroke-width="1.4" stroke-linejoin="round"/>
<path d="M1707.7 273.6 L1709.8 278.3 L1710.7 282.6 L1710.4 290.4 L1709.2 295.1 L1705.7 294.0 L1698.2 298.5 L1692.2 303.3 L1688.8 308.8 L1686.6 312.9 L1683.6 308.8" fill="none" stroke="#000" stroke-width="2.2" stroke-linejoin="round" stroke-linecap="round"/>
<path d="M1705.5 270.0 L1706.0 279.2 L1703.4 285.6 L1697.8 290.4 L1692.7 292.5 L1688.8 297.2 L1687.1 300.2 L1690.1 300.2 L1688.8 304.1 L1685.4 307.1 L1683.2 308.4 L1677.0 307.5 L1672.0 308.8 L1667.0 313.6 L1659.0 320.4 L1655.0 325.6 L1654.0 332.5 L1650.5 330.8 L1641.0 332.0 L1636.8 335.0 L1631.0 342.0 L1629.0 344.5 L1626.5 350.5 L1619.6 355.6 L1611.9 362.5 L1600.7 369.4 L1593.8 375.4 L1589.5 381.4 L1585.2 388.3 L1581.8 396.9 L1578.3 406.3 L1577.0 415.0 L1576.6 416.6 L1577.9 425.2 L1580.0 436.4 L1584.4 446.7 L1588.7 457.0 L1593.8 464.7 L1597.3 471.6 L1595.5 476.8 L1595.0 480.0 L1600.7 491.2 L1605.0 501.5 L1607.6 509.2 L1608.0 518.7 L1607.0 531.6 L1605.0 543.6 L1601.6 552.2 L1597.3 557.4 L1592.0 556.8 L1585.2 554.8 L1582.6 550.5 L1584.4 545.3 L1581.0 541.9 L1576.6 537.6 L1570.6 535.0 L1568.0 529.0 L1566.3 523.0 L1565.0 520.4 L1568.9 517.0 L1565.5 517.8 L1564.0 519.5" fill="none" stroke="#000" stroke-width="2.5" stroke-linejoin="round" stroke-linecap="round"/>
<path d="M1681.5 275.0 L1690.0 275.2 L1700.0 275.5 L1706.0 275.5" fill="none" stroke="#000" stroke-width="3.0" stroke-linejoin="round" stroke-linecap="round"/>
<path d="M1697.5 276.0 L1697.8 283.0" fill="none" stroke="#000" stroke-width="3.2" stroke-linejoin="round" stroke-linecap="round"/>
<path d="M1703.5 276.0 L1704.5 281.0" fill="none" stroke="#000" stroke-width="2.2" stroke-linejoin="round" stroke-linecap="round"/>
<path d="M1676.5 287.5 L1681.0 289.5 L1685.0 288.0 L1690.0 290.5 L1696.0 289.5 L1699.0 286.0" fill="none" stroke="#000" stroke-width="4.6" stroke-linejoin="round" stroke-linecap="round"/>
<path d="M1684.0 286.0 L1687.0 293.0 L1685.0 297.5" fill="none" stroke="#000" stroke-width="3.8" stroke-linejoin="round" stroke-linecap="round"/>
<path d="M1676.5 300.0 L1680.0 302.5 L1684.0 302.5 L1688.5 300.0" fill="none" stroke="#000" stroke-width="4.4" stroke-linejoin="round" stroke-linecap="round"/>
<path d="M1686.0 305.0 L1689.5 302.5 L1693.0 299.5" fill="none" stroke="#000" stroke-width="2.6" stroke-linejoin="round" stroke-linecap="round"/>
<path d="M1683.0 308.0 L1686.6 312.3" fill="none" stroke="#000" stroke-width="3.0" stroke-linejoin="round" stroke-linecap="round"/>
<path d="M1654.2 326.0 L1654.0 332.5" fill="none" stroke="#000" stroke-width="3.0" stroke-linejoin="round" stroke-linecap="round"/>
<path d="M1625.0 346.0 L1626.2 349.5" fill="none" stroke="#000" stroke-width="3.4" stroke-linejoin="round" stroke-linecap="round"/>
<path d="M1610.5 360.0 L1613.0 361.5 L1620.0 355.5" fill="none" stroke="#000" stroke-width="3.0" stroke-linejoin="round" stroke-linecap="round"/>
<path d="M1590.0 369.0 L1591.5 374.0 L1594.0 371.0 L1596.0 373.5 L1600.5 369.5" fill="none" stroke="#000" stroke-width="3.6" stroke-linejoin="round" stroke-linecap="round"/>
<path d="M1591.0 377.0 L1593.8 375.4" fill="none" stroke="#000" stroke-width="3.4" stroke-linejoin="round" stroke-linecap="round"/>
<path d="M1584.0 383.0 L1581.5 390.0 L1579.3 398.0 L1577.0 406.0 L1576.6 413.0" fill="none" stroke="#000" stroke-width="5.2" stroke-linejoin="round" stroke-linecap="round"/>
<path d="M1573.5 402.0 L1575.5 404.0" fill="none" stroke="#000" stroke-width="2.6" stroke-linejoin="round" stroke-linecap="round"/>
<path d="M1591.0 467.5 L1594.5 471.0 L1595.5 477.0" fill="none" stroke="#000" stroke-width="3.6" stroke-linejoin="round" stroke-linecap="round"/>
<path d="M1596.0 480.0 L1599.5 488.0" fill="none" stroke="#000" stroke-width="2.8" stroke-linejoin="round" stroke-linecap="round"/>
<path d="M1583.5 551.5 L1586.0 555.0 L1592.0 556.8 L1597.0 556.5" fill="none" stroke="#000" stroke-width="4.0" stroke-linejoin="round" stroke-linecap="round"/>
<path d="M1597.5 556.5 L1601.5 552.0 L1604.5 545.0" fill="none" stroke="#000" stroke-width="2.8" stroke-linejoin="round" stroke-linecap="round"/>
<path d="M1566.0 523.0 L1568.0 529.5 L1571.0 534.5 L1577.0 537.5" fill="none" stroke="#000" stroke-width="3.0" stroke-linejoin="round" stroke-linecap="round"/>
<path d="M1630.6 516.5 L1636.8 521.4 L1641.9 519.5 L1645.4 516.1 L1654.0 516.1 L1657.4 520.0" fill="none" stroke="#000" stroke-width="4.6" stroke-linejoin="round" stroke-linecap="round"/>
<path d="M1639.8 510.9 L1641.9 517.8" fill="none" stroke="#000" stroke-width="3.4" stroke-linejoin="round" stroke-linecap="round"/>
<path d="M1643.7 502.2 L1650.5 505.8 L1657.4 508.4" fill="none" stroke="#000" stroke-width="2.0" stroke-linejoin="round" stroke-linecap="round"/>
<path d="M1654.8 512.0 L1660.9 510.9 L1665.2 513.1 L1669.5 516.5 L1675.0 519.7 L1675.9 524.7 L1671.6 526.4 L1670.3 531.6 L1671.2 537.2" fill="none" stroke="#000" stroke-width="4.4" stroke-linejoin="round" stroke-linecap="round"/>
<path d="M1666.9 516.1 L1669.0 523.0 L1670.7 526.4" fill="none" stroke="#000" stroke-width="6.0" stroke-linejoin="round" stroke-linecap="round"/>
<path d="M1666.9 533.3 L1671.2 537.2" fill="none" stroke="#000" stroke-width="3.6" stroke-linejoin="round" stroke-linecap="round"/>
<path d="M1648.4 507.9 L1649.3 509.7" fill="none" stroke="#000" stroke-width="2.6" stroke-linejoin="round" stroke-linecap="round"/>
<path d="M1663.0 526.4 L1663.4 528.1" fill="none" stroke="#000" stroke-width="3.0" stroke-linejoin="round" stroke-linecap="round"/>
<path d="M1663.9 531.1 L1664.0 532.0" fill="none" stroke="#000" stroke-width="2.4" stroke-linejoin="round" stroke-linecap="round"/>
<path d="M1655.3 538.4 L1660.0 543.6 L1658.3 547.9 L1654.4 548.3" fill="none" stroke="#000" stroke-width="3.8" stroke-linejoin="round" stroke-linecap="round"/>
<path d="M1678.0 546.6 L1683.2 545.3 L1690.1 551.3 L1696.1 556.5 L1695.2 559.5" fill="none" stroke="#000" stroke-width="3.6" stroke-linejoin="round" stroke-linecap="round"/>
<path d="M1678.9 547.5 L1674.6 553.9 L1667.7 556.5 L1663.4 558.6" fill="none" stroke="#000" stroke-width="3.0" stroke-linejoin="round" stroke-linecap="round"/>
<path d="M1650.1 551.3 L1648.0 554.8 L1650.5 559.5" fill="none" stroke="#000" stroke-width="4.4" stroke-linejoin="round" stroke-linecap="round"/>
<path d="M1650.5 559.5 L1654.8 559.5" fill="none" stroke="#000" stroke-width="3.0" stroke-linejoin="round" stroke-linecap="round"/>
<path d="M1625.2 539.3 L1623.9 543.2 L1626.0 546.2" fill="none" stroke="#000" stroke-width="2.6" stroke-linejoin="round" stroke-linecap="round"/>
<path d="M1626.5 548.8 L1627.8 553.1" stroke="#000" stroke-opacity="0.55" stroke-width="1.6" stroke-dasharray="2 2"/>
<path d="M1628.2 534.1 L1629.9 532.9" stroke="#000" stroke-opacity="0.4" stroke-width="1.6"/>
<path d="M1657.8 522.5 L1661.3 526.8" stroke="#000" stroke-opacity="0.4" stroke-width="1.6" stroke-dasharray="2 2"/>
<path d="M1641.1 518.7 L1644.1 517.4" stroke="#d2b48c" stroke-width="1.2"/>
<path d="M1673.3 523.0 L1673.1 526.0" stroke="#d2b48c" stroke-width="1.2"/>
<path d="M1945.6 375 L1948.5 373.3 L1952.3 371" stroke="#000" stroke-width="2.6" stroke-linecap="round" fill="none"/>
<circle cx="1685.3" cy="526.5" r="5.1" fill="#ff0000" stroke="#000" stroke-width="1.4"/>
</g>
<path d="M1586.4 273.6v-8.6M1586.4 558.8v8.6M1653.6 273.6v-8.6M1653.6 558.8v8.6M1720.7 273.6v-8.6M1720.7 558.8v8.6M1787.9 273.6v-8.6M1787.9 558.8v8.6M1855.1 273.6v-8.6M1855.1 558.8v8.6M1922.2 273.6v-8.6M1922.2 558.8v8.6M1564.0 510.4h-8.6M1967.0 510.4h8.6M1564.0 433.9h-8.6M1967.0 433.9h8.6M1564.0 355.1h-8.6M1967.0 355.1h8.6M1564.0 273.6h-8.6M1967.0 273.6h8.6" stroke="#000" stroke-width="2.9" fill="none"/>
<path d="M1564.0 273.6v-3.1M1564.0 558.8v3.1M1608.8 273.6v-3.1M1608.8 558.8v3.1M1631.2 273.6v-3.1M1631.2 558.8v3.1M1675.9 273.6v-3.1M1675.9 558.8v3.1M1698.3 273.6v-3.1M1698.3 558.8v3.1M1743.1 273.6v-3.1M1743.1 558.8v3.1M1765.5 273.6v-3.1M1765.5 558.8v3.1M1810.3 273.6v-3.1M1810.3 558.8v3.1M1832.7 273.6v-3.1M1832.7 558.8v3.1M1877.4 273.6v-3.1M1877.4 558.8v3.1M1899.8 273.6v-3.1M1899.8 558.8v3.1M1944.6 273.6v-3.1M1944.6 558.8v3.1M1967.0 273.6v-3.1M1967.0 558.8v3.1M1564.0 560.2h-3.1M1967.0 560.2h3.1M1564.0 535.4h-3.1M1967.0 535.4h3.1M1564.0 485.1h-3.1M1967.0 485.1h3.1M1564.0 459.6h-3.1M1967.0 459.6h3.1M1564.0 407.9h-3.1M1967.0 407.9h3.1M1564.0 381.7h-3.1M1967.0 381.7h3.1M1564.0 328.3h-3.1M1967.0 328.3h3.1M1564.0 301.1h-3.1M1967.0 301.1h3.1" stroke="#000" stroke-width="1.7" fill="none"/>
<g font-size="22.2" text-anchor="end">
<text x="1548.6" y="283.4">36°N</text>
<text x="1548.6" y="364.9">33°N</text>
<text x="1548.6" y="443.7">30°N</text>
<text x="1548.6" y="520.2">27°N</text>
</g>
<g font-size="22.2" text-anchor="middle">
<text transform="translate(1584.6 603.8) rotate(-45)" y="8.1">81°W</text>
<text transform="translate(1651.8 603.8) rotate(-45)" y="8.1">78°W</text>
<text transform="translate(1718.9 603.8) rotate(-45)" y="8.1">75°W</text>
<text transform="translate(1786.1 603.8) rotate(-45)" y="8.1">72°W</text>
<text transform="translate(1853.3 603.8) rotate(-45)" y="8.1">69°W</text>
<text transform="translate(1920.4 603.8) rotate(-45)" y="8.1">66°W</text>
</g>
<rect x="1635.2" y="635.9" width="261.3" height="179.1" rx="4.4" fill="#fff" fill-opacity="0.8" stroke="#ccc" stroke-opacity="0.8" stroke-width="1.4"/>
<g font-size="22.55">
<path d="M1643.2 655.5H1691" stroke="#0000ff" stroke-width="2.3"/><circle cx="1666.6" cy="655.5" r="5.7" fill="#0000ff"/>
<text x="1706.8" y="663.5">sg265</text>
<path d="M1643.2 690.6H1691" stroke="#ff0000" stroke-width="2.3"/><circle cx="1666.6" cy="690.6" r="5.7" fill="#ff0000"/>
<text x="1706.8" y="698.6">RTOFS</text>
<path d="M1643.2 724.7H1691" stroke="#ffa500" stroke-width="2.3"/><circle cx="1666.6" cy="724.7" r="5.7" fill="#ffa500"/>
<text x="1706.8" y="732.7">RTOFS (Parallel)</text>
<path d="M1643.2 758.6H1691" stroke="#008000" stroke-width="2.3"/><circle cx="1666.6" cy="758.6" r="5.7" fill="#008000"/>
<text x="1706.8" y="766.6">ESPC</text>
<path d="M1643.2 793H1691" stroke="#ff00ff" stroke-width="2.3"/><circle cx="1666.6" cy="793" r="5.7" fill="#ff00ff"/>
<text x="1706.8" y="801">CMEMS</text>
</g>
</svg></body></html>
